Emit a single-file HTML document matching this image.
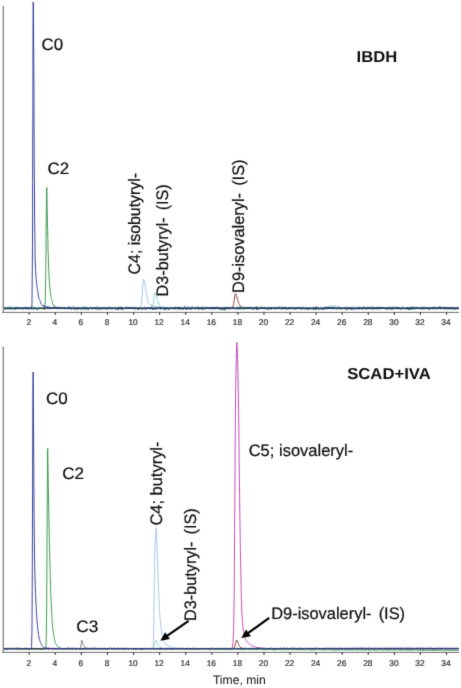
<!DOCTYPE html>
<html><head><meta charset="utf-8"><title>Chromatogram</title>
<style>
html,body{margin:0;padding:0;background:#fff;}
svg text{font-family:"Liberation Sans",Arial,sans-serif;fill:#0d0d0d;text-rendering:geometricPrecision;}
.lb{font-size:16.6px;stroke:#0d0d0d;stroke-width:0.2px;}
.ws{word-spacing:2.6px;}
.hd{font-size:15.8px;font-weight:bold;}
.ax{font-size:12.4px;}
.tk{font-size:8.35px;fill:#333;stroke:#333;stroke-width:0.22px;}
</style></head><body>
<svg width="461" height="688" viewBox="0 0 461 688" style="display:block">
<defs><filter id="soft" x="-2%" y="-2%" width="104%" height="104%" color-interpolation-filters="sRGB"><feConvolveMatrix order="3" kernelMatrix="0.0113 0.0838 0.0113 0.0838 0.6193 0.0838 0.0113 0.0838 0.0113" divisor="1" edgeMode="none" preserveAlpha="false"/></filter></defs>
<rect width="461" height="688" fill="#fff"/>
<g filter="url(#soft)">
<g id="p1">
<path d="M3.2,307.7 L3.8,306.8 L4.4,306.9 L5.0,308.1 L5.6,308.0 L6.2,308.1 L6.8,307.3 L7.4,307.8 L8.0,307.2 L8.6,309.1 L9.2,306.6 L9.8,307.8 L10.4,307.3 L11.0,307.8 L11.6,308.0 L12.2,307.4 L12.8,307.2 L13.4,307.9 L14.0,307.9 L14.6,307.3 L15.2,308.4 L15.8,308.8 L16.4,307.5 L17.0,308.2 L17.6,309.1 L18.2,308.3 L18.8,308.1 L19.4,308.6 L20.0,308.8 L20.6,307.7 L21.2,307.1 L21.8,307.9 L22.4,308.3 L23.0,307.5 L23.6,307.2 L24.2,308.0 L24.8,307.4 L25.4,307.0 L26.0,307.9 L26.6,308.3 L27.2,307.5 L27.8,307.6 L28.4,307.0 L29.0,308.7 L29.6,308.2 L30.2,308.3 L30.8,309.0 L31.4,307.7 L32.0,307.4 L32.6,308.3 L33.2,306.8 L33.8,307.2 L34.4,307.3 L35.0,307.5 L35.6,307.1 L36.2,308.7 L36.8,307.3 L37.4,307.3 L38.0,309.0 L38.6,307.5 L39.2,307.9 L39.8,307.2 L40.4,308.1 L41.0,307.8 L41.6,307.5 L42.2,308.4 L42.8,307.3 L43.4,307.8 L44.0,307.4 L44.6,308.1 L45.2,307.0 L45.8,307.3 L46.4,307.9 L47.0,307.3 L47.6,306.9 L48.2,306.5 L48.8,308.9 L49.4,307.1 L50.0,307.4 L50.6,307.8 L51.2,308.5 L51.8,306.9 L52.4,308.6 L53.0,307.3 L53.6,306.8 L54.2,308.9 L54.8,308.0 L55.4,308.7 L56.0,307.6 L56.6,306.7 L57.2,306.3 L57.8,309.0 L58.4,308.2 L59.0,307.2 L59.6,306.6 L60.2,307.5 L60.8,308.3 L61.4,307.5 L62.0,307.8 L62.6,307.9 L63.2,308.3 L63.8,307.5 L64.4,307.5 L65.0,307.8 L65.6,307.9 L66.2,308.7 L66.8,308.1 L67.4,306.9 L68.0,307.9 L68.6,308.8 L69.2,306.8 L69.8,307.4 L70.4,306.3 L71.0,307.7 L71.6,308.1 L72.2,308.8 L72.8,306.8 L73.4,305.9 L74.0,308.3 L74.6,308.2 L75.2,307.3 L75.8,308.3 L76.4,307.9 L77.0,308.0 L77.6,307.6 L78.2,307.0 L78.8,307.7 L79.4,307.1 L80.0,308.0 L80.6,307.5 L81.2,309.3 L81.8,308.8 L82.4,307.2 L83.0,308.2 L83.6,307.3 L84.2,307.4 L84.8,306.8 L85.4,307.2 L86.0,307.0 L86.6,307.8 L87.2,308.2 L87.8,308.3 L88.4,308.1 L89.0,308.6 L89.6,308.1 L90.2,307.8 L90.8,307.6 L91.4,308.0 L92.0,309.1 L92.6,307.8 L93.2,307.6 L93.8,307.0 L94.4,307.3 L95.0,308.2 L95.6,308.3 L96.2,306.3 L96.8,307.2 L97.4,306.4 L98.0,306.2 L98.6,308.3 L99.2,307.5 L99.8,307.4 L100.4,307.4 L101.0,307.4 L101.6,307.6 L102.2,307.6 L102.8,308.8 L103.4,307.9 L104.0,308.3 L104.6,307.7 L105.2,308.1 L105.8,307.3 L106.4,307.2 L107.0,307.5 L107.6,307.5 L108.2,307.7 L108.8,308.1 L109.4,307.9 L110.0,308.1 L110.6,307.5 L111.2,307.7 L111.8,307.3 L112.4,308.7 L113.0,307.1 L113.6,308.3 L114.2,308.3 L114.8,307.9 L115.4,308.2 L116.0,307.5 L116.6,308.2 L117.2,308.5 L117.8,308.4 L118.4,306.8 L119.0,307.7 L119.6,308.6 L120.2,307.7 L120.8,308.9 L121.4,306.5 L122.0,308.8 L122.6,307.4 L123.2,307.4 L123.8,308.8 L124.4,307.5 L125.0,307.0 L125.6,307.4 L126.2,307.6 L126.8,307.1 L127.4,307.6 L128.0,307.5 L128.6,307.8 L129.2,307.3 L129.8,308.4 L130.4,307.2 L131.0,308.1 L131.6,308.5 L132.2,307.5 L132.8,306.5 L133.4,307.1 L134.0,308.1 L134.6,307.3 L135.2,308.1 L135.8,307.8 L136.4,307.7 L137.0,309.4 L137.6,307.6 L137.7,307.8 L137.9,308.1 L138.1,308.4 L138.2,308.5 L138.3,308.4 L138.5,308.3 L138.7,308.3 L138.8,308.2 L138.9,308.3 L139.1,308.5 L139.3,308.7 L139.4,308.7 L139.5,308.7 L139.7,308.7 L139.9,308.6 L140.0,308.5 L140.1,308.3 L140.3,308.0 L140.5,307.5 L140.6,307.3 L140.7,306.7 L140.9,305.7 L141.1,304.4 L141.2,303.9 L141.3,303.1 L141.5,301.5 L141.7,299.6 L141.8,298.9 L141.9,297.9 L142.1,296.0 L142.3,293.9 L142.4,293.1 L142.5,291.2 L142.7,288.2 L142.9,285.3 L143.0,284.3 L143.1,282.9 L143.3,281.2 L143.5,279.9 L143.6,279.6 L143.7,279.2 L143.9,279.3 L144.1,280.6 L144.2,281.1 L144.3,281.4 L144.5,282.1 L144.7,282.7 L144.8,283.0 L144.9,283.8 L145.1,285.0 L145.3,286.2 L145.4,286.7 L145.5,287.7 L145.7,289.2 L145.9,290.7 L146.0,291.3 L146.1,292.0 L146.3,293.1 L146.5,294.1 L146.6,294.5 L146.7,295.1 L146.9,296.1 L147.1,297.1 L147.2,297.4 L147.3,298.2 L147.5,299.4 L147.7,300.5 L147.8,300.8 L147.9,301.4 L148.1,302.1 L148.3,302.8 L148.4,303.1 L148.5,303.2 L148.7,303.3 L148.9,303.4 L149.0,303.4 L149.1,303.7 L149.3,304.0 L149.5,304.2 L149.6,304.3 L149.7,304.5 L149.9,304.8 L150.1,305.0 L150.2,305.1 L150.3,305.0 L150.5,304.8 L150.7,304.7 L150.8,304.6 L150.9,304.6 L151.1,304.6 L151.3,304.5 L151.4,304.5 L151.5,304.9 L151.7,305.5 L151.9,306.1 L152.0,306.3 L152.1,306.2 L152.3,306.0 L152.5,305.9 L152.6,305.8 L152.7,305.8 L152.9,305.8 L153.1,305.8 L153.2,305.9 L153.3,305.9 L153.5,306.0 L153.7,306.2 L153.8,306.2 L153.9,306.2 L154.1,306.2 L154.3,306.1 L154.4,306.1 L154.5,306.4 L154.7,306.8 L154.9,307.1 L155.0,307.3 L155.1,307.1 L155.3,306.9 L155.5,306.7 L155.6,306.6 L155.7,306.4 L155.9,306.1 L156.1,305.9 L156.2,305.8 L156.3,306.0 L156.5,306.3 L156.7,306.6 L156.8,306.7 L156.9,307.0 L157.1,307.3 L157.3,307.7 L157.4,307.8 L157.5,307.6 L157.7,307.4 L157.9,307.1 L158.0,307.0 L158.1,306.9 L158.3,306.8 L158.5,306.6 L158.6,306.6 L158.7,306.7 L158.9,307.0 L159.1,307.2 L159.2,307.3 L159.3,307.4 L159.5,307.6 L159.7,307.9 L159.8,308.0 L159.9,307.6 L160.1,307.1 L160.3,306.7 L160.4,306.5 L160.5,306.9 L160.7,307.6 L160.9,308.3 L161.0,308.5 L161.1,308.2 L161.3,307.8 L161.5,307.4 L161.6,307.3 L161.7,307.4 L161.9,307.5 L162.1,307.6 L162.2,307.7 L162.3,307.8 L162.5,308.1 L162.7,308.4 L162.8,308.5 L162.9,308.1 L163.1,307.6 L163.3,307.0 L163.4,306.8 L163.5,306.9 L163.7,307.2 L163.9,307.4 L164.0,307.4 L164.1,307.7 L164.3,308.0 L164.5,308.4 L164.6,308.5 L164.7,308.3 L164.9,307.8 L165.1,307.4 L165.2,307.3 L165.3,307.4 L165.5,307.7 L165.7,307.9 L165.8,308.0 L165.9,308.2 L166.1,308.6 L166.3,308.9 L166.4,309.1 L166.5,308.9 L166.7,308.6 L166.9,308.3 L167.0,308.2 L167.1,308.1 L167.3,307.8 L167.6,307.5 L168.2,307.3 L168.8,307.6 L169.4,307.7 L170.0,307.4 L170.6,307.9 L171.2,306.9 L171.8,307.6 L172.4,307.5 L173.0,307.4 L173.6,308.5 L174.2,308.3 L174.8,306.7 L175.4,307.5 L176.0,307.9 L176.6,307.5 L177.2,308.1 L177.8,307.6 L178.4,308.2 L179.0,307.6 L179.6,308.9 L180.2,306.8 L180.8,308.1 L181.4,308.9 L182.0,307.9 L182.6,308.0 L183.2,307.6 L183.8,308.6 L184.4,307.5 L185.0,305.2 L185.6,308.7 L186.2,307.5 L186.8,308.0 L187.4,307.6 L188.0,309.0 L188.6,308.6 L189.2,307.4 L189.8,307.8 L190.4,306.6 L191.0,308.3 L191.6,307.6 L192.2,305.7 L192.8,308.3 L193.4,308.4 L194.0,307.8 L194.6,307.8 L195.2,307.1 L195.8,307.7 L196.4,308.3 L197.0,307.6 L197.6,305.9 L198.2,306.8 L198.8,309.7 L199.4,307.9 L200.0,308.4 L200.6,307.3 L201.2,307.9 L201.8,306.4 L202.4,307.1 L203.0,307.1 L203.6,307.6 L204.2,307.8 L204.8,307.5 L205.4,306.8 L206.0,307.4 L206.6,308.0 L207.2,306.8 L207.8,307.6 L208.4,307.8 L209.0,308.3 L209.6,308.2 L210.2,308.2 L210.8,309.7 L211.4,307.0 L212.0,307.3 L212.6,307.9 L213.2,307.0 L213.8,307.4 L214.4,307.5 L215.0,309.5 L215.6,307.9 L216.2,307.4 L216.8,306.6 L217.4,306.4 L218.0,306.7 L218.6,308.6 L219.2,309.3 L219.8,307.3 L220.4,307.7 L221.0,307.1 L221.6,307.8 L222.2,307.6 L222.8,308.8 L223.4,307.4 L224.0,308.1 L224.6,307.5 L225.2,307.4 L225.8,307.8 L226.4,307.5 L227.0,307.8 L227.6,307.2 L228.2,307.4 L228.8,308.1 L229.4,308.2 L230.0,306.5 L230.6,307.8 L231.2,307.0 L231.8,307.5 L232.4,308.2 L233.0,308.3 L233.6,307.7 L234.2,307.6 L234.8,307.3 L235.4,308.7 L236.0,308.2 L236.6,307.8 L237.2,306.6 L237.8,309.4 L238.4,307.4 L239.0,308.1 L239.6,307.4 L240.2,308.1 L240.8,307.5 L241.4,306.6 L242.0,307.5 L242.6,307.4 L243.2,307.5 L243.8,308.3 L244.4,307.4 L245.0,307.9 L245.6,308.3 L246.2,307.8 L246.8,307.9 L247.4,307.2 L248.0,307.8 L248.6,308.1 L249.2,306.7 L249.8,307.0 L250.4,306.8 L251.0,307.3 L251.6,307.8 L252.2,308.0 L252.8,307.9 L253.4,307.1 L254.0,307.7 L254.6,308.8 L255.2,307.8 L255.8,308.8 L256.4,307.6 L257.0,308.6 L257.6,308.6 L258.2,307.7 L258.8,307.8 L259.4,308.9 L260.0,307.2 L260.6,306.2 L261.2,308.8 L261.8,306.5 L262.4,308.2 L263.0,308.1 L263.6,307.9 L264.2,308.8 L264.8,306.8 L265.4,307.4 L266.0,308.3 L266.6,307.9 L267.2,308.8 L267.8,308.0 L268.4,307.1 L269.0,309.0 L269.6,308.1 L270.2,307.6 L270.8,307.0 L271.4,306.8 L272.0,308.1 L272.6,308.3 L273.2,307.4 L273.8,308.0 L274.4,308.0 L275.0,307.0 L275.6,306.5 L276.2,307.6 L276.8,307.9 L277.4,307.3 L278.0,309.1 L278.6,307.8 L279.2,308.5 L279.8,306.1 L280.4,307.2 L281.0,307.6 L281.6,307.9 L282.2,309.5 L282.8,307.2 L283.4,306.6 L284.0,308.3 L284.6,307.3 L285.2,307.2 L285.8,308.9 L286.4,307.1 L287.0,306.8 L287.6,307.6 L288.2,307.8 L288.8,307.2 L289.4,308.8 L290.0,307.7 L290.6,307.0 L291.2,308.6 L291.8,307.0 L292.4,308.0 L293.0,309.2 L293.6,307.8 L294.2,308.4 L294.8,307.5 L295.4,308.6 L296.0,307.0 L296.6,308.3 L297.2,307.5 L297.8,308.2 L298.4,308.0 L299.0,306.9 L299.6,307.6 L300.2,308.0 L300.8,308.6 L301.4,306.9 L302.0,307.2 L302.6,308.0 L303.2,307.6 L303.8,308.5 L304.4,308.5 L305.0,308.3 L305.6,307.5 L306.2,307.5 L306.8,308.3 L307.4,307.2 L308.0,307.2 L308.2,307.4 L308.4,307.5 L308.6,307.6 L308.8,307.4 L309.0,307.2 L309.2,307.0 L309.2,307.1 L309.4,307.4 L309.6,307.7 L309.8,308.0 L309.8,307.9 L310.0,307.9 L310.2,307.9 L310.4,307.8 L310.6,307.7 L310.8,307.5 L311.0,307.4 L311.2,307.5 L311.4,307.7 L311.6,307.8 L311.6,307.7 L311.8,307.5 L312.0,307.3 L312.2,307.2 L312.2,307.3 L312.4,307.7 L312.6,308.2 L312.8,308.6 L312.8,308.5 L313.0,307.9 L313.2,307.3 L313.4,306.7 L313.4,306.8 L313.6,307.3 L313.8,307.9 L314.0,308.3 L314.2,308.1 L314.4,308.0 L314.6,307.9 L314.8,308.2 L315.0,308.5 L315.2,308.7 L315.2,308.6 L315.4,308.2 L315.6,307.7 L315.8,307.3 L316.0,307.1 L316.2,306.9 L316.4,306.8 L316.6,306.9 L316.8,306.9 L317.0,306.9 L317.0,307.0 L317.2,307.0 L317.4,307.1 L317.6,307.1 L317.6,307.2 L317.8,307.7 L318.0,308.3 L318.2,308.8 L318.4,308.6 L318.6,308.4 L318.8,308.2 L319.0,308.1 L319.2,308.0 L319.4,308.0 L319.6,308.1 L319.8,308.2 L320.0,308.3 L320.0,308.2 L320.2,307.7 L320.4,307.2 L320.6,306.8 L320.8,307.0 L321.0,307.2 L321.2,307.4 L321.4,307.4 L321.6,307.5 L321.8,307.5 L322.0,307.3 L322.2,307.2 L322.4,307.1 L322.6,307.5 L322.8,307.8 L323.0,308.1 L323.2,308.0 L323.4,308.0 L323.6,308.0 L323.8,307.9 L324.0,307.9 L324.2,307.9 L324.2,307.8 L324.4,307.5 L324.6,307.1 L324.8,306.8 L325.0,306.8 L325.2,306.8 L325.4,306.8 L325.6,306.7 L325.8,306.7 L326.0,306.6 L326.2,306.4 L326.4,306.3 L326.6,306.1 L326.6,306.2 L326.8,306.8 L327.0,307.3 L327.2,307.8 L327.2,307.7 L327.4,307.5 L327.6,307.3 L327.8,307.1 L328.0,306.9 L328.2,306.7 L328.4,306.5 L328.4,306.6 L328.6,306.9 L328.8,307.2 L329.0,307.5 L329.2,307.3 L329.4,307.0 L329.6,306.9 L329.6,306.8 L329.8,306.4 L330.0,306.0 L330.2,305.7 L330.4,305.6 L330.6,305.6 L330.8,305.6 L331.0,305.6 L331.2,305.5 L331.4,305.5 L331.4,305.6 L331.6,305.8 L331.8,306.0 L332.0,306.2 L332.2,306.3 L332.4,306.4 L332.6,306.4 L332.8,306.0 L333.0,305.7 L333.2,305.5 L333.4,305.9 L333.6,306.2 L333.8,306.5 L334.0,306.3 L334.2,306.2 L334.4,306.0 L334.6,305.8 L334.8,305.6 L335.0,305.4 L335.2,305.9 L335.4,306.3 L335.6,306.6 L335.6,306.7 L335.8,306.7 L336.0,306.8 L336.2,306.9 L336.4,306.7 L336.6,306.6 L336.8,306.5 L337.0,306.4 L337.2,306.3 L337.4,306.2 L337.6,306.2 L337.8,306.3 L338.0,306.3 L338.0,306.4 L338.2,306.5 L338.4,306.6 L338.6,306.7 L338.8,306.6 L339.0,306.5 L339.2,306.5 L339.2,306.6 L339.4,307.1 L339.6,307.6 L339.8,308.1 L340.0,307.9 L340.2,307.8 L340.4,307.7 L340.4,307.6 L340.6,307.4 L340.8,307.2 L341.0,307.0 L341.0,307.1 L341.2,307.3 L341.4,307.6 L341.6,307.9 L341.8,308.0 L342.0,308.1 L342.2,308.2 L342.4,308.2 L342.6,308.2 L342.8,308.2 L343.0,308.2 L343.2,308.1 L343.4,308.1 L343.4,308.0 L343.6,307.9 L343.8,307.7 L344.0,307.6 L344.2,307.8 L344.4,308.1 L344.6,308.2 L344.8,307.9 L345.0,307.6 L345.2,307.4 L345.2,307.3 L345.4,307.0 L345.6,306.7 L345.8,306.4 L345.8,306.5 L346.0,306.9 L346.2,307.4 L346.4,307.7 L346.6,307.4 L346.8,307.0 L347.0,306.7 L347.0,306.8 L347.2,307.0 L347.4,307.3 L347.6,307.5 L347.8,307.9 L348.0,308.2 L348.2,308.5 L348.4,308.3 L348.6,308.1 L348.8,307.9 L349.0,308.1 L349.2,308.3 L349.4,308.4 L349.6,307.9 L349.8,307.5 L350.0,307.2 L350.2,307.7 L350.4,308.2 L350.6,308.5 L350.8,307.9 L351.0,307.3 L351.2,306.8 L351.4,307.0 L351.6,307.2 L351.8,307.3 L351.8,307.4 L352.0,308.0 L352.2,308.7 L352.4,309.2 L352.4,309.1 L352.6,308.4 L352.8,307.8 L353.0,307.2 L353.2,307.0 L353.4,306.8 L353.6,306.6 L353.6,306.7 L353.8,307.3 L354.0,307.8 L354.2,308.3 L354.2,308.2 L354.4,307.8 L354.6,307.4 L354.8,307.0 L354.8,307.1 L355.0,307.8 L355.2,308.5 L355.4,309.0 L355.6,308.5 L355.8,308.0 L356.0,307.6 L356.2,308.1 L356.4,308.5 L356.6,308.9 L356.8,308.3 L357.0,307.8 L357.2,307.4 L357.2,307.5 L357.4,308.0 L357.6,308.6 L357.8,309.0 L357.8,309.1 L358.0,309.3 L358.2,309.5 L358.4,309.6 L358.4,309.5 L358.6,308.8 L358.8,308.1 L359.0,307.5 L359.0,307.4 L359.2,307.0 L359.4,306.5 L359.6,306.1 L359.6,306.2 L359.8,306.9 L360.0,307.6 L360.2,308.2 L360.2,308.1 L360.4,307.8 L360.6,307.4 L360.8,307.2 L361.0,307.4 L361.2,307.5 L361.4,307.7 L361.6,307.8 L361.8,307.9 L362.0,308.0 L362.0,307.9 L362.2,307.7 L362.4,307.5 L362.6,307.3 L362.8,307.0 L363.0,306.8 L363.2,306.6 L363.2,306.7 L363.4,307.4 L363.6,308.0 L363.8,308.6 L364.0,308.1 L364.2,307.7 L364.4,307.3 L364.4,307.4 L364.6,307.4 L364.8,307.5 L365.0,307.5 L365.0,307.6 L365.2,308.0 L365.4,308.4 L365.6,308.8 L365.6,308.7 L365.8,307.9 L366.0,307.2 L366.2,306.6 L366.4,306.5 L366.6,306.4 L366.8,306.4 L366.8,306.5 L367.0,307.2 L367.2,307.8 L367.4,308.4 L367.4,308.3 L367.6,307.7 L367.8,307.1 L368.0,306.5 L368.0,306.6 L368.2,307.0 L368.4,307.4 L368.6,307.7 L368.8,307.8 L369.0,307.8 L369.2,307.9 L369.2,307.8 L369.4,307.4 L369.6,307.0 L369.8,306.7 L370.0,307.0 L370.2,307.3 L370.4,307.6 L370.6,307.6 L370.8,307.5 L371.0,307.5 L371.6,306.7 L372.2,306.8 L372.8,307.1 L373.4,308.7 L374.0,308.9 L374.6,306.9 L375.2,308.4 L375.8,307.6 L376.4,308.5 L377.0,307.9 L377.6,308.7 L378.2,306.6 L378.8,308.5 L379.4,307.8 L380.0,307.9 L380.6,306.9 L381.2,308.8 L381.8,307.8 L382.4,307.9 L383.0,307.4 L383.6,307.4 L384.2,308.1 L384.8,307.6 L385.4,308.0 L386.0,307.4 L386.6,307.8 L387.2,308.2 L387.8,307.8 L388.4,307.5 L389.0,306.1 L389.6,308.1 L390.2,307.5 L390.8,306.7 L391.4,309.2 L392.0,309.0 L392.6,308.6 L393.2,307.8 L393.8,306.0 L394.4,307.5 L395.0,306.9 L395.6,307.9 L396.2,309.5 L396.8,309.4 L397.4,307.0 L398.0,307.6 L398.6,308.7 L399.2,307.0 L399.8,308.8 L400.4,306.9 L401.0,306.7 L401.6,308.3 L402.2,308.5 L402.8,307.1 L403.4,308.5 L404.0,307.1 L404.6,308.6 L405.2,307.2 L405.8,307.7 L406.4,308.1 L407.0,308.4 L407.6,307.6 L408.2,309.1 L408.8,307.9 L409.4,308.0 L410.0,307.3 L410.6,308.6 L411.2,306.5 L411.8,308.0 L412.4,308.6 L413.0,306.8 L413.6,306.6 L414.2,307.9 L414.8,308.4 L415.4,307.7 L416.0,308.2 L416.6,308.0 L417.2,306.6 L417.8,307.5 L418.4,307.6 L419.0,307.5 L419.6,307.8 L420.2,307.2 L420.8,307.1 L421.4,308.0 L422.0,307.7 L422.6,306.0 L423.2,307.5 L423.8,307.9 L424.4,306.3 L425.0,307.7 L425.6,308.5 L426.2,307.3 L426.8,308.4 L427.4,308.1 L428.0,307.5 L428.6,307.8 L429.2,308.3 L429.8,308.1 L430.4,308.2 L431.0,306.9 L431.6,308.3 L432.2,308.2 L432.8,306.3 L433.4,308.1 L434.0,306.7 L434.6,306.8 L435.2,307.9 L435.8,308.8 L436.4,307.4 L437.0,307.3 L437.6,307.1 L438.2,307.7 L438.8,306.9 L439.4,306.8 L440.0,308.5 L440.6,306.7 L441.2,307.6 L441.8,308.2 L442.4,308.0 L443.0,306.4 L443.6,307.1 L444.2,309.0 L444.8,307.7 L445.4,307.8 L446.0,307.9 L446.6,308.1 L447.2,308.8 L447.8,307.1 L448.4,308.4 L449.0,308.0 L449.6,308.2 L450.2,308.3 L450.8,307.2 L451.4,307.5 L452.0,308.2 L452.6,308.4 L453.2,308.1 L453.8,307.1 L454.4,307.7 L455.0,307.6 L455.6,308.0 L456.2,307.9 L456.8,307.6 L457.4,309.1 L458.0,306.6 L458.6,308.3" fill="none" stroke="#9fc0e3" stroke-width="1.0" stroke-linejoin="round" stroke-linecap="butt"/>
<path d="M3.2,308.0 L3.8,308.4 L4.4,309.0 L5.0,307.9 L5.6,307.3 L6.2,308.6 L6.8,307.2 L7.4,308.7 L8.0,308.5 L8.6,307.8 L9.2,308.0 L9.8,307.6 L10.4,308.5 L11.0,308.7 L11.6,309.1 L12.2,308.8 L12.8,308.7 L13.4,308.9 L14.0,307.9 L14.6,308.4 L15.2,309.2 L15.8,306.6 L16.4,308.5 L17.0,308.8 L17.6,307.3 L18.2,307.4 L18.8,308.7 L19.4,308.9 L20.0,308.6 L20.6,307.4 L21.2,308.2 L21.8,308.5 L22.4,308.1 L23.0,307.3 L23.6,308.9 L24.2,308.3 L24.8,308.9 L25.4,306.8 L26.0,307.0 L26.6,307.5 L27.2,308.1 L27.8,307.7 L28.4,309.3 L29.0,307.9 L29.6,308.8 L30.2,308.8 L30.8,308.5 L31.4,308.3 L32.0,307.7 L32.6,307.6 L33.2,307.9 L33.8,308.6 L34.4,307.7 L35.0,308.1 L35.6,307.4 L36.2,308.6 L36.8,309.7 L37.4,308.3 L38.0,306.8 L38.6,307.8 L39.2,308.2 L39.8,307.5 L40.4,307.8 L41.0,307.8 L41.6,308.4 L42.2,308.0 L42.8,307.9 L43.4,308.4 L44.0,308.7 L44.6,308.0 L45.2,307.5 L45.8,307.7 L46.4,307.8 L47.0,307.8 L47.6,306.5 L48.2,307.9 L48.8,307.4 L49.4,306.9 L50.0,308.0 L50.6,307.9 L51.2,307.4 L51.8,307.1 L52.4,307.9 L53.0,307.8 L53.6,308.0 L54.2,308.8 L54.8,307.4 L55.4,308.2 L56.0,309.1 L56.6,308.1 L57.2,309.1 L57.8,308.6 L58.4,308.0 L59.0,308.6 L59.6,307.4 L60.2,308.9 L60.8,307.9 L61.4,307.7 L62.0,307.2 L62.6,307.5 L63.2,307.9 L63.8,308.0 L64.4,308.1 L65.0,307.4 L65.6,308.4 L66.2,307.7 L66.8,308.1 L67.4,307.9 L68.0,308.2 L68.6,306.8 L69.2,308.4 L69.8,307.9 L70.4,307.9 L71.0,307.7 L71.6,307.8 L72.2,307.8 L72.8,307.5 L73.4,308.9 L74.0,308.0 L74.6,308.8 L75.2,307.9 L75.8,308.7 L76.4,308.6 L77.0,308.1 L77.6,307.2 L78.2,307.7 L78.8,307.9 L79.4,307.2 L80.0,308.6 L80.6,309.3 L81.2,308.3 L81.8,308.2 L82.4,307.3 L83.0,306.8 L83.6,308.8 L84.2,306.6 L84.8,307.1 L85.4,307.5 L86.0,307.8 L86.6,306.6 L87.2,308.0 L87.8,308.3 L88.4,308.0 L89.0,308.8 L89.6,307.8 L90.2,308.1 L90.8,307.8 L91.4,307.8 L92.0,308.7 L92.6,307.3 L93.2,308.6 L93.8,307.5 L94.4,309.0 L95.0,307.8 L95.6,308.5 L96.2,308.0 L96.8,308.4 L97.4,309.3 L98.0,308.7 L98.6,308.0 L99.2,307.7 L99.8,308.9 L100.4,309.3 L101.0,308.6 L101.6,308.2 L102.2,308.4 L102.8,308.5 L103.4,307.5 L104.0,307.5 L104.6,307.6 L105.2,308.6 L105.8,308.0 L106.4,308.2 L107.0,308.9 L107.6,307.5 L108.2,308.0 L108.8,308.3 L109.4,307.2 L110.0,307.6 L110.6,307.5 L111.2,307.3 L111.8,307.6 L112.4,308.8 L113.0,308.3 L113.6,307.5 L114.2,308.5 L114.8,308.0 L115.4,307.8 L116.0,307.2 L116.6,307.3 L117.2,307.5 L117.8,308.2 L118.4,307.5 L119.0,307.7 L119.6,308.1 L120.2,307.2 L120.8,307.8 L121.4,308.5 L122.0,307.3 L122.6,308.2 L123.2,307.7 L123.8,308.9 L124.4,308.1 L125.0,308.6 L125.6,308.6 L126.2,309.2 L126.8,306.8 L127.4,308.1 L128.0,307.9 L128.6,307.4 L129.2,308.1 L129.8,307.7 L130.4,308.8 L131.0,307.9 L131.6,308.3 L132.2,307.8 L132.8,307.9 L133.4,308.9 L134.0,309.1 L134.6,308.6 L135.2,307.6 L135.8,307.8 L136.4,307.8 L137.0,309.2 L137.6,309.6 L138.2,308.4 L138.8,308.2 L139.4,308.4 L140.0,307.8 L140.6,308.1 L141.2,308.7 L141.8,308.6 L142.4,308.0 L143.0,308.0 L143.6,308.1 L144.2,306.7 L144.8,308.2 L145.4,308.0 L146.0,308.6 L146.6,308.3 L147.2,307.7 L147.8,307.7 L148.4,308.1 L149.0,307.8 L149.5,308.0 L149.6,308.0 L149.7,308.3 L149.9,308.6 L150.1,309.0 L150.2,309.2 L150.3,309.3 L150.5,309.6 L150.7,309.9 L150.8,310.0 L150.9,309.2 L151.1,308.1 L151.3,307.0 L151.4,306.6 L151.5,306.7 L151.7,306.9 L151.9,307.1 L152.0,307.1 L152.1,307.0 L152.3,306.9 L152.5,306.5 L152.6,306.4 L152.7,306.1 L152.9,305.6 L153.1,304.8 L153.2,304.4 L153.3,303.5 L153.5,301.8 L153.7,300.0 L153.8,299.4 L153.9,297.9 L154.1,295.7 L154.3,293.6 L154.4,293.0 L154.5,292.8 L154.7,292.9 L154.9,293.4 L155.0,293.8 L155.1,293.7 L155.3,293.7 L155.5,293.7 L155.6,293.7 L155.7,293.9 L155.9,294.2 L156.1,294.6 L156.2,294.8 L156.3,295.3 L156.5,296.2 L156.7,297.0 L156.8,297.3 L156.9,297.7 L157.1,298.4 L157.3,299.0 L157.4,299.2 L157.5,299.8 L157.7,300.7 L157.9,301.5 L158.0,301.8 L158.1,301.9 L158.3,302.0 L158.5,302.1 L158.6,302.1 L158.7,302.9 L158.9,304.0 L159.1,305.1 L159.2,305.5 L159.3,305.8 L159.5,306.2 L159.7,306.6 L159.8,306.7 L159.9,306.7 L160.1,306.6 L160.3,306.5 L160.4,306.5 L160.5,306.4 L160.7,306.4 L160.9,306.3 L161.0,306.2 L161.1,306.5 L161.3,306.9 L161.5,307.3 L161.6,307.4 L161.7,307.3 L161.9,307.2 L162.1,307.0 L162.2,306.9 L162.3,307.2 L162.5,307.5 L162.7,307.9 L162.8,308.0 L162.9,308.1 L163.1,308.2 L163.3,308.4 L163.4,308.4 L163.5,308.1 L163.7,307.6 L163.9,307.2 L164.0,307.0 L164.1,307.0 L164.3,307.0 L164.5,306.9 L164.6,306.9 L164.7,306.9 L164.9,307.0 L165.1,307.0 L165.2,307.0 L165.3,307.2 L165.5,307.6 L165.7,308.0 L165.8,308.2 L165.9,308.3 L166.1,308.4 L166.3,308.6 L166.4,308.6 L166.5,308.6 L166.7,308.6 L166.9,308.6 L167.0,308.7 L167.1,308.5 L167.3,308.4 L167.5,308.2 L167.6,308.1 L167.7,308.0 L167.9,307.9 L168.1,307.7 L168.2,307.7 L168.3,307.7 L168.5,307.7 L168.7,307.7 L168.8,307.7 L168.9,308.0 L169.1,308.3 L169.3,308.7 L169.4,308.9 L169.5,308.6 L169.7,308.3 L169.9,308.0 L170.0,307.9 L170.1,307.9 L170.3,308.0 L170.5,308.0 L170.6,308.0 L170.7,308.0 L170.9,308.0 L171.1,308.0 L171.2,308.0 L171.3,308.0 L171.5,308.0 L171.7,308.0 L171.8,308.0 L171.9,308.1 L172.1,308.1 L172.3,308.1 L172.4,308.2 L172.5,308.1 L172.7,307.9 L172.9,307.7 L173.0,307.7 L173.1,307.7 L173.3,307.8 L173.5,307.9 L173.6,308.0 L173.7,308.0 L173.9,307.9 L174.1,307.9 L174.2,307.9 L174.3,308.0 L174.5,308.2 L174.7,308.4 L174.8,308.4 L174.9,308.3 L175.4,307.8 L176.0,308.1 L176.6,309.3 L177.2,307.8 L177.8,308.2 L178.4,307.5 L179.0,308.1 L179.6,308.1 L180.2,307.9 L180.8,308.1 L181.4,308.3 L182.0,309.1 L182.6,307.0 L183.2,309.0 L183.8,308.3 L184.4,307.7 L185.0,307.8 L185.6,307.7 L186.2,307.6 L186.8,307.3 L187.4,307.9 L188.0,306.3 L188.6,308.6 L189.2,307.9 L189.8,308.3 L190.4,308.4 L191.0,307.9 L191.6,307.2 L192.2,308.5 L192.8,308.5 L193.4,307.6 L194.0,307.7 L194.6,306.9 L195.2,307.4 L195.8,307.9 L196.4,308.2 L197.0,307.9 L197.6,308.2 L198.2,308.9 L198.8,308.0 L199.4,308.2 L200.0,308.2 L200.6,308.3 L201.2,307.1 L201.8,307.6 L202.4,307.5 L203.0,308.4 L203.6,308.7 L204.2,308.2 L204.8,307.9 L205.4,308.3 L206.0,308.2 L206.6,307.5 L207.2,307.9 L207.8,308.6 L208.4,308.3 L209.0,308.4 L209.6,307.9 L210.2,308.7 L210.8,308.2 L211.4,307.6 L212.0,308.0 L212.6,308.6 L213.2,308.4 L213.8,308.0 L214.4,307.8 L215.0,307.6 L215.6,308.1 L216.2,308.8 L216.8,307.2 L217.4,307.9 L218.0,307.8 L218.6,307.9 L219.2,308.7 L219.8,308.2 L220.4,307.9 L221.0,307.4 L221.6,308.0 L222.2,309.9 L222.8,308.2 L223.4,307.8 L224.0,307.3 L224.6,307.6 L225.2,306.6 L225.8,307.2 L226.4,307.3 L227.0,307.5 L227.6,308.9 L228.2,307.6 L228.8,307.7 L229.4,308.4 L230.0,307.7 L230.6,307.8 L231.2,308.3 L231.8,308.1 L232.4,308.2 L233.0,307.9 L233.6,308.3 L234.2,307.7 L234.8,309.2 L235.4,308.2 L236.0,309.0 L236.6,308.3 L237.2,307.7 L237.8,308.0 L238.4,308.1 L239.0,308.0 L239.6,307.1 L240.2,308.7 L240.8,307.5 L241.4,308.9 L242.0,308.3 L242.6,308.0 L243.2,308.6 L243.8,307.9 L244.4,307.6 L245.0,308.8 L245.6,308.1 L246.2,308.3 L246.8,309.2 L247.4,308.2 L248.0,308.5 L248.6,307.3 L249.2,308.6 L249.8,307.1 L250.4,308.4 L251.0,306.9 L251.6,307.7 L252.2,307.8 L252.8,307.6 L253.4,307.5 L254.0,307.2 L254.6,307.0 L255.2,308.3 L255.8,308.8 L256.4,309.6 L257.0,308.3 L257.6,307.6 L258.2,307.8 L258.8,308.0 L259.4,308.3 L260.0,308.4 L260.6,308.2 L261.2,307.8 L261.8,309.1 L262.4,307.6 L263.0,308.9 L263.6,308.1 L264.2,308.4 L264.8,308.3 L265.4,308.7 L266.0,308.7 L266.6,308.2 L267.2,308.7 L267.8,306.6 L268.4,308.3 L269.0,308.4 L269.6,308.4 L270.2,308.7 L270.8,309.5 L271.4,308.2 L272.0,307.9 L272.6,308.9 L273.2,308.1 L273.8,308.8 L274.4,308.1 L275.0,307.8 L275.6,307.8 L276.2,307.8 L276.8,308.5 L277.4,307.5 L278.0,308.3 L278.6,307.8 L279.2,307.6 L279.8,308.2 L280.4,308.8 L281.0,307.7 L281.6,308.7 L282.2,308.6 L282.8,308.7 L283.4,307.6 L284.0,308.2 L284.6,309.4 L285.2,307.6 L285.8,306.8 L286.4,307.0 L287.0,308.4 L287.6,308.0 L288.2,307.8 L288.8,307.5 L289.4,308.0 L290.0,308.7 L290.6,307.6 L291.2,307.7 L291.8,308.8 L292.4,308.3 L293.0,307.9 L293.6,308.1 L294.2,307.7 L294.8,307.6 L295.4,307.7 L296.0,308.1 L296.6,308.8 L297.2,307.7 L297.8,307.2 L298.4,306.9 L299.0,308.1 L299.6,308.1 L300.2,307.2 L300.8,307.2 L301.4,307.9 L302.0,307.6 L302.6,308.5 L303.2,307.7 L303.8,308.5 L304.4,308.1 L305.0,308.1 L305.6,308.3 L306.2,309.3 L306.8,308.5 L307.4,307.9 L308.0,308.1 L308.6,308.3 L309.2,307.8 L309.8,307.7 L310.4,307.6 L311.0,308.5 L311.6,308.0 L312.2,308.3 L312.8,308.6 L313.4,308.9 L314.0,308.1 L314.6,308.6 L315.2,306.8 L315.8,308.1 L316.4,308.2 L317.0,308.3 L317.6,307.0 L318.2,308.6 L318.8,308.2 L319.4,308.5 L320.0,308.1 L320.6,308.1 L321.2,307.4 L321.8,308.9 L322.4,308.1 L323.0,307.1 L323.6,308.4 L324.2,308.2 L324.8,308.6 L325.4,309.6 L326.0,308.1 L326.6,307.4 L327.2,308.3 L327.8,309.1 L328.4,307.9 L329.0,308.0 L329.6,307.5 L330.2,307.5 L330.8,308.2 L331.4,307.8 L332.0,309.1 L332.6,307.4 L333.2,308.0 L333.8,307.4 L334.4,307.4 L335.0,308.2 L335.6,308.1 L336.2,308.6 L336.8,309.3 L337.4,308.1 L338.0,308.0 L338.6,308.7 L339.2,307.6 L339.8,308.0 L340.4,307.8 L341.0,308.5 L341.6,309.1 L342.2,307.6 L342.8,307.7 L343.4,308.1 L344.0,308.3 L344.6,308.2 L345.2,308.1 L345.8,308.4 L346.4,309.2 L347.0,307.6 L347.6,308.9 L348.2,308.3 L348.8,308.2 L349.4,307.9 L350.0,309.0 L350.6,307.4 L351.2,307.7 L351.8,307.6 L352.4,307.3 L353.0,308.5 L353.6,309.9 L354.2,307.9 L354.8,307.3 L355.4,307.4 L356.0,308.4 L356.6,308.1 L357.2,307.9 L357.8,309.1 L358.4,308.4 L359.0,308.4 L359.6,307.1 L360.2,308.4 L360.8,307.1 L361.4,308.0 L362.0,309.0 L362.6,306.7 L363.2,308.6 L363.8,307.7 L364.4,307.0 L365.0,308.4 L365.6,308.8 L366.2,307.4 L366.8,308.0 L367.4,308.8 L368.0,308.7 L368.6,308.3 L369.2,307.5 L369.8,308.2 L370.4,307.7 L371.0,307.1 L371.6,307.3 L372.2,307.2 L372.8,307.3 L373.4,309.0 L374.0,307.3 L374.6,307.9 L375.2,308.1 L375.8,308.7 L376.4,309.0 L377.0,308.7 L377.6,308.1 L378.2,308.7 L378.8,308.5 L379.4,308.4 L380.0,307.7 L380.6,308.2 L381.2,308.1 L381.8,307.3 L382.4,308.2 L383.0,307.7 L383.6,308.7 L384.2,307.9 L384.8,308.0 L385.4,307.9 L386.0,308.3 L386.6,308.7 L387.2,308.2 L387.8,308.3 L388.4,307.4 L389.0,307.5 L389.6,308.8 L390.2,307.7 L390.8,308.3 L391.4,307.8 L392.0,308.3 L392.6,308.9 L393.2,307.5 L393.8,307.8 L394.4,308.8 L395.0,309.2 L395.6,308.4 L396.2,308.7 L396.8,308.3 L397.4,307.7 L398.0,307.2 L398.6,308.3 L399.2,307.2 L399.8,307.4 L400.4,308.3 L401.0,309.0 L401.6,307.5 L402.2,307.7 L402.8,306.7 L403.4,307.2 L404.0,307.6 L404.6,307.1 L405.2,308.7 L405.8,307.9 L406.4,308.2 L407.0,307.0 L407.6,307.7 L408.2,309.8 L408.8,307.2 L409.4,308.6 L410.0,307.6 L410.6,308.3 L411.2,307.9 L411.8,307.7 L412.4,307.9 L413.0,308.6 L413.6,307.2 L414.2,307.8 L414.8,308.1 L415.4,307.6 L416.0,308.4 L416.6,306.9 L417.2,307.9 L417.8,307.8 L418.4,307.8 L419.0,308.6 L419.6,308.7 L420.2,307.9 L420.8,307.8 L421.4,307.2 L422.0,307.8 L422.6,308.7 L423.2,307.7 L423.8,307.6 L424.4,307.4 L425.0,307.8 L425.6,308.8 L426.2,307.4 L426.8,308.5 L427.4,307.7 L428.0,309.0 L428.6,307.6 L429.2,308.5 L429.8,307.4 L430.4,307.0 L431.0,307.4 L431.6,308.7 L432.2,308.6 L432.8,308.6 L433.4,307.7 L434.0,307.8 L434.6,307.9 L435.2,307.9 L435.8,307.7 L436.4,307.7 L437.0,307.0 L437.6,308.1 L438.2,307.9 L438.8,309.1 L439.4,308.8 L440.0,308.4 L440.6,308.7 L441.2,307.9 L441.8,307.4 L442.4,308.3 L443.0,308.3 L443.6,308.3 L444.2,308.0 L444.8,308.4 L445.4,307.8 L446.0,307.9 L446.6,307.8 L447.2,307.6 L447.8,308.0 L448.4,308.0 L449.0,307.0 L449.6,308.1 L450.2,307.6 L450.8,308.0 L451.4,308.3 L452.0,308.3 L452.6,308.5 L453.2,308.0 L453.8,308.4 L454.4,308.3 L455.0,307.3 L455.6,308.1 L456.2,307.4 L456.8,307.9 L457.4,307.5 L458.0,308.4 L458.6,308.0" fill="none" stroke="#7ccfc2" stroke-width="0.85" stroke-linejoin="round" stroke-linecap="butt"/>
<path d="M3.2,308.2 L3.8,308.0 L4.4,308.7 L5.0,308.5 L5.6,308.1 L6.2,308.0 L6.8,308.4 L7.4,308.3 L8.0,308.4 L8.6,308.3 L9.2,308.7 L9.8,308.8 L10.4,308.3 L11.0,308.9 L11.6,308.6 L12.2,308.5 L12.8,308.6 L13.4,308.2 L14.0,308.4 L14.6,308.3 L15.2,308.6 L15.8,308.5 L16.4,308.1 L17.0,308.1 L17.6,308.4 L18.2,308.1 L18.8,308.2 L19.4,308.2 L20.0,307.7 L20.6,308.4 L21.2,308.1 L21.8,308.1 L22.4,308.3 L23.0,308.7 L23.6,308.0 L24.2,308.2 L24.8,308.2 L25.4,308.3 L26.0,308.3 L26.6,308.6 L27.2,308.2 L27.8,308.9 L28.4,308.3 L29.0,308.8 L29.6,308.4 L30.2,308.0 L30.8,308.4 L31.4,308.4 L32.0,308.1 L32.6,308.4 L33.2,308.4 L33.8,308.4 L34.4,307.7 L35.0,308.0 L35.6,308.1 L36.2,308.7 L36.8,308.1 L37.4,308.7 L38.0,308.1 L38.6,308.7 L39.2,307.6 L39.8,308.9 L40.4,307.8 L41.0,308.0 L41.6,308.9 L42.2,308.4 L42.8,307.8 L43.4,307.9 L44.0,308.9 L44.6,308.5 L45.2,308.7 L45.8,308.6 L46.4,308.5 L47.0,307.6 L47.6,308.2 L48.2,308.4 L48.8,308.4 L49.4,308.0 L50.0,308.0 L50.6,308.6 L51.2,307.8 L51.8,308.7 L52.4,308.4 L53.0,308.1 L53.6,307.7 L54.2,308.4 L54.8,308.2 L55.4,307.8 L56.0,308.1 L56.6,307.9 L57.2,307.9 L57.8,308.2 L58.4,308.1 L59.0,308.0 L59.6,308.3 L60.2,307.7 L60.8,309.0 L61.4,308.6 L62.0,307.8 L62.6,308.1 L63.2,308.5 L63.8,308.1 L64.4,307.9 L65.0,308.5 L65.6,308.0 L66.2,308.3 L66.8,308.3 L67.4,308.3 L68.0,307.9 L68.6,308.7 L69.2,308.4 L69.8,308.0 L70.4,308.7 L71.0,308.8 L71.6,308.1 L72.2,308.3 L72.8,308.3 L73.4,308.2 L74.0,308.6 L74.6,307.3 L75.2,308.6 L75.8,308.4 L76.4,308.8 L77.0,308.4 L77.6,307.7 L78.2,308.3 L78.8,308.1 L79.4,308.4 L80.0,307.6 L80.6,308.2 L81.2,308.7 L81.8,308.0 L82.4,308.4 L83.0,308.1 L83.6,308.2 L84.2,308.2 L84.8,308.2 L85.4,308.6 L86.0,308.8 L86.6,307.9 L87.2,308.3 L87.8,308.2 L88.4,308.4 L89.0,309.0 L89.6,308.7 L90.2,307.8 L90.8,308.5 L91.4,308.4 L92.0,308.8 L92.6,308.5 L93.2,308.4 L93.8,308.4 L94.4,308.3 L95.0,308.5 L95.6,308.5 L96.2,308.3 L96.8,308.2 L97.4,308.3 L98.0,307.7 L98.6,308.2 L99.2,308.2 L99.8,308.5 L100.4,307.9 L101.0,308.6 L101.6,308.8 L102.2,308.6 L102.8,308.1 L103.4,308.7 L104.0,307.8 L104.6,308.3 L105.2,308.8 L105.8,308.4 L106.4,307.7 L107.0,308.6 L107.6,308.7 L108.2,308.1 L108.8,307.8 L109.4,307.9 L110.0,308.4 L110.6,308.2 L111.2,308.2 L111.8,307.9 L112.4,307.5 L113.0,308.3 L113.6,307.8 L114.2,308.4 L114.8,308.1 L115.4,308.6 L116.0,308.5 L116.6,308.1 L117.2,308.6 L117.8,308.0 L118.4,308.5 L119.0,308.2 L119.6,308.3 L120.2,308.4 L120.8,308.2 L121.4,307.9 L122.0,307.2 L122.6,308.7 L123.2,308.2 L123.8,308.3 L124.4,308.6 L125.0,308.2 L125.6,308.6 L126.2,308.3 L126.8,307.8 L127.4,309.0 L128.0,308.2 L128.6,308.1 L129.2,308.6 L129.8,308.1 L130.4,308.2 L131.0,308.4 L131.6,307.9 L132.2,308.7 L132.8,308.1 L133.4,308.4 L134.0,308.6 L134.6,308.3 L135.2,308.4 L135.8,308.0 L136.4,308.8 L137.0,308.3 L137.6,308.4 L138.2,307.7 L138.8,308.7 L139.4,307.9 L140.0,308.9 L140.6,308.2 L141.2,308.3 L141.8,308.1 L142.4,308.5 L143.0,309.0 L143.6,308.8 L144.2,307.8 L144.8,308.2 L145.4,308.6 L146.0,308.0 L146.6,308.5 L147.2,308.5 L147.8,308.7 L148.4,307.9 L149.0,307.6 L149.6,308.6 L150.2,308.2 L150.8,307.9 L151.4,307.5 L152.0,309.1 L152.6,308.2 L153.2,308.1 L153.8,308.8 L154.4,308.1 L155.0,308.2 L155.6,308.0 L156.2,308.5 L156.8,308.1 L157.4,308.5 L158.0,308.1 L158.6,308.2 L159.2,308.4 L159.8,308.8 L160.4,307.7 L161.0,307.9 L161.6,308.0 L162.2,308.5 L162.8,308.4 L163.4,307.7 L164.0,308.0 L164.6,308.6 L165.2,308.3 L165.8,308.2 L166.4,308.4 L167.0,308.6 L167.6,307.8 L168.2,308.1 L168.8,308.4 L169.4,308.8 L170.0,308.5 L170.6,308.3 L171.2,308.0 L171.8,308.4 L172.4,307.9 L173.0,308.2 L173.6,308.5 L174.2,309.3 L174.8,308.7 L175.4,308.8 L176.0,308.3 L176.6,308.2 L177.2,307.8 L177.8,308.3 L178.4,308.7 L179.0,307.5 L179.6,308.2 L180.2,308.4 L180.8,308.4 L181.4,308.7 L182.0,308.1 L182.6,308.1 L183.2,307.7 L183.8,307.9 L184.4,308.0 L185.0,307.8 L185.6,308.4 L186.2,308.4 L186.8,308.3 L187.4,308.7 L188.0,308.3 L188.6,308.4 L189.2,308.0 L189.8,308.3 L190.4,308.9 L191.0,308.3 L191.6,307.8 L192.2,308.9 L192.8,308.5 L193.4,308.3 L194.0,308.7 L194.6,308.5 L195.2,308.2 L195.8,308.7 L196.4,308.2 L197.0,308.1 L197.6,308.7 L198.2,308.3 L198.8,307.9 L199.4,308.3 L200.0,308.1 L200.6,308.0 L201.2,308.3 L201.8,307.9 L202.4,308.1 L203.0,308.6 L203.6,308.1 L204.2,308.0 L204.8,308.0 L205.4,308.5 L206.0,308.1 L206.6,307.8 L207.2,308.2 L207.8,307.8 L208.4,307.8 L209.0,308.3 L209.6,308.0 L210.2,308.4 L210.8,307.9 L211.4,308.3 L212.0,308.5 L212.6,308.3 L213.2,308.3 L213.8,308.1 L214.4,308.1 L215.0,308.7 L215.6,308.5 L216.2,308.1 L216.8,308.1 L217.4,308.2 L218.0,307.3 L218.6,307.9 L219.2,308.3 L219.8,308.0 L220.4,307.8 L221.0,308.1 L221.6,308.9 L222.2,308.2 L222.8,308.2 L223.4,307.5 L224.0,308.9 L224.6,307.7 L225.2,308.3 L225.8,307.9 L226.4,308.4 L227.0,308.2 L227.6,307.9 L228.2,308.2 L228.8,307.9 L229.1,308.1 L229.3,308.2 L229.4,308.3 L229.5,308.3 L229.7,308.3 L229.9,308.4 L230.0,308.4 L230.1,308.4 L230.3,308.3 L230.5,308.3 L230.6,308.3 L230.7,308.3 L230.9,308.3 L231.1,308.3 L231.2,308.3 L231.3,308.3 L231.5,308.2 L231.7,308.1 L231.8,308.0 L231.9,307.8 L232.1,307.5 L232.3,307.1 L232.4,306.9 L232.5,306.9 L232.7,306.8 L232.9,306.6 L233.0,306.5 L233.1,306.2 L233.3,305.5 L233.5,304.7 L233.6,304.4 L233.7,303.6 L233.9,302.3 L234.1,300.9 L234.2,300.4 L234.3,299.5 L234.5,298.1 L234.7,296.7 L234.8,296.3 L234.9,295.6 L235.1,294.8 L235.3,294.2 L235.4,294.1 L235.5,293.8 L235.7,293.6 L235.9,294.0 L236.0,294.1 L236.1,294.4 L236.3,294.9 L236.5,295.4 L236.6,295.6 L236.7,296.1 L236.9,296.9 L237.1,297.8 L237.2,298.1 L237.3,298.5 L237.5,299.0 L237.7,299.6 L237.8,299.8 L237.9,300.4 L238.1,301.4 L238.3,302.3 L238.4,302.6 L238.5,302.9 L238.7,303.2 L238.9,303.5 L239.0,303.6 L239.1,303.8 L239.3,304.1 L239.5,304.4 L239.6,304.5 L239.7,304.9 L239.9,305.5 L240.1,306.1 L240.2,306.3 L240.3,306.5 L240.5,306.8 L240.7,307.1 L240.8,307.2 L240.9,307.3 L241.1,307.3 L241.3,307.4 L241.4,307.4 L241.5,307.4 L241.7,307.3 L241.9,307.2 L242.0,307.2 L242.1,307.2 L242.3,307.2 L242.5,307.1 L242.6,307.1 L242.7,307.0 L242.9,306.9 L243.1,306.8 L243.2,306.8 L243.3,306.9 L243.5,307.0 L243.7,307.2 L243.8,307.3 L243.9,307.5 L244.1,307.9 L244.3,308.3 L244.4,308.4 L244.5,308.5 L244.7,308.6 L244.9,308.7 L245.0,308.7 L245.1,308.6 L245.3,308.3 L245.5,308.0 L245.6,307.9 L245.7,307.9 L245.9,307.8 L246.1,307.7 L246.2,307.7 L246.3,307.9 L246.5,308.2 L246.7,308.5 L246.8,308.6 L246.9,308.5 L247.1,308.4 L247.3,308.3 L247.4,308.3 L247.5,308.3 L247.7,308.3 L247.9,308.3 L248.0,308.3 L248.1,308.2 L248.3,308.2 L248.5,308.1 L248.6,308.1 L248.7,308.1 L248.9,308.2 L249.1,308.2 L249.2,308.2 L249.3,308.2 L249.5,308.1 L249.7,308.0 L249.8,308.0 L249.9,307.9 L250.1,307.9 L250.3,307.8 L250.4,307.8 L250.5,307.9 L250.7,308.0 L250.9,308.1 L251.0,308.2 L251.1,308.1 L251.3,308.0 L251.5,308.0 L251.6,307.9 L251.7,307.8 L251.9,307.7 L252.1,307.6 L252.2,307.5 L252.3,307.7 L252.5,308.1 L252.7,308.4 L252.8,308.6 L252.9,308.6 L253.1,308.6 L253.3,308.6 L253.4,308.6 L253.5,308.5 L253.7,308.3 L253.9,308.1 L254.0,308.0 L254.1,307.9 L254.3,307.8 L254.5,307.6 L254.6,307.6 L254.7,307.7 L254.9,307.9 L255.1,308.1 L255.2,308.2 L255.3,308.1 L255.5,308.0 L255.7,307.9 L255.8,307.8 L255.9,307.9 L256.1,308.1 L256.3,308.3 L256.4,308.3 L256.5,308.2 L256.7,308.1 L257.0,307.9 L257.6,308.4 L258.2,308.0 L258.8,308.1 L259.4,308.1 L260.0,307.7 L260.6,307.8 L261.2,308.4 L261.8,307.9 L262.4,308.8 L263.0,307.9 L263.6,307.3 L264.2,308.0 L264.8,308.0 L265.4,308.2 L266.0,307.9 L266.6,308.4 L267.2,308.0 L267.8,308.3 L268.4,308.4 L269.0,308.2 L269.6,308.2 L270.2,308.8 L270.8,307.5 L271.4,308.2 L272.0,308.8 L272.6,307.8 L273.2,308.2 L273.8,308.1 L274.4,308.0 L275.0,308.5 L275.6,309.2 L276.2,308.2 L276.8,308.1 L277.4,307.9 L278.0,308.5 L278.6,308.3 L279.2,308.1 L279.8,308.3 L280.4,308.3 L281.0,308.1 L281.6,308.6 L282.2,307.7 L282.8,308.5 L283.4,308.2 L284.0,308.3 L284.6,308.5 L285.2,308.0 L285.8,307.9 L286.4,307.7 L287.0,308.0 L287.6,308.4 L288.2,307.9 L288.8,308.7 L289.4,308.2 L290.0,308.0 L290.6,308.0 L291.2,308.6 L291.8,308.7 L292.4,307.6 L293.0,308.4 L293.6,308.8 L294.2,308.6 L294.8,308.2 L295.4,307.8 L296.0,308.2 L296.6,307.8 L297.2,308.1 L297.8,308.1 L298.4,307.9 L299.0,308.3 L299.6,308.1 L300.2,308.4 L300.8,308.4 L301.4,308.0 L302.0,308.5 L302.6,308.2 L303.2,308.5 L303.8,308.3 L304.4,308.4 L305.0,307.8 L305.6,308.2 L306.2,308.2 L306.8,307.6 L307.4,309.2 L308.0,308.6 L308.6,309.2 L309.2,308.2 L309.8,308.1 L310.4,308.0 L311.0,308.1 L311.6,308.5 L312.2,307.6 L312.8,308.1 L313.4,308.3 L314.0,308.6 L314.6,308.1 L315.2,308.4 L315.8,308.4 L316.4,308.2 L317.0,308.2 L317.6,308.5 L318.2,307.8 L318.8,308.6 L319.4,308.6 L320.0,308.1 L320.6,308.2 L321.2,308.2 L321.8,308.4 L322.4,308.2 L323.0,308.4 L323.6,308.8 L324.2,308.0 L324.8,308.6 L325.4,308.3 L326.0,308.0 L326.6,308.2 L327.2,307.3 L327.8,308.7 L328.4,308.5 L329.0,308.2 L329.6,307.8 L330.2,308.3 L330.8,308.7 L331.4,307.8 L332.0,308.6 L332.6,308.3 L333.2,307.9 L333.8,308.5 L334.4,308.4 L335.0,308.1 L335.6,308.3 L336.2,308.1 L336.8,308.6 L337.4,308.3 L338.0,308.6 L338.6,308.8 L339.2,307.6 L339.8,308.1 L340.4,307.9 L341.0,308.6 L341.6,308.3 L342.2,308.3 L342.8,308.7 L343.4,308.1 L344.0,308.5 L344.6,308.3 L345.2,308.8 L345.8,307.9 L346.4,308.0 L347.0,308.1 L347.6,308.6 L348.2,308.4 L348.8,307.8 L349.4,308.3 L350.0,308.2 L350.6,308.2 L351.2,308.6 L351.8,307.7 L352.4,308.9 L353.0,308.2 L353.6,308.3 L354.2,308.8 L354.8,308.1 L355.4,308.1 L356.0,308.2 L356.6,308.5 L357.2,308.1 L357.8,307.9 L358.4,308.2 L359.0,307.6 L359.6,307.9 L360.2,308.0 L360.8,307.8 L361.4,308.5 L362.0,308.4 L362.6,308.1 L363.2,308.1 L363.8,307.7 L364.4,307.8 L365.0,308.2 L365.6,308.2 L366.2,308.3 L366.8,308.4 L367.4,308.4 L368.0,307.9 L368.6,308.4 L369.2,308.4 L369.8,308.2 L370.4,308.4 L371.0,308.3 L371.6,309.0 L372.2,308.1 L372.8,308.3 L373.4,308.2 L374.0,308.1 L374.6,308.9 L375.2,307.4 L375.8,308.2 L376.4,308.2 L377.0,308.9 L377.6,308.0 L378.2,308.1 L378.8,308.3 L379.4,308.1 L380.0,307.8 L380.6,308.3 L381.2,308.5 L381.8,307.7 L382.4,308.1 L383.0,308.3 L383.6,307.4 L384.2,308.1 L384.8,308.3 L385.4,308.1 L386.0,308.3 L386.6,308.1 L387.2,308.1 L387.8,308.4 L388.4,308.3 L389.0,308.1 L389.6,308.1 L390.2,308.0 L390.8,307.9 L391.4,308.1 L392.0,308.0 L392.6,308.3 L393.2,308.3 L393.8,307.8 L394.4,308.9 L395.0,308.1 L395.6,307.1 L396.2,308.9 L396.8,307.7 L397.4,308.8 L398.0,308.1 L398.6,307.6 L399.2,307.7 L399.8,308.5 L400.4,308.7 L401.0,308.7 L401.6,308.0 L402.2,308.4 L402.8,308.2 L403.4,308.1 L404.0,308.1 L404.6,308.0 L405.2,308.2 L405.8,308.8 L406.4,307.7 L407.0,309.2 L407.6,307.8 L408.2,308.4 L408.8,308.3 L409.4,308.4 L410.0,308.4 L410.6,308.2 L411.2,308.3 L411.8,308.6 L412.4,307.9 L413.0,308.4 L413.6,307.8 L414.2,308.3 L414.8,308.5 L415.4,308.1 L416.0,307.9 L416.6,308.6 L417.2,308.3 L417.8,307.7 L418.4,308.6 L419.0,308.5 L419.6,308.2 L420.2,308.7 L420.8,309.1 L421.4,308.8 L422.0,308.1 L422.6,308.0 L423.2,308.0 L423.8,308.1 L424.4,308.7 L425.0,308.0 L425.6,307.8 L426.2,308.5 L426.8,307.9 L427.4,308.4 L428.0,308.2 L428.6,308.1 L429.2,308.8 L429.8,307.7 L430.4,308.5 L431.0,308.3 L431.6,308.4 L432.2,308.1 L432.8,308.1 L433.4,308.2 L434.0,307.7 L434.6,308.1 L435.2,308.4 L435.8,309.2 L436.4,308.3 L437.0,308.3 L437.6,308.5 L438.2,308.5 L438.8,308.0 L439.4,307.9 L440.0,307.6 L440.6,307.8 L441.2,308.5 L441.8,308.1 L442.4,308.7 L443.0,308.0 L443.6,308.1 L444.2,308.4 L444.8,308.3 L445.4,308.3 L446.0,308.5 L446.6,307.8 L447.2,307.1 L447.8,307.9 L448.4,307.9 L449.0,308.2 L449.6,308.4 L450.2,307.5 L450.8,308.4 L451.4,308.1 L452.0,308.3 L452.6,308.0 L453.2,308.3 L453.8,308.0 L454.4,308.7 L455.0,308.3 L455.6,307.8 L456.2,308.6 L456.8,308.5 L457.4,307.8 L458.0,308.1 L458.6,307.9" fill="none" stroke="#8a3034" stroke-width="1.0" stroke-linejoin="round" stroke-linecap="butt"/>
<path d="M3.2,309.2 L3.8,308.2 L4.4,307.7 L5.0,309.3 L5.6,309.1 L6.2,308.8 L6.8,308.5 L7.4,309.2 L8.0,307.1 L8.6,308.1 L9.2,308.6 L9.8,308.7 L10.4,307.1 L11.0,307.1 L11.6,308.7 L12.2,308.2 L12.8,307.7 L13.4,309.1 L14.0,308.8 L14.6,307.6 L15.2,308.8 L15.8,308.7 L16.4,309.2 L17.0,308.9 L17.6,308.0 L18.2,308.9 L18.8,309.2 L19.4,308.8 L20.0,307.4 L20.6,308.3 L21.2,308.8 L21.8,308.3 L22.4,308.2 L23.0,308.4 L23.6,309.5 L24.2,308.3 L24.8,308.6 L25.4,307.9 L26.0,309.2 L26.6,307.8 L27.2,308.7 L27.8,309.4 L28.4,307.7 L29.0,308.7 L29.6,308.2 L30.2,308.5 L30.8,307.8 L31.4,307.8 L32.0,307.8 L32.6,308.0 L33.2,309.4 L33.8,309.4 L34.4,308.3 L35.0,309.0 L35.6,308.2 L36.2,308.4 L36.8,309.3 L37.4,309.1 L38.0,309.1 L38.6,309.0 L39.2,308.6 L39.8,308.1 L40.4,307.7 L41.0,309.0 L41.6,308.8 L42.2,307.5 L42.8,307.9 L43.1,308.2 L43.4,308.3 L43.5,308.8 L43.8,309.3 L44.0,309.8 L44.1,309.6 L44.4,309.2 L44.5,308.7 L44.6,308.6 L44.8,307.8 L45.0,306.0 L45.1,302.6 L45.2,302.1 L45.4,296.7 L45.5,286.7 L45.8,271.9 L45.8,270.2 L46.0,251.9 L46.1,229.2 L46.4,207.7 L46.4,205.8 L46.5,192.8 L46.8,187.6 L47.0,198.3 L47.0,199.3 L47.1,208.3 L47.4,218.0 L47.5,227.3 L47.6,228.2 L47.8,236.3 L48.0,244.7 L48.1,252.4 L48.2,253.1 L48.4,259.0 L48.5,264.8 L48.8,269.9 L48.8,270.4 L49.0,274.3 L49.1,278.0 L49.4,281.3 L49.4,281.6 L49.5,284.1 L49.8,286.7 L50.0,288.9 L50.0,289.1 L50.1,290.8 L50.4,292.5 L50.5,294.0 L50.6,294.1 L50.8,295.3 L51.0,296.5 L51.1,297.5 L51.2,297.6 L51.4,298.6 L51.5,299.6 L51.8,300.4 L51.8,300.5 L52.0,301.1 L52.1,301.6 L52.4,302.1 L52.5,303.1 L52.8,304.0 L53.0,304.9 L53.0,305.0 L53.1,305.1 L53.4,305.2 L53.5,305.2 L53.6,305.2 L53.8,305.5 L54.0,305.8 L54.1,306.0 L54.2,306.0 L54.4,306.0 L54.5,305.9 L54.8,305.9 L54.8,305.8 L55.0,306.3 L55.1,306.8 L55.4,307.3 L55.5,307.4 L55.8,307.4 L56.0,307.4 L56.1,307.6 L56.4,307.9 L56.5,308.2 L56.6,308.3 L56.8,308.1 L57.0,307.9 L57.1,307.7 L57.2,307.7 L57.4,307.8 L57.5,307.8 L57.8,307.9 L58.0,308.1 L58.1,308.3 L58.4,308.5 L58.4,308.6 L58.5,308.5 L58.8,308.5 L59.0,308.5 L59.1,308.5 L59.4,308.4 L59.5,308.3 L59.6,308.3 L59.8,308.2 L60.0,308.1 L60.1,308.0 L60.2,308.0 L60.4,308.3 L60.8,309.0 L61.4,307.9 L62.0,308.6 L62.6,307.3 L63.2,307.6 L63.8,308.7 L64.4,308.8 L65.0,307.0 L65.6,308.1 L66.2,308.1 L66.8,308.7 L67.4,308.5 L68.0,308.0 L68.6,308.1 L69.2,308.9 L69.8,307.7 L70.4,308.3 L71.0,309.0 L71.6,307.9 L72.2,308.6 L72.8,308.0 L73.4,308.8 L74.0,308.2 L74.6,309.4 L75.2,308.2 L75.8,309.3 L76.4,308.4 L77.0,309.9 L77.6,308.5 L78.2,308.0 L78.8,308.2 L79.4,307.7 L80.0,309.1 L80.6,307.5 L81.2,307.5 L81.8,309.2 L82.4,308.9 L83.0,308.8 L83.6,308.5 L84.2,308.3 L84.8,309.9 L85.4,308.1 L86.0,308.6 L86.6,309.0 L87.2,307.9 L87.8,308.7 L88.4,307.8 L89.0,308.1 L89.6,308.6 L90.2,307.8 L90.8,308.0 L91.4,308.7 L92.0,309.4 L92.6,308.8 L93.2,308.1 L93.8,308.6 L94.4,307.4 L95.0,308.3 L95.6,308.3 L96.2,308.2 L96.8,309.0 L97.4,308.5 L98.0,308.8 L98.6,309.8 L99.2,309.5 L99.8,308.0 L100.4,308.7 L101.0,308.5 L101.6,309.3 L102.2,308.8 L102.8,308.0 L103.4,308.4 L104.0,308.8 L104.6,307.6 L105.2,308.5 L105.8,308.7 L106.4,307.8 L107.0,309.5 L107.6,308.1 L108.2,309.1 L108.8,308.9 L109.4,308.9 L110.0,308.4 L110.6,308.4 L111.2,308.3 L111.8,308.3 L112.4,307.6 L113.0,307.5 L113.6,308.0 L114.2,308.0 L114.8,308.7 L115.4,309.1 L116.0,308.1 L116.6,308.4 L117.2,308.0 L117.8,309.5 L118.4,306.9 L119.0,309.2 L119.6,308.4 L120.2,307.9 L120.8,309.3 L121.4,308.8 L122.0,309.6 L122.6,309.3 L123.2,309.6 L123.8,308.4 L124.4,308.3 L125.0,308.6 L125.6,307.7 L126.2,307.6 L126.8,308.5 L127.4,308.6 L128.0,308.6 L128.6,308.7 L129.2,307.7 L129.8,308.3 L130.4,308.6 L131.0,308.6 L131.6,308.1 L132.2,308.7 L132.8,308.3 L133.4,308.5 L134.0,307.7 L134.6,307.8 L135.2,309.3 L135.8,308.5 L136.4,308.0 L137.0,308.7 L137.6,308.0 L138.2,308.3 L138.8,308.1 L139.4,308.5 L140.0,308.3 L140.6,308.1 L141.2,309.3 L141.8,309.0 L142.4,309.0 L143.0,307.5 L143.6,308.3 L144.2,308.2 L144.8,308.3 L145.4,308.8 L146.0,308.9 L146.6,308.0 L147.2,308.7 L147.8,307.5 L148.4,308.3 L149.0,308.4 L149.6,308.6 L150.2,308.5 L150.8,308.4 L151.4,307.6 L152.0,307.1 L152.6,309.1 L153.2,308.3 L153.8,308.0 L154.4,309.0 L155.0,308.8 L155.6,308.7 L156.2,309.9 L156.8,308.1 L157.4,308.5 L158.0,308.5 L158.6,308.4 L159.2,308.3 L159.8,307.1 L160.4,308.3 L161.0,308.0 L161.6,308.7 L162.2,308.2 L162.8,308.6 L163.4,308.5 L164.0,309.0 L164.6,308.9 L165.2,308.2 L165.8,308.0 L166.4,308.2 L167.0,308.8 L167.6,308.3 L168.2,309.9 L168.8,307.9 L169.4,308.5 L170.0,308.3 L170.6,307.8 L171.2,308.7 L171.8,307.9 L172.4,308.7 L173.0,308.1 L173.6,308.7 L174.2,308.3 L174.8,307.6 L175.4,308.8 L176.0,308.8 L176.6,308.6 L177.2,308.3 L177.8,306.8 L178.4,308.8 L179.0,309.6 L179.6,308.8 L180.2,309.4 L180.8,308.8 L181.4,308.4 L182.0,309.0 L182.6,308.8 L183.2,309.5 L183.8,308.3 L184.4,308.9 L185.0,307.8 L185.6,307.8 L186.2,308.9 L186.8,308.6 L187.4,308.4 L188.0,308.0 L188.6,309.4 L189.2,308.5 L189.8,307.3 L190.4,308.5 L191.0,308.3 L191.6,308.4 L192.2,309.1 L192.8,307.9 L193.4,308.3 L194.0,308.3 L194.6,308.0 L195.2,308.0 L195.8,309.5 L196.4,308.1 L197.0,308.8 L197.6,308.3 L198.2,308.8 L198.8,308.9 L199.4,307.9 L200.0,308.4 L200.6,308.6 L201.2,308.6 L201.8,308.4 L202.4,308.4 L203.0,309.8 L203.6,308.9 L204.2,308.6 L204.8,308.0 L205.4,307.6 L206.0,309.0 L206.6,307.3 L207.2,308.4 L207.8,308.1 L208.4,308.7 L209.0,308.8 L209.6,307.6 L210.2,308.5 L210.8,308.5 L211.4,307.7 L212.0,307.4 L212.6,309.3 L213.2,308.5 L213.8,308.4 L214.4,307.3 L215.0,307.0 L215.6,308.4 L216.2,308.2 L216.8,307.9 L217.4,307.7 L218.0,308.6 L218.6,307.9 L219.2,308.8 L219.8,310.0 L220.4,309.2 L221.0,308.3 L221.6,307.9 L222.2,309.7 L222.8,309.4 L223.4,308.4 L224.0,310.4 L224.6,308.1 L225.2,307.8 L225.8,310.1 L226.4,307.9 L227.0,308.5 L227.6,307.6 L228.2,308.2 L228.8,308.5 L229.4,308.3 L230.0,307.8 L230.6,308.3 L231.2,308.4 L231.8,309.2 L232.4,308.1 L233.0,308.4 L233.6,307.3 L234.2,308.4 L234.8,308.4 L235.4,308.7 L236.0,307.9 L236.6,308.5 L237.2,308.8 L237.8,307.4 L238.4,307.3 L239.0,308.6 L239.6,309.0 L240.2,307.7 L240.8,308.9 L241.4,306.7 L242.0,308.4 L242.6,307.8 L243.2,309.1 L243.8,308.4 L244.4,307.7 L245.0,308.1 L245.6,308.7 L246.2,306.9 L246.8,307.9 L247.4,308.5 L248.0,308.7 L248.6,308.5 L249.2,307.6 L249.8,308.8 L250.4,308.3 L251.0,308.8 L251.6,307.6 L252.2,308.5 L252.8,307.9 L253.4,308.0 L254.0,308.7 L254.6,308.0 L255.2,307.8 L255.8,309.0 L256.4,307.9 L257.0,306.3 L257.6,308.5 L258.2,308.0 L258.8,309.1 L259.4,308.1 L260.0,308.7 L260.6,307.9 L261.2,308.4 L261.8,309.0 L262.4,307.7 L263.0,308.5 L263.6,309.0 L264.2,308.3 L264.8,308.9 L265.4,308.1 L266.0,308.4 L266.6,308.6 L267.2,308.0 L267.8,309.1 L268.4,307.8 L269.0,309.5 L269.6,307.4 L270.2,308.3 L270.8,308.5 L271.4,308.8 L272.0,308.0 L272.6,308.5 L273.2,308.5 L273.8,307.8 L274.4,308.6 L275.0,308.5 L275.6,308.1 L276.2,307.7 L276.8,308.4 L277.4,308.3 L278.0,308.3 L278.6,307.9 L279.2,307.5 L279.8,308.9 L280.4,308.4 L281.0,308.4 L281.6,308.0 L282.2,307.5 L282.8,308.4 L283.4,308.2 L284.0,307.7 L284.6,309.1 L285.2,308.8 L285.8,308.6 L286.4,308.4 L287.0,308.2 L287.6,308.7 L288.2,307.3 L288.8,308.8 L289.4,308.5 L290.0,307.7 L290.6,307.9 L291.2,308.4 L291.8,308.1 L292.4,307.9 L293.0,308.4 L293.6,308.0 L294.2,308.9 L294.8,308.3 L295.4,309.3 L296.0,308.9 L296.6,309.0 L297.2,307.6 L297.8,308.6 L298.4,308.2 L299.0,308.9 L299.6,308.5 L300.2,308.5 L300.8,308.9 L301.4,307.9 L302.0,309.4 L302.6,308.0 L303.2,306.8 L303.8,308.9 L304.4,308.4 L305.0,309.3 L305.6,308.4 L306.2,309.4 L306.8,308.0 L307.4,308.7 L308.0,309.5 L308.6,309.2 L309.2,309.3 L309.8,308.6 L310.4,307.9 L311.0,308.6 L311.6,309.1 L312.2,308.9 L312.8,308.3 L313.4,309.8 L314.0,308.1 L314.6,308.2 L315.2,309.9 L315.8,307.7 L316.4,309.4 L317.0,308.5 L317.6,307.7 L318.2,309.4 L318.8,309.5 L319.4,309.1 L320.0,309.1 L320.6,308.5 L321.2,308.7 L321.8,308.7 L322.4,308.7 L323.0,308.5 L323.6,308.9 L324.2,308.2 L324.8,308.4 L325.4,309.0 L326.0,307.3 L326.6,309.2 L327.2,308.0 L327.8,308.9 L328.4,308.2 L329.0,308.1 L329.6,307.9 L330.2,307.6 L330.8,308.9 L331.4,306.7 L332.0,308.2 L332.6,308.9 L333.2,309.2 L333.8,307.0 L334.4,307.4 L335.0,308.4 L335.6,308.0 L336.2,307.6 L336.8,308.4 L337.4,308.7 L338.0,308.4 L338.6,307.9 L339.2,308.4 L339.8,309.1 L340.4,308.0 L341.0,309.4 L341.6,308.9 L342.2,307.7 L342.8,308.3 L343.4,308.3 L344.0,308.3 L344.6,307.8 L345.2,308.4 L345.8,309.6 L346.4,308.3 L347.0,310.2 L347.6,309.6 L348.2,307.5 L348.8,307.8 L349.4,308.7 L350.0,308.5 L350.6,308.4 L351.2,307.8 L351.8,308.9 L352.4,308.9 L353.0,308.8 L353.6,308.3 L354.2,308.3 L354.8,308.6 L355.4,308.0 L356.0,309.0 L356.6,308.5 L357.2,308.8 L357.8,309.0 L358.4,307.7 L359.0,308.6 L359.6,309.0 L360.2,308.4 L360.8,309.0 L361.4,308.1 L362.0,307.9 L362.6,307.8 L363.2,309.0 L363.8,308.5 L364.4,307.3 L365.0,308.5 L365.6,307.7 L366.2,307.5 L366.8,309.2 L367.4,307.7 L368.0,308.0 L368.6,307.9 L369.2,307.4 L369.8,308.1 L370.4,308.4 L371.0,308.0 L371.6,308.6 L372.2,308.1 L372.8,309.6 L373.4,307.4 L374.0,308.7 L374.6,308.1 L375.2,308.2 L375.8,308.3 L376.4,308.3 L377.0,308.4 L377.6,309.4 L378.2,308.7 L378.8,307.7 L379.4,309.0 L380.0,309.0 L380.6,307.2 L381.2,307.7 L381.8,307.5 L382.4,308.4 L383.0,308.2 L383.6,308.0 L384.2,308.1 L384.8,308.5 L385.4,309.3 L386.0,308.8 L386.6,309.3 L387.2,307.5 L387.8,308.7 L388.4,308.5 L389.0,308.2 L389.6,308.4 L390.2,308.1 L390.8,308.8 L391.4,309.3 L392.0,307.4 L392.6,308.8 L393.2,308.7 L393.8,308.9 L394.4,308.7 L395.0,308.4 L395.6,308.0 L396.2,309.0 L396.8,308.3 L397.4,308.8 L398.0,307.7 L398.6,309.2 L399.2,308.4 L399.8,308.0 L400.4,309.2 L401.0,308.4 L401.6,308.3 L402.2,308.9 L402.8,308.6 L403.4,307.8 L404.0,308.3 L404.6,308.7 L405.2,308.6 L405.8,308.2 L406.4,307.7 L407.0,308.0 L407.6,308.0 L408.2,307.5 L408.8,309.3 L409.4,309.3 L410.0,309.8 L410.6,307.9 L411.2,309.8 L411.8,308.5 L412.4,308.0 L413.0,309.3 L413.6,308.8 L414.2,308.6 L414.8,308.0 L415.4,309.3 L416.0,308.3 L416.6,308.0 L417.2,308.4 L417.8,308.4 L418.4,307.7 L419.0,308.3 L419.6,308.5 L420.2,308.6 L420.8,308.1 L421.4,308.6 L422.0,308.1 L422.6,308.4 L423.2,307.8 L423.8,308.9 L424.4,308.4 L425.0,308.2 L425.6,308.2 L426.2,307.8 L426.8,308.2 L427.4,307.9 L428.0,307.3 L428.6,308.0 L429.2,309.1 L429.8,309.3 L430.4,308.1 L431.0,308.7 L431.6,308.3 L432.2,308.5 L432.8,307.7 L433.4,307.7 L434.0,309.1 L434.6,308.3 L435.2,308.6 L435.8,309.2 L436.4,308.1 L437.0,308.5 L437.6,308.2 L438.2,307.0 L438.8,307.7 L439.4,307.8 L440.0,308.7 L440.6,309.1 L441.2,307.7 L441.8,308.6 L442.4,308.4 L443.0,308.7 L443.6,308.4 L444.2,307.0 L444.8,308.6 L445.4,308.6 L446.0,308.3 L446.6,308.3 L447.2,309.1 L447.8,309.5 L448.4,308.8 L449.0,308.6 L449.6,308.9 L450.2,309.0 L450.8,309.0 L451.4,308.7 L452.0,308.5 L452.6,309.4 L453.2,308.8 L453.8,308.3 L454.4,308.5 L455.0,309.3 L455.6,308.7 L456.2,308.5 L456.8,308.0 L457.4,309.4 L458.0,308.1 L458.6,308.7" fill="none" stroke="#2f8f3e" stroke-width="0.9" stroke-linejoin="round" stroke-linecap="butt"/>
<path d="M3.2,308.7 L3.8,308.3 L4.4,307.9 L5.0,308.6 L5.6,309.1 L6.2,308.7 L6.8,308.1 L7.4,307.6 L8.0,308.6 L8.6,308.5 L9.2,308.4 L9.8,308.3 L10.4,308.8 L11.0,308.5 L11.6,308.2 L12.2,308.2 L12.8,308.3 L13.4,308.8 L14.0,308.6 L14.6,308.7 L15.2,307.7 L15.8,307.5 L16.4,308.1 L17.0,307.4 L17.6,308.4 L18.2,308.4 L18.8,309.0 L19.4,308.1 L20.0,308.5 L20.6,308.2 L21.2,308.0 L21.8,308.4 L22.4,308.9 L23.0,308.3 L23.6,308.3 L24.2,308.3 L24.8,307.9 L25.4,308.4 L26.0,308.4 L26.6,307.3 L27.2,307.7 L27.8,308.3 L28.4,308.8 L29.0,308.5 L29.6,308.1 L30.2,307.8 L30.4,307.4 L30.6,307.1 L30.8,306.9 L30.9,307.1 L31.1,307.6 L31.2,308.1 L31.4,308.4 L31.4,308.3 L31.6,307.7 L31.9,305.8 L32.0,302.8 L32.0,299.5 L32.2,282.4 L32.5,245.4 L32.6,210.8 L32.6,182.6 L32.9,102.2 L33.0,31.0 L33.2,7.0 L33.2,2.2 L33.5,15.8 L33.6,43.0 L33.8,64.2 L33.9,79.6 L34.0,120.1 L34.2,159.1 L34.4,180.2 L34.5,192.8 L34.6,219.1 L34.9,238.3 L35.0,246.9 L35.0,251.8 L35.2,261.1 L35.5,267.4 L35.6,270.2 L35.6,271.7 L35.9,274.7 L36.0,277.1 L36.2,278.3 L36.2,279.3 L36.5,281.6 L36.6,283.8 L36.8,285.0 L36.9,285.6 L37.0,287.1 L37.2,288.4 L37.4,289.1 L37.5,289.6 L37.6,290.8 L37.9,292.0 L38.0,292.6 L38.0,293.2 L38.2,294.7 L38.5,296.1 L38.6,296.9 L38.6,297.2 L38.9,298.0 L39.0,298.6 L39.2,299.0 L39.2,299.1 L39.5,299.4 L39.6,299.7 L39.8,299.8 L39.9,300.1 L40.0,300.7 L40.2,301.3 L40.4,301.7 L40.5,302.0 L40.6,302.8 L40.9,303.6 L41.0,304.0 L41.0,304.1 L41.2,304.2 L41.5,304.4 L41.6,304.4 L41.6,304.6 L41.9,304.9 L42.0,305.2 L42.2,305.4 L42.2,305.5 L42.5,305.6 L42.6,305.7 L42.8,305.8 L42.9,305.7 L43.0,305.5 L43.2,305.3 L43.4,305.2 L43.5,305.4 L43.6,305.9 L43.9,306.5 L44.0,306.8 L44.0,306.6 L44.2,306.3 L44.5,305.9 L44.6,305.7 L44.6,305.9 L44.9,306.4 L45.0,306.9 L45.2,307.2 L45.2,307.3 L45.5,307.5 L45.6,307.6 L45.8,307.7 L45.9,307.6 L46.0,307.2 L46.2,306.8 L46.4,306.6 L46.5,306.7 L46.6,306.8 L46.9,307.0 L47.0,307.1 L47.2,307.0 L47.5,307.0 L47.6,307.0 L47.6,306.9 L47.9,306.9 L48.0,306.8 L48.2,306.8 L48.5,307.0 L48.6,307.2 L48.8,307.3 L48.9,307.3 L49.0,307.3 L49.2,307.3 L49.4,307.3 L49.5,307.5 L49.6,308.1 L49.9,308.6 L50.0,309.0 L50.0,308.9 L50.2,308.8 L50.5,308.6 L50.6,308.5 L50.6,308.4 L50.9,308.2 L51.0,308.0 L51.2,307.9 L51.5,307.9 L51.6,308.0 L51.8,308.0 L51.9,308.0 L52.4,307.7 L53.0,308.4 L53.6,307.6 L54.2,307.1 L54.8,307.9 L55.4,307.7 L56.0,307.9 L56.6,307.7 L57.2,308.1 L57.8,308.5 L58.4,308.1 L59.0,308.2 L59.6,309.1 L60.2,308.1 L60.8,308.2 L61.4,308.1 L62.0,308.5 L62.6,308.0 L63.2,307.9 L63.8,308.6 L64.4,308.0 L65.0,307.8 L65.6,307.8 L66.2,308.7 L66.8,308.8 L67.4,308.2 L68.0,308.8 L68.6,306.8 L69.2,308.7 L69.8,308.7 L70.4,307.9 L71.0,308.5 L71.6,309.5 L72.2,308.3 L72.8,308.8 L73.4,308.5 L74.0,309.2 L74.6,308.8 L75.2,308.3 L75.8,308.3 L76.4,308.9 L77.0,308.7 L77.6,308.7 L78.2,308.2 L78.8,308.4 L79.4,309.0 L80.0,307.9 L80.6,308.7 L81.2,308.1 L81.8,308.8 L82.4,308.1 L83.0,308.3 L83.6,308.2 L84.2,308.0 L84.8,308.0 L85.4,308.2 L86.0,308.2 L86.6,309.0 L87.2,308.3 L87.8,309.5 L88.4,309.5 L89.0,308.5 L89.6,308.4 L90.2,307.5 L90.8,307.9 L91.4,307.7 L92.0,308.5 L92.6,308.0 L93.2,307.6 L93.8,308.0 L94.4,308.1 L95.0,308.2 L95.6,308.8 L96.2,308.8 L96.8,309.1 L97.4,308.0 L98.0,308.4 L98.6,308.6 L99.2,308.1 L99.8,308.6 L100.4,307.7 L101.0,307.2 L101.6,308.0 L102.2,308.6 L102.8,309.1 L103.4,307.1 L104.0,308.0 L104.6,308.9 L105.2,307.7 L105.8,309.2 L106.4,308.5 L107.0,308.4 L107.6,308.5 L108.2,308.9 L108.8,306.9 L109.4,308.5 L110.0,308.0 L110.6,308.2 L111.2,309.2 L111.8,308.6 L112.4,308.1 L113.0,307.7 L113.6,308.5 L114.2,308.1 L114.8,308.4 L115.4,307.9 L116.0,309.6 L116.6,307.9 L117.2,308.6 L117.8,308.6 L118.4,309.8 L119.0,308.9 L119.6,307.9 L120.2,307.0 L120.8,308.7 L121.4,308.6 L122.0,308.0 L122.6,308.1 L123.2,308.6 L123.8,308.4 L124.4,308.5 L125.0,307.9 L125.6,307.8 L126.2,307.3 L126.8,307.7 L127.4,307.9 L128.0,308.2 L128.6,307.7 L129.2,308.8 L129.8,307.0 L130.4,308.1 L131.0,307.5 L131.6,308.7 L132.2,307.7 L132.8,308.0 L133.4,308.4 L134.0,308.6 L134.6,308.7 L135.2,307.2 L135.8,307.6 L136.4,308.2 L137.0,308.1 L137.6,308.7 L138.2,309.3 L138.8,309.3 L139.4,308.6 L140.0,308.3 L140.6,308.9 L141.2,307.8 L141.8,308.0 L142.4,308.2 L143.0,309.2 L143.6,308.4 L144.2,308.3 L144.8,309.0 L145.4,309.5 L146.0,307.2 L146.6,307.9 L147.2,308.5 L147.8,307.4 L148.4,307.6 L149.0,308.0 L149.6,308.1 L150.2,307.8 L150.8,307.4 L151.4,308.2 L152.0,308.4 L152.6,307.9 L153.2,309.8 L153.8,308.2 L154.4,308.5 L155.0,308.3 L155.6,308.4 L156.2,308.1 L156.8,308.2 L157.4,308.2 L158.0,308.3 L158.6,308.0 L159.2,308.5 L159.8,307.7 L160.4,309.2 L161.0,308.1 L161.6,308.0 L162.2,309.0 L162.8,308.5 L163.4,307.5 L164.0,308.3 L164.6,308.7 L165.2,309.9 L165.8,308.1 L166.4,308.2 L167.0,307.9 L167.6,307.1 L168.2,308.3 L168.8,308.2 L169.4,308.6 L170.0,308.3 L170.6,308.3 L171.2,307.8 L171.8,307.9 L172.4,308.7 L173.0,308.5 L173.6,307.5 L174.2,308.8 L174.8,307.8 L175.4,307.3 L176.0,307.9 L176.6,308.1 L177.2,307.5 L177.8,308.1 L178.4,308.3 L179.0,308.4 L179.6,307.6 L180.2,307.9 L180.8,307.4 L181.4,308.4 L182.0,308.4 L182.6,308.5 L183.2,308.1 L183.8,308.6 L184.4,307.7 L185.0,308.1 L185.6,308.8 L186.2,309.9 L186.8,309.3 L187.4,307.4 L188.0,308.3 L188.6,308.2 L189.2,308.5 L189.8,308.0 L190.4,309.3 L191.0,309.4 L191.6,309.2 L192.2,308.2 L192.8,307.9 L193.4,308.0 L194.0,308.3 L194.6,309.0 L195.2,307.8 L195.8,308.4 L196.4,308.3 L197.0,308.3 L197.6,308.5 L198.2,308.7 L198.8,308.6 L199.4,309.0 L200.0,308.1 L200.6,308.4 L201.2,307.7 L201.8,309.3 L202.4,307.6 L203.0,308.3 L203.6,308.3 L204.2,308.7 L204.8,308.7 L205.4,309.1 L206.0,307.7 L206.6,308.4 L207.2,307.8 L207.8,307.8 L208.4,308.5 L209.0,308.4 L209.6,308.4 L210.2,307.7 L210.8,308.2 L211.4,308.2 L212.0,307.8 L212.6,308.3 L213.2,307.1 L213.8,308.8 L214.4,307.5 L215.0,307.5 L215.6,308.9 L216.2,307.8 L216.8,308.1 L217.4,307.8 L218.0,308.9 L218.6,308.1 L219.2,308.8 L219.8,308.4 L220.4,307.4 L221.0,308.3 L221.6,309.5 L222.2,309.0 L222.8,308.9 L223.4,307.7 L224.0,308.6 L224.6,309.1 L225.2,307.6 L225.8,308.1 L226.4,308.1 L227.0,308.7 L227.6,307.4 L228.2,308.3 L228.8,309.4 L229.4,308.9 L230.0,308.7 L230.6,308.3 L231.2,307.8 L231.8,308.7 L232.4,308.6 L233.0,307.0 L233.6,308.2 L234.2,308.5 L234.8,308.2 L235.4,309.0 L236.0,307.9 L236.6,307.7 L237.2,308.6 L237.8,307.7 L238.4,308.4 L239.0,308.1 L239.6,308.7 L240.2,308.7 L240.8,309.1 L241.4,308.1 L242.0,308.4 L242.6,308.4 L243.2,308.9 L243.8,308.9 L244.4,308.6 L245.0,308.0 L245.6,308.1 L246.2,308.6 L246.8,308.1 L247.4,307.3 L248.0,308.2 L248.6,307.1 L249.2,308.0 L249.8,307.5 L250.4,308.5 L251.0,307.6 L251.6,308.9 L252.2,308.1 L252.8,308.4 L253.4,309.4 L254.0,309.0 L254.6,307.6 L255.2,308.0 L255.8,307.5 L256.4,308.1 L257.0,309.9 L257.6,308.1 L258.2,308.6 L258.8,308.5 L259.4,308.5 L260.0,308.7 L260.6,308.8 L261.2,307.6 L261.8,308.0 L262.4,308.6 L263.0,308.5 L263.6,307.7 L264.2,308.0 L264.8,308.1 L265.4,308.9 L266.0,308.5 L266.6,308.9 L267.2,309.3 L267.8,307.7 L268.4,308.4 L269.0,308.5 L269.6,308.8 L270.2,307.8 L270.8,307.1 L271.4,307.9 L272.0,307.7 L272.6,309.0 L273.2,308.2 L273.8,308.1 L274.4,307.4 L275.0,308.2 L275.6,308.8 L276.2,308.3 L276.8,308.5 L277.4,307.4 L278.0,307.9 L278.6,308.1 L279.2,308.2 L279.8,307.8 L280.4,308.5 L281.0,308.8 L281.6,309.3 L282.2,307.6 L282.8,308.0 L283.4,307.9 L284.0,308.2 L284.6,307.3 L285.2,308.8 L285.8,307.6 L286.4,308.7 L287.0,308.5 L287.6,308.9 L288.2,308.2 L288.8,308.4 L289.4,308.0 L290.0,308.6 L290.6,309.0 L291.2,307.9 L291.8,307.5 L292.4,307.8 L293.0,308.3 L293.6,308.0 L294.2,309.2 L294.8,308.5 L295.4,307.6 L296.0,308.0 L296.6,308.7 L297.2,307.8 L297.8,308.3 L298.4,307.9 L299.0,309.1 L299.6,308.6 L300.2,308.1 L300.8,308.1 L301.4,308.0 L302.0,308.3 L302.6,308.4 L303.2,308.0 L303.8,307.8 L304.4,309.1 L305.0,308.4 L305.6,308.4 L306.2,308.2 L306.8,307.7 L307.4,309.0 L308.0,308.0 L308.6,309.2 L309.2,308.7 L309.8,308.6 L310.4,308.4 L311.0,308.6 L311.6,308.6 L312.2,308.5 L312.8,308.4 L313.4,309.3 L314.0,309.1 L314.6,308.5 L315.2,308.0 L315.8,307.7 L316.4,306.7 L317.0,308.2 L317.6,308.7 L318.2,308.2 L318.8,307.9 L319.4,308.2 L320.0,308.9 L320.6,308.3 L321.2,308.3 L321.8,309.1 L322.4,308.9 L323.0,307.6 L323.6,309.5 L324.2,308.2 L324.8,308.4 L325.4,307.5 L326.0,307.9 L326.6,308.7 L327.2,307.6 L327.8,308.6 L328.4,307.1 L329.0,307.3 L329.6,308.3 L330.2,307.8 L330.8,308.2 L331.4,308.8 L332.0,307.7 L332.6,308.0 L333.2,307.8 L333.8,307.7 L334.4,307.5 L335.0,307.7 L335.6,308.3 L336.2,308.2 L336.8,308.0 L337.4,308.3 L338.0,308.4 L338.6,307.2 L339.2,308.0 L339.8,307.2 L340.4,308.7 L341.0,308.3 L341.6,308.5 L342.2,308.5 L342.8,308.4 L343.4,308.3 L344.0,308.5 L344.6,307.2 L345.2,307.9 L345.8,308.7 L346.4,308.6 L347.0,307.8 L347.6,307.9 L348.2,308.6 L348.8,307.7 L349.4,309.1 L350.0,308.5 L350.6,307.3 L351.2,309.7 L351.8,308.4 L352.4,307.7 L353.0,308.3 L353.6,308.7 L354.2,308.7 L354.8,309.4 L355.4,309.0 L356.0,308.2 L356.6,308.6 L357.2,308.3 L357.8,308.3 L358.4,308.1 L359.0,309.2 L359.6,308.4 L360.2,308.4 L360.8,308.4 L361.4,308.7 L362.0,309.5 L362.6,307.9 L363.2,307.8 L363.8,306.9 L364.4,307.8 L365.0,307.3 L365.6,307.9 L366.2,308.5 L366.8,308.0 L367.4,308.9 L368.0,308.1 L368.6,308.3 L369.2,308.8 L369.8,307.6 L370.4,307.6 L371.0,308.0 L371.6,307.8 L372.2,307.3 L372.8,308.3 L373.4,309.0 L374.0,308.8 L374.6,307.9 L375.2,308.1 L375.8,309.1 L376.4,307.5 L377.0,308.1 L377.6,307.3 L378.2,307.6 L378.8,308.5 L379.4,308.2 L380.0,308.7 L380.6,308.7 L381.2,308.4 L381.8,308.0 L382.4,307.5 L383.0,308.7 L383.6,307.9 L384.2,308.2 L384.8,308.4 L385.4,307.6 L386.0,308.4 L386.6,307.5 L387.2,308.4 L387.8,308.8 L388.4,307.8 L389.0,309.1 L389.6,308.9 L390.2,308.3 L390.8,308.2 L391.4,308.4 L392.0,309.3 L392.6,309.0 L393.2,307.9 L393.8,307.9 L394.4,308.8 L395.0,308.1 L395.6,308.1 L396.2,307.7 L396.8,308.6 L397.4,307.4 L398.0,308.4 L398.6,307.4 L399.2,307.7 L399.8,308.8 L400.4,308.4 L401.0,308.1 L401.6,307.7 L402.2,309.0 L402.8,308.5 L403.4,307.9 L404.0,308.0 L404.6,308.8 L405.2,308.7 L405.8,308.0 L406.4,308.8 L407.0,308.1 L407.6,307.7 L408.2,308.2 L408.8,309.7 L409.4,307.6 L410.0,307.6 L410.6,307.4 L411.2,307.7 L411.8,309.2 L412.4,307.4 L413.0,308.0 L413.6,307.7 L414.2,308.3 L414.8,308.4 L415.4,308.4 L416.0,307.3 L416.6,308.1 L417.2,308.3 L417.8,308.9 L418.4,308.0 L419.0,308.2 L419.6,308.1 L420.2,307.7 L420.8,307.8 L421.4,308.2 L422.0,308.1 L422.6,308.2 L423.2,307.8 L423.8,307.8 L424.4,308.2 L425.0,308.7 L425.6,307.8 L426.2,307.7 L426.8,308.8 L427.4,308.0 L428.0,308.4 L428.6,309.5 L429.2,308.3 L429.8,307.7 L430.4,308.6 L431.0,308.6 L431.6,307.7 L432.2,308.9 L432.8,308.8 L433.4,308.4 L434.0,307.9 L434.6,307.9 L435.2,308.5 L435.8,308.4 L436.4,308.2 L437.0,308.5 L437.6,308.7 L438.2,308.9 L438.8,307.8 L439.4,308.4 L440.0,306.6 L440.6,307.9 L441.2,308.7 L441.8,308.2 L442.4,308.0 L443.0,308.0 L443.6,308.0 L444.2,308.0 L444.8,308.3 L445.4,307.9 L446.0,307.0 L446.6,308.5 L447.2,308.5 L447.8,307.8 L448.4,307.5 L449.0,307.8 L449.6,307.6 L450.2,308.3 L450.8,308.4 L451.4,307.9 L452.0,307.9 L452.6,307.3 L453.2,307.4 L453.8,309.3 L454.4,307.8 L455.0,308.6 L455.6,309.4 L456.2,308.0 L456.8,308.3 L457.4,308.4 L458.0,309.0 L458.6,308.8" fill="none" stroke="#303a99" stroke-width="0.95" stroke-linejoin="round" stroke-linecap="butt"/>
<path d="M3.2,308.2 L3.8,308.3 L4.4,308.2 L5.0,308.3 L5.6,308.6 L6.2,308.6 L6.8,308.2 L7.4,308.0 L8.0,308.2 L8.6,308.4 L9.2,308.2 L9.8,308.8 L10.4,308.6 L11.0,308.4 L11.6,308.3 L12.2,308.3 L12.8,308.3 L13.4,308.6 L14.0,308.4 L14.6,308.2 L15.2,308.8 L15.8,308.6 L16.4,308.4 L17.0,307.8 L17.6,308.0 L18.2,307.8 L18.8,307.8 L19.4,308.4 L20.0,308.3 L20.6,308.6 L21.2,307.9 L21.8,308.0 L22.4,308.1 L23.0,308.0 L23.6,308.1 L24.2,308.2 L24.8,308.2 L25.4,307.9 L26.0,308.5 L26.6,308.6 L27.2,308.2 L27.8,307.9 L28.4,308.2 L29.0,308.3 L29.6,308.0 L30.2,308.2 L30.8,308.8 L31.4,308.6 L32.0,308.9 L32.6,308.3 L33.2,308.4 L33.8,308.1 L34.4,307.6 L35.0,308.4 L35.6,308.2 L36.2,308.4 L36.8,309.1 L37.4,308.5 L38.0,308.5 L38.6,308.2 L39.2,308.5 L39.8,308.6 L40.4,308.1 L41.0,308.3 L41.6,308.5 L42.2,308.5 L42.8,308.3 L43.4,308.0 L44.0,307.8 L44.6,308.6 L45.2,307.9 L45.8,308.2 L46.4,308.1 L47.0,308.0 L47.6,308.5 L48.2,308.0 L48.8,308.6 L49.4,308.4 L50.0,308.5 L50.6,307.7 L51.2,307.7 L51.8,308.0 L52.4,308.1 L53.0,308.4 L53.6,307.7 L54.2,307.8 L54.8,308.0 L55.4,308.3 L56.0,308.4 L56.6,308.3 L57.2,307.8 L57.8,308.5 L58.4,308.2 L59.0,307.7 L59.6,308.0 L60.2,307.7 L60.8,308.1 L61.4,308.1 L62.0,307.8 L62.6,308.0 L63.2,308.1 L63.8,308.4 L64.4,308.7 L65.0,307.8 L65.6,308.4 L66.2,308.5 L66.8,308.0 L67.4,308.5 L68.0,308.6 L68.6,308.4 L69.2,308.3 L69.8,308.2 L70.4,308.1 L71.0,307.9 L71.6,308.3 L72.2,308.1 L72.8,308.3 L73.4,308.4 L74.0,308.1 L74.6,308.1 L75.2,307.7 L75.8,308.1 L76.4,308.4 L77.0,308.1 L77.6,308.3 L78.2,307.8 L78.8,308.8 L79.4,308.4 L80.0,308.4 L80.6,308.2 L81.2,308.3 L81.8,308.7 L82.4,308.8 L83.0,308.2 L83.6,307.8 L84.2,307.8 L84.8,308.4 L85.4,308.1 L86.0,308.5 L86.6,308.7 L87.2,307.9 L87.8,308.0 L88.4,308.3 L89.0,308.3 L89.6,308.0 L90.2,308.1 L90.8,308.3 L91.4,308.1 L92.0,308.2 L92.6,308.4 L93.2,308.5 L93.8,308.0 L94.4,308.4 L95.0,308.6 L95.6,307.7 L96.2,307.9 L96.8,308.1 L97.4,308.3 L98.0,308.2 L98.6,308.7 L99.2,308.2 L99.8,308.2 L100.4,308.3 L101.0,308.1 L101.6,308.5 L102.2,308.2 L102.8,308.7 L103.4,308.2 L104.0,308.4 L104.6,308.6 L105.2,308.4 L105.8,308.2 L106.4,308.4 L107.0,308.0 L107.6,308.4 L108.2,308.0 L108.8,308.0 L109.4,308.4 L110.0,307.8 L110.6,308.6 L111.2,308.1 L111.8,308.2 L112.4,308.0 L113.0,308.7 L113.6,308.6 L114.2,308.5 L114.8,308.2 L115.4,308.2 L116.0,308.2 L116.6,308.3 L117.2,308.5 L117.8,308.7 L118.4,308.4 L119.0,308.1 L119.6,307.9 L120.2,308.4 L120.8,307.9 L121.4,308.7 L122.0,308.0 L122.6,308.6 L123.2,308.2 L123.8,308.5 L124.4,308.5 L125.0,308.4 L125.6,307.8 L126.2,308.4 L126.8,308.1 L127.4,308.2 L128.0,308.2 L128.6,308.2 L129.2,308.1 L129.8,308.6 L130.4,308.2 L131.0,308.1 L131.6,308.4 L132.2,308.1 L132.8,308.6 L133.4,308.0 L134.0,308.5 L134.6,308.3 L135.2,308.0 L135.8,307.9 L136.4,308.4 L137.0,308.4 L137.6,307.9 L138.2,309.1 L138.8,307.8 L139.4,307.9 L140.0,308.6 L140.6,307.9 L141.2,308.1 L141.8,308.1 L142.4,308.9 L143.0,308.4 L143.6,308.3 L144.2,308.4 L144.8,308.4 L145.4,308.3 L146.0,309.1 L146.6,308.3 L147.2,308.5 L147.8,308.3 L148.4,308.4 L149.0,308.2 L149.6,308.2 L150.2,307.7 L150.8,308.5 L151.4,307.7 L152.0,308.3 L152.6,308.5 L153.2,308.7 L153.8,308.0 L154.4,308.7 L155.0,308.0 L155.6,308.1 L156.2,308.4 L156.8,308.4 L157.4,308.1 L158.0,308.2 L158.6,308.0 L159.2,308.2 L159.8,308.4 L160.4,308.1 L161.0,308.6 L161.6,308.0 L162.2,308.2 L162.8,308.6 L163.4,308.6 L164.0,308.3 L164.6,308.8 L165.2,307.8 L165.8,308.0 L166.4,308.6 L167.0,308.3 L167.6,307.7 L168.2,308.1 L168.8,308.6 L169.4,308.9 L170.0,308.7 L170.6,307.9 L171.2,308.2 L171.8,308.6 L172.4,308.0 L173.0,308.4 L173.6,308.5 L174.2,308.4 L174.8,308.4 L175.4,307.7 L176.0,308.5 L176.6,308.4 L177.2,307.8 L177.8,307.8 L178.4,308.5 L179.0,307.6 L179.6,307.9 L180.2,308.7 L180.8,307.7 L181.4,308.7 L182.0,308.0 L182.6,308.6 L183.2,308.8 L183.8,308.0 L184.4,308.1 L185.0,308.3 L185.6,308.2 L186.2,308.3 L186.8,308.3 L187.4,308.6 L188.0,308.1 L188.6,308.2 L189.2,308.3 L189.8,308.4 L190.4,308.3 L191.0,308.7 L191.6,308.3 L192.2,308.5 L192.8,307.9 L193.4,308.5 L194.0,308.4 L194.6,308.2 L195.2,308.0 L195.8,308.1 L196.4,308.2 L197.0,307.6 L197.6,308.3 L198.2,308.2 L198.8,307.4 L199.4,308.5 L200.0,308.0 L200.6,308.1 L201.2,308.7 L201.8,308.4 L202.4,308.0 L203.0,308.7 L203.6,308.3 L204.2,308.0 L204.8,308.3 L205.4,308.2 L206.0,308.5 L206.6,308.4 L207.2,308.4 L207.8,308.4 L208.4,308.1 L209.0,308.2 L209.6,307.6 L210.2,308.1 L210.8,308.2 L211.4,307.6 L212.0,308.3 L212.6,308.5 L213.2,308.2 L213.8,308.6 L214.4,308.1 L215.0,307.8 L215.6,308.1 L216.2,308.4 L216.8,308.3 L217.4,308.1 L218.0,307.9 L218.6,308.4 L219.2,308.4 L219.8,307.9 L220.4,308.2 L221.0,308.1 L221.6,308.1 L222.2,308.5 L222.8,308.3 L223.4,307.9 L224.0,308.3 L224.6,308.3 L225.2,308.2 L225.8,308.1 L226.4,307.5 L227.0,308.5 L227.6,308.2 L228.2,307.6 L228.8,308.2 L229.4,308.1 L230.0,308.7 L230.6,308.0 L231.2,308.0 L231.8,308.0 L232.4,308.3 L233.0,308.1 L233.6,308.3 L234.2,308.0 L234.8,308.3 L235.4,308.0 L236.0,308.7 L236.6,308.3 L237.2,309.1 L237.8,308.3 L238.4,308.0 L239.0,308.3 L239.6,307.5 L240.2,308.6 L240.8,308.4 L241.4,308.5 L242.0,308.4 L242.6,308.4 L243.2,308.7 L243.8,308.5 L244.4,307.6 L245.0,308.3 L245.6,308.0 L246.2,308.6 L246.8,308.3 L247.4,308.1 L248.0,308.3 L248.6,308.4 L249.2,308.3 L249.8,308.2 L250.4,308.0 L251.0,307.9 L251.6,308.7 L252.2,308.9 L252.8,308.3 L253.4,308.2 L254.0,308.0 L254.6,307.9 L255.2,308.5 L255.8,307.6 L256.4,308.2 L257.0,308.8 L257.6,308.0 L258.2,308.2 L258.8,308.2 L259.4,308.7 L260.0,308.3 L260.6,308.2 L261.2,308.3 L261.8,308.0 L262.4,307.9 L263.0,307.8 L263.6,307.9 L264.2,308.3 L264.8,307.7 L265.4,308.2 L266.0,308.0 L266.6,308.3 L267.2,308.7 L267.8,308.9 L268.4,308.2 L269.0,308.5 L269.6,308.3 L270.2,308.0 L270.8,308.7 L271.4,308.8 L272.0,308.2 L272.6,308.1 L273.2,308.3 L273.8,308.4 L274.4,308.7 L275.0,308.3 L275.6,308.5 L276.2,308.1 L276.8,308.0 L277.4,308.4 L278.0,308.1 L278.6,308.2 L279.2,308.0 L279.8,307.8 L280.4,308.0 L281.0,308.0 L281.6,308.0 L282.2,308.4 L282.8,308.3 L283.4,308.1 L284.0,307.9 L284.6,307.9 L285.2,307.6 L285.8,308.6 L286.4,308.3 L287.0,308.8 L287.6,308.4 L288.2,308.8 L288.8,307.9 L289.4,308.0 L290.0,308.6 L290.6,308.1 L291.2,308.0 L291.8,307.7 L292.4,308.0 L293.0,308.2 L293.6,308.3 L294.2,308.1 L294.8,308.2 L295.4,308.4 L296.0,308.6 L296.6,307.9 L297.2,308.5 L297.8,308.3 L298.4,308.0 L299.0,308.3 L299.6,307.9 L300.2,308.6 L300.8,308.0 L301.4,308.7 L302.0,308.7 L302.6,308.6 L303.2,308.2 L303.8,308.5 L304.4,308.7 L305.0,307.9 L305.6,308.5 L306.2,308.3 L306.8,308.2 L307.4,308.4 L308.0,308.1 L308.6,308.1 L309.2,308.3 L309.8,307.9 L310.4,308.4 L311.0,308.6 L311.6,308.2 L312.2,308.5 L312.8,308.1 L313.4,308.3 L314.0,308.4 L314.6,308.1 L315.2,308.1 L315.8,309.2 L316.4,308.3 L317.0,308.2 L317.6,308.1 L318.2,308.4 L318.8,308.6 L319.4,308.2 L320.0,308.0 L320.6,308.9 L321.2,308.7 L321.8,308.4 L322.4,309.0 L323.0,308.4 L323.6,308.0 L324.2,308.6 L324.8,308.2 L325.4,308.5 L326.0,308.1 L326.6,308.1 L327.2,307.9 L327.8,308.2 L328.4,307.9 L329.0,308.1 L329.6,308.4 L330.2,307.8 L330.8,308.4 L331.4,308.2 L332.0,307.5 L332.6,308.0 L333.2,308.5 L333.8,308.2 L334.4,308.4 L335.0,308.3 L335.6,308.7 L336.2,308.2 L336.8,308.7 L337.4,308.1 L338.0,308.1 L338.6,308.0 L339.2,307.6 L339.8,308.8 L340.4,308.6 L341.0,308.6 L341.6,308.4 L342.2,308.0 L342.8,308.4 L343.4,308.4 L344.0,308.6 L344.6,308.4 L345.2,308.4 L345.8,308.3 L346.4,308.7 L347.0,308.3 L347.6,308.1 L348.2,308.1 L348.8,308.6 L349.4,308.0 L350.0,308.0 L350.6,308.2 L351.2,308.6 L351.8,308.7 L352.4,308.2 L353.0,308.6 L353.6,308.7 L354.2,308.0 L354.8,308.0 L355.4,308.1 L356.0,307.8 L356.6,308.0 L357.2,308.6 L357.8,307.9 L358.4,308.2 L359.0,308.1 L359.6,307.8 L360.2,308.1 L360.8,307.8 L361.4,308.2 L362.0,308.4 L362.6,308.5 L363.2,308.3 L363.8,308.8 L364.4,308.3 L365.0,308.3 L365.6,308.4 L366.2,308.9 L366.8,308.9 L367.4,308.0 L368.0,308.5 L368.6,307.8 L369.2,308.5 L369.8,308.1 L370.4,308.7 L371.0,308.4 L371.6,308.3 L372.2,308.1 L372.8,307.7 L373.4,308.0 L374.0,308.7 L374.6,308.2 L375.2,308.3 L375.8,308.4 L376.4,308.1 L377.0,307.8 L377.6,308.4 L378.2,307.9 L378.8,307.8 L379.4,308.6 L380.0,307.7 L380.6,307.7 L381.2,308.2 L381.8,307.7 L382.4,308.2 L383.0,307.9 L383.6,308.1 L384.2,308.5 L384.8,308.2 L385.4,308.3 L386.0,308.4 L386.6,308.6 L387.2,308.5 L387.8,308.6 L388.4,307.9 L389.0,308.9 L389.6,308.2 L390.2,308.4 L390.8,308.6 L391.4,308.0 L392.0,308.5 L392.6,307.9 L393.2,308.3 L393.8,308.1 L394.4,308.3 L395.0,308.1 L395.6,308.0 L396.2,308.4 L396.8,308.3 L397.4,307.7 L398.0,308.4 L398.6,307.7 L399.2,308.4 L399.8,308.4 L400.4,308.8 L401.0,308.5 L401.6,308.8 L402.2,308.4 L402.8,308.0 L403.4,308.3 L404.0,308.4 L404.6,308.6 L405.2,308.5 L405.8,308.7 L406.4,308.6 L407.0,307.7 L407.6,308.2 L408.2,308.5 L408.8,308.0 L409.4,307.8 L410.0,308.4 L410.6,308.3 L411.2,308.6 L411.8,308.7 L412.4,307.8 L413.0,307.2 L413.6,308.5 L414.2,308.7 L414.8,307.8 L415.4,307.9 L416.0,308.1 L416.6,307.8 L417.2,308.4 L417.8,308.2 L418.4,308.0 L419.0,308.3 L419.6,308.1 L420.2,308.3 L420.8,308.1 L421.4,308.2 L422.0,308.9 L422.6,308.2 L423.2,308.7 L423.8,308.5 L424.4,308.8 L425.0,308.0 L425.6,308.4 L426.2,308.4 L426.8,307.9 L427.4,308.0 L428.0,308.3 L428.6,308.9 L429.2,308.0 L429.8,308.3 L430.4,308.4 L431.0,308.0 L431.6,308.4 L432.2,308.3 L432.8,308.0 L433.4,308.1 L434.0,308.4 L434.6,307.8 L435.2,307.9 L435.8,307.7 L436.4,308.3 L437.0,308.2 L437.6,307.9 L438.2,308.1 L438.8,308.2 L439.4,308.3 L440.0,308.3 L440.6,308.4 L441.2,308.4 L441.8,308.1 L442.4,308.3 L443.0,308.7 L443.6,308.2 L444.2,307.7 L444.8,307.8 L445.4,308.9 L446.0,308.5 L446.6,308.0 L447.2,308.2 L447.8,308.2 L448.4,308.3 L449.0,308.2 L449.6,308.6 L450.2,307.9 L450.8,308.6 L451.4,308.3 L452.0,307.8 L452.6,307.9 L453.2,308.3 L453.8,308.3 L454.4,308.4 L455.0,308.4 L455.6,308.3 L456.2,307.8 L456.8,308.4 L457.4,308.1 L458.0,308.1 L458.6,308.1" fill="none" stroke="#1a3358" stroke-width="1.2" stroke-linejoin="round" stroke-linecap="butt" opacity="0.8"/>
<line x1="3.3" y1="6" x2="3.3" y2="312.9" stroke="#828282" stroke-width="1.3"/>
<line x1="2.3" y1="312.4" x2="459.0" y2="312.4" stroke="#5c5c5c" stroke-width="0.9"/>
<line x1="29.2" y1="312.4" x2="29.2" y2="314.7" stroke="#2a2a2a" stroke-width="1.15"/>
<text x="28.8" y="325" text-anchor="middle" class="tk">2</text>
<line x1="55.3" y1="312.4" x2="55.3" y2="314.7" stroke="#2a2a2a" stroke-width="1.15"/>
<text x="54.8" y="325" text-anchor="middle" class="tk">4</text>
<line x1="81.4" y1="312.4" x2="81.4" y2="314.7" stroke="#2a2a2a" stroke-width="1.15"/>
<text x="80.9" y="325" text-anchor="middle" class="tk">6</text>
<line x1="107.5" y1="312.4" x2="107.5" y2="314.7" stroke="#2a2a2a" stroke-width="1.15"/>
<text x="107.0" y="325" text-anchor="middle" class="tk">8</text>
<line x1="133.6" y1="312.4" x2="133.6" y2="314.7" stroke="#2a2a2a" stroke-width="1.15"/>
<text x="133.1" y="325" text-anchor="middle" class="tk">10</text>
<line x1="159.6" y1="312.4" x2="159.6" y2="314.7" stroke="#2a2a2a" stroke-width="1.15"/>
<text x="159.1" y="325" text-anchor="middle" class="tk">12</text>
<line x1="185.7" y1="312.4" x2="185.7" y2="314.7" stroke="#2a2a2a" stroke-width="1.15"/>
<text x="185.2" y="325" text-anchor="middle" class="tk">14</text>
<line x1="211.8" y1="312.4" x2="211.8" y2="314.7" stroke="#2a2a2a" stroke-width="1.15"/>
<text x="211.3" y="325" text-anchor="middle" class="tk">16</text>
<line x1="237.9" y1="312.4" x2="237.9" y2="314.7" stroke="#2a2a2a" stroke-width="1.15"/>
<text x="237.4" y="325" text-anchor="middle" class="tk">18</text>
<line x1="264.0" y1="312.4" x2="264.0" y2="314.7" stroke="#2a2a2a" stroke-width="1.15"/>
<text x="263.5" y="325" text-anchor="middle" class="tk">20</text>
<line x1="290.1" y1="312.4" x2="290.1" y2="314.7" stroke="#2a2a2a" stroke-width="1.15"/>
<text x="289.6" y="325" text-anchor="middle" class="tk">22</text>
<line x1="316.1" y1="312.4" x2="316.1" y2="314.7" stroke="#2a2a2a" stroke-width="1.15"/>
<text x="315.6" y="325" text-anchor="middle" class="tk">24</text>
<line x1="342.2" y1="312.4" x2="342.2" y2="314.7" stroke="#2a2a2a" stroke-width="1.15"/>
<text x="341.7" y="325" text-anchor="middle" class="tk">26</text>
<line x1="368.3" y1="312.4" x2="368.3" y2="314.7" stroke="#2a2a2a" stroke-width="1.15"/>
<text x="367.8" y="325" text-anchor="middle" class="tk">28</text>
<line x1="394.4" y1="312.4" x2="394.4" y2="314.7" stroke="#2a2a2a" stroke-width="1.15"/>
<text x="393.9" y="325" text-anchor="middle" class="tk">30</text>
<line x1="420.4" y1="312.4" x2="420.4" y2="314.7" stroke="#2a2a2a" stroke-width="1.15"/>
<text x="419.9" y="325" text-anchor="middle" class="tk">32</text>
<line x1="446.5" y1="312.4" x2="446.5" y2="314.7" stroke="#2a2a2a" stroke-width="1.15"/>
<text x="446.0" y="325" text-anchor="middle" class="tk">34</text>
</g>
<g id="p2">
<path d="M3.2,648.9 L3.8,649.0 L4.4,649.5 L5.0,648.7 L5.6,648.7 L6.2,649.1 L6.8,649.0 L7.4,648.9 L8.0,649.2 L8.6,648.8 L9.2,648.8 L9.8,648.7 L10.4,648.7 L11.0,649.4 L11.6,648.8 L12.2,649.0 L12.8,648.7 L13.4,648.7 L14.0,648.7 L14.6,649.0 L15.2,648.2 L15.8,649.0 L16.4,649.2 L17.0,648.7 L17.6,649.3 L18.2,648.5 L18.8,648.7 L19.4,648.6 L20.0,648.7 L20.6,648.8 L21.2,649.3 L21.8,649.1 L22.4,648.8 L23.0,649.0 L23.6,648.8 L24.2,649.1 L24.8,649.1 L25.4,648.9 L26.0,648.8 L26.6,648.9 L27.2,649.2 L27.8,649.3 L28.4,648.4 L29.0,649.2 L29.6,649.2 L30.2,649.1 L30.8,648.7 L31.4,649.1 L32.0,648.8 L32.6,648.9 L33.2,649.2 L33.8,648.9 L34.4,649.2 L35.0,649.0 L35.6,648.8 L36.2,649.0 L36.8,649.2 L37.4,649.0 L38.0,649.0 L38.6,648.9 L39.2,649.5 L39.8,649.4 L40.4,648.8 L41.0,649.0 L41.6,648.9 L42.2,648.9 L42.8,649.0 L43.4,649.0 L44.0,648.9 L44.6,648.8 L45.2,648.8 L45.8,648.9 L46.4,649.2 L47.0,648.9 L47.6,649.2 L48.2,649.1 L48.8,648.9 L49.4,648.9 L50.0,648.6 L50.6,648.7 L51.2,648.8 L51.8,649.0 L52.4,648.9 L53.0,649.0 L53.6,648.5 L54.2,648.8 L54.8,649.1 L55.4,649.1 L56.0,648.6 L56.6,649.1 L57.2,648.8 L57.8,648.8 L58.4,648.6 L59.0,649.1 L59.6,648.8 L60.2,648.8 L60.8,648.7 L61.4,648.5 L62.0,648.9 L62.6,648.9 L63.2,648.7 L63.8,649.2 L64.4,648.8 L65.0,649.1 L65.6,649.2 L66.2,649.3 L66.8,649.3 L67.4,648.7 L68.0,648.6 L68.6,648.8 L69.2,648.6 L69.8,648.8 L70.4,649.0 L71.0,649.1 L71.6,648.7 L72.2,648.6 L72.8,648.5 L73.4,649.0 L74.0,648.9 L74.6,649.2 L75.2,648.5 L75.8,648.6 L76.4,648.7 L77.0,648.8 L77.6,648.9 L78.2,648.9 L78.8,648.5 L79.4,649.0 L80.0,648.6 L80.6,648.7 L81.2,649.0 L81.8,649.2 L82.4,649.0 L83.0,648.8 L83.6,649.1 L84.2,648.6 L84.8,648.5 L85.4,648.6 L86.0,649.2 L86.6,649.4 L87.2,648.6 L87.8,648.4 L88.4,648.9 L89.0,648.6 L89.6,648.8 L90.2,648.9 L90.8,648.5 L91.4,648.9 L92.0,648.5 L92.6,648.3 L93.2,648.8 L93.8,648.3 L94.4,649.1 L95.0,648.5 L95.6,648.7 L96.2,648.1 L96.8,648.7 L97.4,648.9 L98.0,648.3 L98.6,649.1 L99.2,648.6 L99.8,648.9 L100.4,648.4 L101.0,648.7 L101.6,648.5 L102.2,648.7 L102.8,649.0 L103.4,649.2 L104.0,648.3 L104.6,648.7 L105.2,649.0 L105.8,648.8 L106.4,648.5 L107.0,649.1 L107.6,648.1 L108.2,648.8 L108.8,648.8 L109.4,648.4 L110.0,648.6 L110.6,648.9 L111.2,648.5 L111.8,648.6 L112.4,648.4 L113.0,648.9 L113.6,649.0 L114.2,648.5 L114.8,648.8 L115.4,649.2 L116.0,648.8 L116.6,648.5 L117.2,648.9 L117.8,648.4 L118.4,648.8 L119.0,648.7 L119.6,649.1 L120.2,648.9 L120.8,648.7 L121.4,648.5 L122.0,648.6 L122.6,648.4 L123.2,649.2 L123.8,648.7 L124.4,648.7 L125.0,648.9 L125.6,648.7 L126.2,648.8 L126.8,648.6 L127.4,648.7 L128.0,648.5 L128.6,648.9 L129.2,648.3 L129.8,648.6 L130.4,648.2 L131.0,648.7 L131.6,648.8 L132.2,648.6 L132.8,648.8 L133.4,648.9 L134.0,648.6 L134.6,648.7 L135.2,648.8 L135.8,648.7 L136.4,648.9 L137.0,648.6 L137.6,649.0 L138.2,648.2 L138.8,648.6 L139.4,648.4 L140.0,648.9 L140.6,648.6 L141.2,648.7 L141.8,648.4 L142.4,648.4 L143.0,649.1 L143.6,648.4 L144.2,649.0 L144.8,648.3 L145.4,648.7 L146.0,649.0 L146.6,648.5 L147.2,648.6 L147.8,648.9 L148.4,648.8 L149.0,648.5 L149.2,648.8 L149.4,648.9 L149.6,649.0 L149.7,649.0 L149.8,648.9 L150.1,648.9 L150.2,648.9 L150.2,648.8 L150.4,648.6 L150.7,648.3 L150.8,648.2 L150.8,648.3 L151.1,648.5 L151.2,648.7 L151.4,648.8 L151.7,648.7 L151.8,648.6 L152.0,648.6 L152.1,648.6 L152.2,648.6 L152.4,648.5 L152.6,648.5 L152.7,648.5 L152.8,648.0 L153.1,646.7 L153.2,645.6 L153.2,644.8 L153.4,639.5 L153.7,629.8 L153.8,622.9 L153.8,616.6 L154.1,596.3 L154.2,582.4 L154.4,575.8 L154.4,571.6 L154.7,562.3 L154.8,554.8 L155.0,551.2 L155.1,548.9 L155.2,543.4 L155.4,538.2 L155.6,535.4 L155.7,533.8 L155.8,530.4 L156.1,528.3 L156.2,527.7 L156.2,527.5 L156.4,528.9 L156.7,533.0 L156.8,536.3 L156.8,538.8 L157.1,545.4 L157.2,551.5 L157.4,554.9 L157.4,557.4 L157.7,563.7 L157.8,570.2 L158.0,574.1 L158.1,576.5 L158.2,582.0 L158.4,587.4 L158.6,590.5 L158.7,592.6 L158.8,597.7 L159.1,602.1 L159.2,604.4 L159.2,605.8 L159.4,609.1 L159.7,612.2 L159.8,614.0 L159.8,615.0 L160.1,617.4 L160.2,619.6 L160.4,620.8 L160.4,621.7 L160.7,623.8 L160.8,625.7 L161.0,626.8 L161.1,627.4 L161.2,628.8 L161.4,630.2 L161.6,631.0 L161.7,631.5 L161.8,632.8 L162.1,634.0 L162.2,634.6 L162.2,635.1 L162.4,636.2 L162.7,637.2 L162.8,637.7 L162.8,638.1 L163.1,639.0 L163.2,639.7 L163.4,640.1 L163.4,640.4 L163.7,640.9 L163.8,641.3 L164.0,641.5 L164.1,641.6 L164.2,641.7 L164.4,641.8 L164.6,641.9 L164.7,642.1 L164.8,642.7 L165.1,643.3 L165.2,643.6 L165.2,643.7 L165.4,644.1 L165.7,644.4 L165.8,644.5 L166.1,644.5 L166.2,644.5 L166.4,644.5 L166.4,644.6 L166.7,644.8 L166.8,645.0 L167.0,645.1 L167.1,645.2 L167.2,645.5 L167.4,645.8 L167.6,646.0 L167.7,645.9 L167.8,645.8 L168.1,645.6 L168.2,645.5 L168.2,645.7 L168.4,646.0 L168.7,646.3 L168.8,646.5 L169.1,646.7 L169.2,646.8 L169.4,646.9 L169.7,646.8 L169.8,646.7 L170.0,646.7 L170.1,646.7 L170.2,646.8 L170.4,646.9 L170.6,646.9 L170.7,646.9 L170.8,646.8 L171.1,646.7 L171.2,646.7 L171.2,646.8 L171.4,647.2 L171.7,647.6 L171.8,647.8 L171.8,647.9 L172.1,647.9 L172.2,647.9 L172.4,648.0 L172.4,647.9 L172.7,647.9 L172.8,647.9 L173.0,647.9 L173.1,647.9 L173.2,647.9 L173.4,648.0 L173.6,648.0 L173.7,648.0 L173.8,648.1 L174.1,648.1 L174.2,648.1 L174.4,648.2 L174.7,648.3 L174.8,648.3 L174.8,648.4 L175.1,648.5 L175.2,648.6 L175.4,648.7 L175.4,648.6 L175.7,648.6 L175.8,648.5 L176.0,648.5 L176.1,648.4 L176.2,648.4 L176.4,648.3 L176.6,648.3 L176.7,648.3 L176.8,648.3 L177.1,648.3 L177.2,648.3 L177.2,648.4 L177.4,648.5 L177.7,648.7 L177.8,648.8 L177.8,648.7 L178.1,648.6 L178.2,648.6 L178.4,648.5 L178.7,648.5 L178.8,648.6 L179.0,648.6 L179.1,648.6 L179.2,648.7 L179.4,648.8 L179.6,648.8 L179.7,648.8 L179.8,648.8 L180.1,648.8 L180.2,648.8 L180.4,648.7 L180.7,648.7 L180.8,648.7 L180.8,648.6 L181.1,648.4 L181.2,648.1 L181.4,648.0 L181.4,648.1 L181.7,648.3 L181.8,648.5 L182.0,648.7 L182.1,648.7 L182.2,648.8 L182.4,648.9 L182.6,648.9 L182.7,648.9 L182.8,648.8 L183.1,648.8 L183.2,648.7 L183.4,648.8 L183.7,648.8 L183.8,648.8 L184.1,648.6 L184.2,648.5 L184.4,648.4 L184.4,648.5 L184.7,648.8 L184.8,649.1 L185.0,649.2 L185.1,649.2 L185.2,649.1 L185.4,649.0 L185.6,649.0 L185.7,648.9 L185.8,648.7 L186.1,648.6 L186.2,648.5 L186.4,648.5 L186.7,648.6 L186.8,648.6 L187.1,648.6 L187.2,648.7 L187.4,648.7 L187.7,648.6 L187.8,648.6 L188.0,648.5 L188.1,648.6 L188.2,648.8 L188.4,648.9 L188.6,649.0 L188.7,649.0 L188.8,648.8 L189.1,648.7 L189.2,648.6 L189.2,648.7 L189.4,648.8 L189.7,648.9 L189.8,649.0 L190.1,649.0 L190.4,649.0 L191.0,648.6 L191.6,648.9 L192.2,648.8 L192.8,648.5 L193.4,649.0 L194.0,648.5 L194.6,648.1 L195.2,648.8 L195.8,648.5 L196.4,648.5 L197.0,649.0 L197.6,649.0 L198.2,648.7 L198.8,649.2 L199.4,648.7 L200.0,648.6 L200.6,648.6 L201.2,648.6 L201.8,648.4 L202.4,648.8 L203.0,648.4 L203.6,648.6 L204.2,648.6 L204.8,648.7 L205.4,648.5 L206.0,648.9 L206.6,648.5 L207.2,648.4 L207.8,648.9 L208.4,649.0 L209.0,648.9 L209.6,648.7 L210.2,648.6 L210.8,648.5 L211.4,648.2 L212.0,648.3 L212.6,648.6 L213.2,648.8 L213.8,649.0 L214.4,648.5 L215.0,648.6 L215.6,648.8 L216.2,648.8 L216.8,648.7 L217.4,649.4 L218.0,648.7 L218.6,648.6 L219.2,648.7 L219.8,649.0 L220.4,648.7 L221.0,648.6 L221.6,648.3 L222.2,648.4 L222.8,648.6 L223.4,648.7 L224.0,649.1 L224.6,648.8 L225.2,649.1 L225.8,648.7 L226.4,648.4 L227.0,648.5 L227.6,648.5 L228.2,648.7 L228.8,648.5 L229.4,648.8 L230.0,649.2 L230.6,648.7 L231.2,648.7 L231.8,649.2 L232.4,648.8 L233.0,649.3 L233.6,648.8 L234.2,648.4 L234.8,648.9 L235.4,648.4 L236.0,648.7 L236.6,648.9 L237.2,649.2 L237.8,648.5 L238.4,648.5 L239.0,649.1 L239.6,648.8 L240.2,648.4 L240.8,648.9 L241.4,648.6 L242.0,649.2 L242.6,648.9 L243.2,648.5 L243.8,649.0 L244.4,649.1 L245.0,649.0 L245.6,648.8 L246.2,649.1 L246.8,648.7 L247.4,648.5 L248.0,648.3 L248.6,648.8 L249.2,648.3 L249.8,648.5 L250.4,648.7 L251.0,648.6 L251.6,648.3 L252.2,648.3 L252.8,648.5 L253.4,648.7 L254.0,648.5 L254.6,648.6 L255.2,648.6 L255.8,648.6 L256.4,648.2 L257.0,649.0 L257.6,648.7 L258.2,648.9 L258.8,648.4 L259.4,648.4 L260.0,648.3 L260.6,648.7 L261.2,648.6 L261.8,648.5 L262.4,648.6 L263.0,648.6 L263.6,648.6 L264.2,648.6 L264.8,648.7 L265.4,648.5 L266.0,649.0 L266.6,648.7 L267.2,649.0 L267.8,648.6 L268.4,648.8 L269.0,648.5 L269.6,648.3 L270.2,648.9 L270.8,648.8 L271.4,648.5 L272.0,648.2 L272.6,648.4 L273.2,648.5 L273.8,648.6 L274.4,648.7 L275.0,648.5 L275.6,648.5 L276.2,648.5 L276.8,648.7 L277.4,649.0 L278.0,648.8 L278.6,648.7 L279.2,648.9 L279.8,648.5 L280.4,648.9 L281.0,648.6 L281.6,648.5 L282.2,648.3 L282.8,648.5 L283.4,648.2 L284.0,648.7 L284.6,648.7 L285.2,648.3 L285.8,648.7 L286.4,648.6 L287.0,649.0 L287.6,648.2 L288.2,648.3 L288.8,648.7 L289.4,648.9 L290.0,648.4 L290.6,648.4 L291.2,648.2 L291.8,648.0 L292.4,648.4 L293.0,648.5 L293.6,648.5 L294.2,648.6 L294.8,648.8 L295.4,648.7 L296.0,648.5 L296.6,648.9 L297.2,648.8 L297.8,648.1 L298.4,648.6 L299.0,648.2 L299.6,648.2 L300.2,648.4 L300.8,648.2 L301.4,648.5 L302.0,648.6 L302.6,648.4 L303.2,648.4 L303.8,648.4 L304.4,648.4 L305.0,648.5 L305.6,648.1 L306.2,648.4 L306.8,648.5 L307.4,648.1 L308.0,648.6 L308.6,648.4 L309.2,648.0 L309.8,648.3 L310.4,648.0 L311.0,648.4 L311.6,648.5 L312.2,648.4 L312.8,648.5 L313.4,648.4 L314.0,648.4 L314.6,648.1 L315.2,648.2 L315.8,648.4 L316.4,648.5 L317.0,647.5 L317.6,648.4 L318.2,647.9 L318.8,648.6 L319.4,648.5 L320.0,648.0 L320.6,648.6 L321.2,648.5 L321.8,648.3 L322.4,648.5 L323.0,648.3 L323.6,648.2 L324.2,648.0 L324.8,648.2 L325.4,648.2 L326.0,647.9 L326.6,647.9 L327.2,648.3 L327.8,648.7 L328.4,648.5 L329.0,648.0 L329.6,648.3 L330.2,648.4 L330.8,648.3 L331.4,647.8 L332.0,648.2 L332.6,648.3 L333.2,648.4 L333.8,648.5 L334.4,647.5 L335.0,648.2 L335.6,648.1 L336.2,648.3 L336.8,647.9 L337.4,648.4 L338.0,648.6 L338.6,648.3 L339.2,648.1 L339.8,647.6 L340.4,648.2 L341.0,648.4 L341.6,648.2 L342.2,648.3 L342.8,648.3 L343.4,648.1 L344.0,648.0 L344.6,648.3 L345.2,647.8 L345.8,648.1 L346.4,648.1 L347.0,648.2 L347.6,648.0 L348.2,648.0 L348.8,647.9 L349.4,648.3 L350.0,647.9 L350.6,648.2 L351.2,648.1 L351.8,647.9 L352.4,647.7 L353.0,648.2 L353.6,648.3 L354.2,648.0 L354.8,647.8 L355.4,648.1 L356.0,647.4 L356.6,648.5 L357.2,647.7 L357.8,647.8 L358.4,647.8 L359.0,648.2 L359.6,647.7 L360.2,647.7 L360.8,647.7 L361.4,648.1 L362.0,648.1 L362.6,647.7 L363.2,647.9 L363.8,648.1 L364.4,648.2 L365.0,647.9 L365.6,648.4 L366.2,647.9 L366.8,648.0 L367.4,648.4 L368.0,647.9 L368.6,647.7 L369.2,647.9 L369.8,648.3 L370.4,648.1 L371.0,647.8 L371.6,648.3 L372.2,648.1 L372.8,647.7 L373.4,648.1 L374.0,648.1 L374.6,647.8 L375.2,647.6 L375.8,647.9 L376.4,648.3 L377.0,648.4 L377.6,648.0 L378.2,648.4 L378.8,648.0 L379.4,647.7 L380.0,648.6 L380.6,648.0 L381.2,647.9 L381.8,648.1 L382.4,647.9 L383.0,647.8 L383.6,647.7 L384.2,647.3 L384.8,647.9 L385.4,648.2 L386.0,648.2 L386.6,648.3 L387.2,647.8 L387.8,647.9 L388.4,647.8 L389.0,647.9 L389.6,647.5 L390.2,647.7 L390.8,647.7 L391.4,648.1 L392.0,648.0 L392.6,648.3 L393.2,648.1 L393.8,647.9 L394.4,648.2 L395.0,648.1 L395.6,647.4 L396.2,648.0 L396.8,648.3 L397.4,648.3 L398.0,648.0 L398.6,647.7 L399.2,648.0 L399.8,647.7 L400.4,647.9 L401.0,648.2 L401.6,647.7 L402.2,648.0 L402.8,647.5 L403.4,648.1 L404.0,648.0 L404.6,648.1 L405.2,648.0 L405.8,647.8 L406.4,648.0 L407.0,647.6 L407.6,647.8 L408.2,647.5 L408.8,647.9 L409.4,647.6 L410.0,647.6 L410.6,648.0 L411.2,647.3 L411.8,647.6 L412.4,647.8 L413.0,648.0 L413.6,648.0 L414.2,648.0 L414.8,647.9 L415.4,648.2 L416.0,647.9 L416.6,648.1 L417.2,647.5 L417.8,647.7 L418.4,647.5 L419.0,647.3 L419.6,647.8 L420.2,647.4 L420.8,647.8 L421.4,647.8 L422.0,648.2 L422.6,647.9 L423.2,647.6 L423.8,647.8 L424.4,648.0 L425.0,647.9 L425.6,648.1 L426.2,648.1 L426.8,648.3 L427.4,647.7 L428.0,647.7 L428.6,648.0 L429.2,648.3 L429.8,648.0 L430.4,647.4 L431.0,648.3 L431.6,648.1 L432.2,648.1 L432.8,647.7 L433.4,648.3 L434.0,647.9 L434.6,648.2 L435.2,648.0 L435.8,648.2 L436.4,647.8 L437.0,648.1 L437.6,648.1 L438.2,647.7 L438.8,647.9 L439.4,647.4 L440.0,647.8 L440.6,647.9 L441.2,647.9 L441.8,647.3 L442.4,647.6 L443.0,648.0 L443.6,647.9 L444.2,648.1 L444.8,647.8 L445.4,648.1 L446.0,648.1 L446.6,647.8 L447.2,647.6 L447.8,647.7 L448.4,647.8 L449.0,647.9 L449.6,648.6 L450.2,648.0 L450.8,648.0 L451.4,647.8 L452.0,647.5 L452.6,647.8 L453.2,648.4 L453.8,648.0 L454.4,648.0 L455.0,647.8 L455.6,648.0 L456.2,648.5 L456.8,648.2 L457.4,648.1 L458.0,648.5 L458.6,648.0" fill="none" stroke="#9fc0e3" stroke-width="0.9" stroke-linejoin="round" stroke-linecap="butt"/>
<path d="M3.2,648.8 L3.8,648.8 L4.4,648.5 L5.0,649.0 L5.6,649.3 L6.2,648.1 L6.8,648.6 L7.4,648.8 L8.0,648.2 L8.6,649.0 L9.2,649.0 L9.8,648.9 L10.4,648.7 L11.0,648.9 L11.6,648.6 L12.2,648.9 L12.8,648.5 L13.4,648.7 L14.0,649.2 L14.6,648.8 L15.2,649.1 L15.8,648.8 L16.4,648.8 L17.0,648.3 L17.6,648.9 L18.2,649.2 L18.8,648.8 L19.4,649.1 L20.0,648.4 L20.6,648.6 L21.2,648.4 L21.8,648.9 L22.4,649.1 L23.0,648.7 L23.6,649.2 L24.2,649.1 L24.8,649.0 L25.4,648.9 L26.0,649.2 L26.6,649.3 L27.2,648.5 L27.8,649.0 L28.4,648.9 L29.0,648.7 L29.6,648.7 L30.2,649.0 L30.8,649.0 L31.4,648.5 L32.0,648.5 L32.6,648.7 L33.2,648.4 L33.8,649.3 L34.4,648.8 L35.0,648.9 L35.6,649.3 L36.2,648.8 L36.8,648.7 L37.4,648.8 L38.0,649.3 L38.6,648.9 L39.2,648.8 L39.8,648.9 L40.4,648.8 L41.0,648.8 L41.6,648.5 L42.2,648.8 L42.8,648.2 L43.4,648.8 L44.0,648.8 L44.6,648.7 L45.2,648.9 L45.8,649.0 L46.4,648.6 L47.0,649.4 L47.6,649.3 L48.2,648.4 L48.8,648.7 L49.4,648.8 L50.0,648.8 L50.6,648.9 L51.2,649.2 L51.8,649.0 L52.4,649.2 L53.0,648.6 L53.6,648.8 L54.2,648.9 L54.8,648.8 L55.4,649.0 L56.0,649.2 L56.6,648.5 L57.2,648.8 L57.8,649.0 L58.4,648.8 L59.0,648.6 L59.6,648.7 L60.2,648.8 L60.8,648.8 L61.4,649.0 L62.0,648.6 L62.6,648.7 L63.2,648.7 L63.8,649.3 L64.4,648.8 L65.0,648.8 L65.6,648.8 L66.2,649.6 L66.8,649.4 L67.4,648.9 L68.0,649.2 L68.6,648.9 L69.2,649.0 L69.8,648.8 L70.4,649.1 L71.0,649.3 L71.6,648.9 L72.2,649.1 L72.8,649.3 L73.4,649.5 L74.0,648.2 L74.6,649.1 L75.2,649.1 L75.8,649.5 L76.4,649.3 L77.0,649.1 L77.6,648.9 L78.2,648.8 L78.8,649.2 L79.4,648.9 L80.0,648.7 L80.6,649.1 L81.2,649.0 L81.8,649.5 L82.4,649.2 L83.0,649.4 L83.6,648.9 L84.2,649.1 L84.8,648.6 L85.4,649.0 L86.0,648.8 L86.6,648.9 L87.2,649.0 L87.8,649.3 L88.4,648.6 L89.0,649.1 L89.6,649.5 L90.2,649.2 L90.8,649.3 L91.4,648.7 L92.0,648.8 L92.6,648.7 L93.2,648.5 L93.8,649.2 L94.4,649.5 L95.0,649.3 L95.6,648.9 L96.2,649.7 L96.8,649.2 L97.4,648.8 L98.0,649.3 L98.6,649.1 L99.2,649.3 L99.8,648.6 L100.4,648.6 L101.0,649.3 L101.6,649.2 L102.2,649.0 L102.8,648.9 L103.4,648.9 L104.0,648.9 L104.6,648.8 L105.2,648.7 L105.8,648.6 L106.4,649.0 L107.0,649.1 L107.6,649.0 L108.2,648.5 L108.8,648.8 L109.4,648.8 L110.0,648.7 L110.6,648.7 L111.2,648.4 L111.8,649.2 L112.4,649.0 L113.0,648.8 L113.6,648.8 L114.2,649.1 L114.8,649.4 L115.4,649.1 L116.0,649.2 L116.6,649.0 L117.2,648.7 L117.8,648.8 L118.4,649.3 L119.0,649.2 L119.6,648.9 L120.2,648.7 L120.8,649.0 L121.4,648.9 L122.0,649.4 L122.6,649.1 L123.2,649.2 L123.8,648.9 L124.4,649.1 L125.0,649.2 L125.6,649.3 L126.2,648.9 L126.8,649.2 L127.4,648.7 L128.0,648.9 L128.6,649.1 L129.2,648.8 L129.8,649.3 L130.4,648.8 L131.0,649.2 L131.6,648.8 L132.2,649.1 L132.8,649.2 L133.4,649.4 L134.0,649.0 L134.6,648.9 L135.2,649.3 L135.8,648.5 L136.4,649.0 L137.0,649.3 L137.6,648.5 L138.2,649.1 L138.8,648.6 L139.4,649.7 L140.0,648.4 L140.6,648.9 L141.2,649.0 L141.8,648.9 L142.4,649.2 L143.0,648.7 L143.6,648.8 L144.2,648.9 L144.8,649.1 L145.4,649.2 L146.0,648.8 L146.6,648.7 L147.2,648.9 L147.8,649.0 L148.4,649.1 L149.0,648.7 L149.6,648.6 L149.7,648.6 L149.9,648.8 L150.1,648.9 L150.2,649.0 L150.3,649.0 L150.5,649.1 L150.7,649.1 L150.8,649.1 L150.9,648.9 L151.1,648.7 L151.3,648.4 L151.4,648.3 L151.5,648.5 L151.7,648.8 L151.9,649.1 L152.0,649.2 L152.1,649.1 L152.3,648.9 L152.5,648.6 L152.6,648.5 L152.7,648.4 L152.9,648.3 L153.1,648.1 L153.2,648.0 L153.3,647.7 L153.5,647.2 L153.7,646.5 L153.8,646.3 L153.9,646.0 L154.1,645.4 L154.3,644.8 L154.4,644.6 L154.5,644.2 L154.7,643.5 L154.9,642.8 L155.0,642.6 L155.1,642.1 L155.3,641.4 L155.5,640.9 L155.6,640.8 L155.7,640.5 L155.9,640.3 L156.1,640.5 L156.2,640.6 L156.3,640.8 L156.5,641.2 L156.7,641.6 L156.8,641.7 L156.9,642.0 L157.1,642.5 L157.3,643.0 L157.4,643.2 L157.5,643.5 L157.7,643.9 L157.9,644.4 L158.0,644.5 L158.1,644.8 L158.3,645.3 L158.5,645.8 L158.6,645.9 L158.7,646.2 L158.9,646.5 L159.1,646.8 L159.2,646.9 L159.3,647.0 L159.5,647.1 L159.7,647.3 L159.8,647.3 L159.9,647.4 L160.1,647.6 L160.3,647.7 L160.4,647.8 L160.5,647.8 L160.7,647.9 L160.9,647.9 L161.0,647.9 L161.1,648.0 L161.3,648.2 L161.5,648.3 L161.6,648.4 L161.7,648.3 L161.9,648.1 L162.1,647.9 L162.2,647.9 L162.3,648.1 L162.5,648.4 L162.7,648.7 L162.8,648.8 L162.9,648.7 L163.1,648.5 L163.3,648.3 L163.4,648.2 L163.5,648.3 L163.7,648.3 L163.9,648.4 L164.0,648.4 L164.1,648.3 L164.3,648.3 L164.5,648.2 L164.6,648.2 L164.7,648.2 L164.9,648.2 L165.1,648.3 L165.2,648.3 L165.3,648.4 L165.5,648.7 L165.7,648.9 L165.8,649.0 L165.9,648.9 L166.1,648.8 L166.3,648.6 L166.4,648.6 L166.5,648.6 L166.7,648.6 L166.9,648.5 L167.0,648.5 L167.1,648.5 L167.3,648.5 L167.5,648.5 L167.6,648.5 L167.7,648.5 L167.9,648.6 L168.1,648.6 L168.2,648.6 L168.3,648.7 L168.5,648.8 L168.7,648.9 L168.8,648.9 L168.9,648.8 L169.1,648.7 L169.3,648.5 L169.4,648.5 L169.5,648.5 L169.7,648.7 L169.9,648.8 L170.0,648.8 L170.1,648.8 L170.3,648.9 L170.5,648.9 L170.6,648.9 L170.7,648.9 L170.9,648.8 L171.1,648.8 L171.2,648.8 L171.3,648.8 L171.5,648.8 L171.7,648.9 L171.8,648.9 L171.9,648.9 L172.1,649.0 L172.3,649.0 L172.4,649.0 L172.5,648.9 L172.7,648.9 L172.9,648.8 L173.0,648.8 L173.1,648.7 L173.3,648.4 L173.5,648.2 L173.6,648.2 L173.7,648.3 L173.9,648.5 L174.1,648.7 L174.2,648.7 L174.3,648.8 L174.5,648.8 L174.7,648.8 L174.8,648.8 L174.9,648.8 L175.1,648.9 L175.3,648.9 L175.4,648.9 L175.5,648.9 L175.7,648.8 L175.9,648.8 L176.0,648.7 L176.1,648.8 L176.3,649.0 L176.5,649.1 L176.6,649.1 L176.7,649.0 L176.9,648.9 L177.1,648.8 L177.2,648.7 L177.8,648.8 L178.4,648.8 L179.0,648.7 L179.6,648.9 L180.2,648.7 L180.8,648.7 L181.4,648.7 L182.0,648.9 L182.6,648.6 L183.2,648.9 L183.8,648.5 L184.4,648.9 L185.0,648.5 L185.6,648.8 L186.2,648.9 L186.8,649.1 L187.4,648.7 L188.0,648.8 L188.6,648.9 L189.2,648.8 L189.8,648.8 L190.4,649.1 L191.0,649.2 L191.6,648.7 L192.2,648.8 L192.8,648.5 L193.4,648.4 L194.0,648.7 L194.6,648.7 L195.2,648.7 L195.8,648.9 L196.4,649.1 L197.0,649.5 L197.6,648.7 L198.2,648.8 L198.8,648.9 L199.4,648.9 L200.0,648.7 L200.6,648.7 L201.2,648.9 L201.8,649.0 L202.4,648.8 L203.0,648.7 L203.6,648.4 L204.2,649.1 L204.8,648.8 L205.4,649.1 L206.0,649.0 L206.6,648.4 L207.2,649.0 L207.8,649.0 L208.4,649.1 L209.0,648.7 L209.6,649.0 L210.2,649.4 L210.8,648.9 L211.4,648.7 L212.0,649.0 L212.6,648.9 L213.2,649.1 L213.8,649.2 L214.4,649.0 L215.0,649.3 L215.6,649.1 L216.2,649.2 L216.8,649.0 L217.4,648.8 L218.0,649.0 L218.6,648.7 L219.2,648.9 L219.8,649.0 L220.4,649.2 L221.0,649.0 L221.6,649.3 L222.2,648.8 L222.8,649.4 L223.4,649.4 L224.0,649.2 L224.6,649.4 L225.2,649.0 L225.8,649.2 L226.4,649.2 L227.0,648.9 L227.6,649.6 L228.2,649.1 L228.8,649.0 L229.4,648.8 L230.0,649.0 L230.6,649.2 L231.2,648.8 L231.8,648.9 L232.4,648.5 L233.0,648.6 L233.6,649.1 L234.2,648.8 L234.8,649.1 L235.4,649.4 L236.0,648.9 L236.6,648.8 L237.2,649.7 L237.8,648.8 L238.4,649.3 L239.0,648.7 L239.6,649.1 L240.2,649.1 L240.8,648.8 L241.4,649.2 L242.0,648.6 L242.6,649.4 L243.2,649.3 L243.8,649.4 L244.4,649.0 L245.0,649.2 L245.6,649.0 L246.2,648.9 L246.8,649.0 L247.4,648.9 L248.0,648.9 L248.6,649.2 L249.2,649.4 L249.8,649.5 L250.4,649.1 L251.0,649.4 L251.6,649.5 L252.2,649.5 L252.8,649.3 L253.4,649.2 L254.0,649.3 L254.6,649.5 L255.2,649.1 L255.8,649.8 L256.4,649.4 L257.0,649.0 L257.6,649.2 L258.2,649.0 L258.8,649.3 L259.4,649.2 L260.0,649.3 L260.6,649.4 L261.2,649.2 L261.8,649.1 L262.4,649.8 L263.0,649.6 L263.6,649.9 L264.2,649.6 L264.8,649.7 L265.4,649.5 L266.0,649.5 L266.6,649.2 L267.2,649.1 L267.8,649.6 L268.4,649.5 L269.0,649.3 L269.6,649.6 L270.2,649.5 L270.8,649.9 L271.4,649.3 L272.0,649.4 L272.6,649.7 L273.2,649.8 L273.8,649.7 L274.4,649.4 L275.0,649.6 L275.6,649.8 L276.2,649.6 L276.8,649.3 L277.4,649.2 L278.0,649.2 L278.6,649.5 L279.2,649.5 L279.8,649.5 L280.4,649.4 L281.0,649.4 L281.6,649.8 L282.2,649.7 L282.8,649.6 L283.4,649.4 L284.0,649.7 L284.6,649.8 L285.2,649.3 L285.8,649.2 L286.4,649.8 L287.0,649.6 L287.6,649.3 L288.2,649.7 L288.8,649.4 L289.4,650.0 L290.0,649.7 L290.6,649.5 L291.2,649.2 L291.8,649.4 L292.4,650.0 L293.0,650.0 L293.6,649.9 L294.2,649.4 L294.8,649.5 L295.4,649.4 L296.0,649.5 L296.6,649.8 L297.2,649.8 L297.8,649.9 L298.4,649.5 L299.0,650.0 L299.6,649.7 L300.2,649.6 L300.8,649.4 L301.4,649.9 L302.0,649.6 L302.6,650.0 L303.2,649.5 L303.8,649.8 L304.4,649.8 L305.0,650.0 L305.6,649.9 L306.2,649.9 L306.8,649.9 L307.4,649.5 L308.0,650.0 L308.6,649.7 L309.2,649.6 L309.8,650.1 L310.4,650.3 L311.0,649.7 L311.6,650.2 L312.2,650.0 L312.8,649.8 L313.4,649.7 L314.0,649.9 L314.6,650.0 L315.2,649.6 L315.8,649.8 L316.4,649.4 L317.0,650.1 L317.6,649.9 L318.2,649.9 L318.8,649.7 L319.4,649.8 L320.0,649.8 L320.6,649.4 L321.2,649.9 L321.8,649.8 L322.4,649.8 L323.0,650.0 L323.6,649.7 L324.2,650.3 L324.8,649.6 L325.4,650.3 L326.0,650.0 L326.6,649.9 L327.2,650.0 L327.8,650.0 L328.4,649.6 L329.0,649.3 L329.6,649.7 L330.2,649.9 L330.8,650.1 L331.4,650.1 L332.0,649.6 L332.6,649.7 L333.2,649.6 L333.8,649.7 L334.4,649.6 L335.0,650.1 L335.6,650.1 L336.2,650.2 L336.8,650.0 L337.4,650.0 L338.0,649.9 L338.6,650.3 L339.2,649.9 L339.8,649.8 L340.4,649.9 L341.0,650.6 L341.6,650.0 L342.2,650.1 L342.8,649.8 L343.4,650.0 L344.0,649.8 L344.6,650.1 L345.2,649.9 L345.8,649.8 L346.4,650.1 L347.0,649.9 L347.6,650.0 L348.2,649.8 L348.8,650.0 L349.4,649.9 L350.0,650.5 L350.6,650.1 L351.2,649.8 L351.8,649.8 L352.4,650.2 L353.0,650.2 L353.6,649.9 L354.2,649.9 L354.8,649.9 L355.4,650.0 L356.0,650.0 L356.6,649.8 L357.2,650.3 L357.8,650.4 L358.4,649.8 L359.0,650.2 L359.6,649.9 L360.2,650.2 L360.8,650.3 L361.4,649.7 L362.0,650.1 L362.6,650.4 L363.2,650.1 L363.8,650.1 L364.4,650.1 L365.0,650.0 L365.6,650.3 L366.2,650.1 L366.8,649.9 L367.4,649.9 L368.0,650.0 L368.6,650.3 L369.2,650.5 L369.8,649.7 L370.4,650.3 L371.0,650.2 L371.6,650.1 L372.2,650.0 L372.8,650.1 L373.4,650.3 L374.0,650.1 L374.6,649.6 L375.2,649.5 L375.8,650.1 L376.4,649.9 L377.0,650.5 L377.6,650.0 L378.2,649.9 L378.8,650.1 L379.4,649.6 L380.0,649.9 L380.6,649.9 L381.2,650.7 L381.8,650.2 L382.4,649.9 L383.0,650.2 L383.6,650.5 L384.2,650.2 L384.8,649.7 L385.4,649.9 L386.0,649.9 L386.6,650.0 L387.2,649.7 L387.8,650.8 L388.4,650.4 L389.0,649.6 L389.6,649.8 L390.2,650.0 L390.8,650.2 L391.4,650.5 L392.0,650.2 L392.6,650.1 L393.2,650.3 L393.8,649.8 L394.4,649.8 L395.0,650.2 L395.6,649.9 L396.2,650.1 L396.8,650.0 L397.4,650.2 L398.0,649.5 L398.6,650.5 L399.2,650.1 L399.8,649.8 L400.4,649.9 L401.0,650.5 L401.6,650.3 L402.2,650.1 L402.8,650.3 L403.4,650.3 L404.0,650.2 L404.6,650.1 L405.2,649.8 L405.8,650.5 L406.4,649.9 L407.0,650.2 L407.6,650.0 L408.2,650.2 L408.8,649.5 L409.4,650.5 L410.0,649.8 L410.6,650.2 L411.2,650.2 L411.8,649.8 L412.4,650.2 L413.0,649.9 L413.6,649.8 L414.2,650.3 L414.8,649.6 L415.4,649.8 L416.0,650.2 L416.6,650.1 L417.2,650.3 L417.8,650.1 L418.4,649.9 L419.0,649.9 L419.6,650.1 L420.2,650.3 L420.8,650.3 L421.4,650.4 L422.0,650.2 L422.6,650.0 L423.2,650.3 L423.8,650.3 L424.4,650.4 L425.0,650.0 L425.6,650.2 L426.2,650.5 L426.8,649.9 L427.4,649.9 L428.0,650.2 L428.6,650.2 L429.2,650.2 L429.8,650.4 L430.4,649.9 L431.0,649.8 L431.6,649.9 L432.2,650.1 L432.8,650.1 L433.4,650.0 L434.0,649.8 L434.6,650.4 L435.2,650.2 L435.8,650.4 L436.4,650.5 L437.0,650.1 L437.6,649.9 L438.2,650.5 L438.8,650.0 L439.4,650.0 L440.0,650.1 L440.6,649.9 L441.2,650.4 L441.8,649.8 L442.4,650.3 L443.0,650.1 L443.6,650.6 L444.2,650.0 L444.8,650.2 L445.4,650.4 L446.0,650.5 L446.6,650.2 L447.2,649.9 L447.8,650.1 L448.4,650.3 L449.0,650.4 L449.6,650.5 L450.2,650.3 L450.8,650.6 L451.4,650.3 L452.0,650.0 L452.6,650.3 L453.2,650.3 L453.8,650.4 L454.4,650.1 L455.0,650.1 L455.6,649.9 L456.2,650.4 L456.8,650.5 L457.4,650.4 L458.0,650.6 L458.6,650.3" fill="none" stroke="#7ccfc2" stroke-width="0.9" stroke-linejoin="round" stroke-linecap="butt"/>
<path d="M3.2,648.5 L3.8,648.7 L4.4,648.6 L5.0,648.6 L5.6,648.5 L6.2,648.6 L6.8,648.7 L7.4,648.6 L8.0,648.7 L8.6,648.6 L9.2,648.6 L9.8,648.5 L10.4,648.6 L11.0,648.6 L11.6,648.6 L12.2,648.7 L12.8,648.5 L13.4,648.6 L14.0,648.6 L14.6,648.6 L15.2,648.8 L15.8,648.8 L16.4,648.9 L17.0,648.6 L17.6,648.6 L18.2,648.7 L18.8,648.7 L19.4,648.6 L20.0,648.7 L20.6,648.6 L21.2,648.6 L21.8,648.7 L22.4,648.5 L23.0,648.5 L23.6,648.6 L24.2,648.4 L24.8,648.4 L25.4,648.5 L26.0,648.5 L26.6,648.7 L27.2,648.6 L27.8,648.8 L28.4,648.6 L29.0,648.5 L29.6,648.6 L30.2,648.8 L30.8,648.4 L31.4,648.4 L32.0,648.5 L32.6,648.8 L33.2,648.5 L33.8,648.7 L34.4,648.6 L35.0,648.5 L35.6,648.5 L36.2,648.7 L36.8,648.6 L37.4,648.7 L38.0,648.6 L38.6,648.7 L39.2,648.7 L39.8,648.5 L40.4,648.6 L41.0,648.6 L41.6,648.6 L42.2,648.5 L42.8,648.5 L43.4,648.7 L44.0,648.8 L44.6,648.6 L45.2,648.5 L45.8,648.5 L46.4,648.5 L47.0,648.4 L47.6,648.6 L48.2,648.7 L48.8,648.5 L49.4,648.7 L50.0,648.7 L50.6,648.6 L51.2,648.6 L51.8,648.5 L52.4,648.6 L53.0,648.4 L53.6,648.7 L54.2,648.5 L54.8,648.6 L55.4,648.5 L56.0,648.7 L56.6,648.5 L57.2,648.9 L57.8,648.7 L58.4,648.4 L59.0,648.6 L59.6,648.6 L60.2,648.5 L60.8,648.4 L61.4,648.7 L62.0,648.6 L62.6,648.6 L63.2,648.5 L63.8,648.7 L64.4,648.8 L65.0,648.7 L65.6,648.5 L66.2,648.6 L66.8,648.5 L67.4,648.8 L68.0,648.7 L68.6,648.7 L69.2,648.5 L69.8,648.6 L70.4,648.6 L71.0,648.7 L71.6,648.6 L72.2,648.6 L72.8,648.5 L73.4,648.4 L74.0,648.6 L74.6,648.7 L75.2,648.4 L75.8,648.5 L76.4,648.5 L77.0,648.6 L77.6,648.6 L78.2,648.6 L78.3,648.6 L78.5,648.6 L78.7,648.6 L78.8,648.6 L78.9,648.6 L79.1,648.7 L79.3,648.7 L79.4,648.7 L79.5,648.7 L79.7,648.7 L79.9,648.6 L80.0,648.6 L80.1,648.5 L80.3,648.2 L80.5,647.8 L80.6,647.5 L80.7,647.0 L80.9,646.0 L81.1,644.6 L81.2,644.0 L81.3,643.0 L81.5,641.5 L81.7,640.4 L81.8,640.2 L81.9,640.0 L82.1,640.5 L82.3,641.1 L82.4,641.3 L82.5,641.8 L82.7,642.6 L82.9,643.4 L83.0,643.7 L83.1,644.1 L83.3,644.7 L83.5,645.3 L83.6,645.4 L83.7,645.7 L83.9,646.1 L84.1,646.5 L84.2,646.6 L84.3,646.7 L84.5,646.9 L84.7,647.1 L84.8,647.1 L84.9,647.2 L85.1,647.4 L85.3,647.5 L85.4,647.5 L85.5,647.6 L85.7,647.6 L85.9,647.6 L86.0,647.6 L86.1,647.7 L86.3,647.8 L86.5,648.0 L86.6,648.0 L86.7,648.1 L86.9,648.1 L87.1,648.1 L87.2,648.2 L87.3,648.2 L87.5,648.3 L87.7,648.4 L87.8,648.4 L87.9,648.3 L88.1,648.3 L88.3,648.2 L88.4,648.1 L88.5,648.2 L88.7,648.3 L88.9,648.4 L89.0,648.4 L89.1,648.4 L89.3,648.4 L89.5,648.4 L89.6,648.5 L89.7,648.5 L89.9,648.5 L90.1,648.5 L90.2,648.5 L90.3,648.5 L90.5,648.5 L90.7,648.5 L90.8,648.5 L90.9,648.5 L91.1,648.5 L91.3,648.6 L91.4,648.6 L91.5,648.5 L91.7,648.5 L91.9,648.4 L92.0,648.4 L92.1,648.5 L92.3,648.5 L92.5,648.6 L92.6,648.6 L92.7,648.6 L92.9,648.6 L93.1,648.6 L93.2,648.6 L93.3,648.6 L93.5,648.6 L93.7,648.6 L93.8,648.6 L93.9,648.6 L94.1,648.6 L94.3,648.5 L94.4,648.5 L94.5,648.5 L94.7,648.5 L94.9,648.5 L95.0,648.6 L95.1,648.5 L95.3,648.5 L95.5,648.5 L95.6,648.5 L95.7,648.5 L95.9,648.5 L96.1,648.5 L96.2,648.5 L96.3,648.5 L96.5,648.5 L96.7,648.5 L96.8,648.5 L96.9,648.5 L97.4,648.6 L98.0,648.5 L98.6,648.5 L99.2,648.6 L99.8,648.8 L100.4,648.6 L101.0,648.7 L101.6,648.8 L102.2,648.5 L102.8,648.5 L103.4,648.5 L104.0,648.5 L104.6,648.5 L105.2,648.8 L105.8,648.5 L106.4,648.8 L107.0,648.6 L107.6,648.6 L108.2,648.5 L108.8,648.5 L109.4,648.5 L110.0,648.7 L110.6,648.7 L111.2,648.7 L111.8,648.6 L112.4,648.6 L113.0,648.8 L113.6,648.5 L114.2,648.7 L114.8,648.6 L115.4,648.7 L116.0,648.7 L116.6,648.5 L117.2,648.7 L117.8,648.7 L118.4,648.7 L119.0,648.7 L119.6,648.8 L120.2,648.5 L120.8,648.5 L121.4,648.7 L122.0,648.4 L122.6,648.4 L123.2,648.7 L123.8,648.6 L124.4,648.6 L125.0,648.5 L125.6,648.9 L126.2,648.5 L126.8,648.6 L127.4,648.6 L128.0,648.5 L128.6,648.8 L129.2,648.6 L129.8,648.6 L130.4,648.5 L131.0,648.5 L131.6,648.5 L132.2,648.7 L132.8,648.5 L133.4,648.7 L134.0,648.5 L134.6,648.6 L135.2,648.6 L135.8,648.6 L136.4,648.8 L137.0,648.6 L137.6,648.7 L138.2,648.5 L138.8,648.5 L139.4,648.7 L140.0,648.8 L140.6,648.6 L141.2,648.7 L141.8,648.7 L142.4,648.4 L143.0,648.6 L143.6,648.7 L144.2,648.6 L144.8,648.6 L145.4,648.4 L146.0,648.6 L146.6,648.7 L147.2,648.6 L147.8,648.4 L148.4,648.8 L149.0,648.6 L149.6,648.5 L150.2,648.6 L150.8,648.6 L151.4,648.7 L152.0,648.6 L152.6,648.5 L153.2,648.6 L153.8,648.5 L154.4,648.6 L155.0,648.5 L155.6,648.6 L156.2,648.5 L156.8,648.6 L157.4,648.4 L158.0,648.5 L158.6,648.5 L159.2,648.7 L159.8,648.6 L160.4,648.9 L161.0,648.6 L161.6,648.6 L162.2,648.7 L162.8,648.6 L163.4,648.5 L164.0,648.4 L164.6,648.6 L165.2,648.8 L165.8,648.8 L166.4,648.6 L167.0,648.5 L167.6,648.5 L168.2,648.6 L168.8,648.7 L169.4,648.7 L170.0,648.6 L170.6,648.6 L171.2,648.5 L171.8,648.6 L172.4,648.4 L173.0,648.6 L173.6,648.6 L174.2,648.5 L174.8,648.5 L175.4,648.7 L176.0,648.8 L176.6,648.7 L177.2,648.6 L177.8,648.5 L178.4,648.6 L179.0,648.5 L179.6,648.5 L180.2,648.7 L180.8,648.3 L181.4,648.3 L182.0,648.5 L182.6,648.6 L183.2,648.6 L183.8,648.7 L184.4,648.6 L185.0,648.7 L185.6,648.6 L186.2,648.6 L186.8,648.4 L187.4,648.7 L188.0,648.6 L188.6,648.6 L189.2,648.4 L189.8,648.5 L190.4,648.7 L191.0,648.7 L191.6,648.6 L192.2,648.7 L192.8,648.6 L193.4,648.6 L194.0,648.7 L194.6,648.6 L195.2,648.6 L195.8,648.6 L196.4,648.6 L197.0,648.6 L197.6,648.6 L198.2,648.5 L198.8,648.7 L199.4,648.6 L200.0,648.6 L200.6,648.6 L201.2,648.5 L201.8,648.5 L202.4,648.5 L203.0,648.5 L203.6,648.5 L204.2,648.6 L204.8,648.5 L205.4,648.5 L206.0,648.5 L206.6,648.6 L207.2,648.6 L207.8,648.8 L208.4,648.7 L209.0,648.6 L209.6,648.5 L210.2,648.5 L210.8,648.6 L211.4,648.7 L212.0,648.5 L212.6,648.5 L213.2,648.5 L213.8,648.7 L214.4,648.7 L215.0,648.7 L215.6,648.7 L216.2,648.5 L216.8,648.6 L217.4,648.4 L218.0,648.4 L218.6,648.5 L219.2,648.7 L219.8,648.5 L220.4,648.6 L221.0,648.7 L221.6,648.7 L222.2,648.7 L222.8,648.5 L223.4,648.6 L224.0,648.7 L224.6,648.6 L225.2,648.5 L225.8,648.7 L226.4,648.4 L227.0,648.7 L227.6,648.5 L228.2,648.5 L228.8,648.7 L229.4,648.6 L230.0,648.6 L230.6,648.6 L231.2,648.5 L231.8,648.6 L232.4,648.8 L233.0,648.6 L233.6,648.7 L234.2,648.6 L234.8,648.6 L235.4,648.6 L236.0,648.5 L236.6,648.6 L237.2,648.6 L237.8,648.4 L238.4,648.5 L239.0,648.6 L239.6,648.6 L240.2,648.6 L240.8,648.6 L241.4,648.7 L242.0,648.4 L242.6,648.5 L243.2,648.8 L243.8,648.7 L244.4,648.6 L245.0,648.7 L245.6,648.8 L246.2,648.5 L246.8,648.7 L247.4,648.5 L248.0,648.6 L248.6,648.5 L249.2,648.7 L249.8,648.4 L250.4,648.7 L251.0,648.5 L251.6,648.5 L252.2,648.6 L252.8,648.7 L253.4,648.4 L254.0,648.5 L254.6,648.8 L255.2,648.9 L255.8,648.7 L256.4,648.7 L257.0,648.5 L257.6,648.6 L258.2,648.6 L258.8,648.6 L259.4,648.5 L260.0,648.7 L260.6,648.7 L261.2,648.8 L261.8,648.5 L262.4,648.7 L263.0,648.8 L263.6,648.7 L264.2,648.6 L264.8,648.5 L265.4,648.8 L266.0,648.6 L266.6,648.5 L267.2,648.6 L267.8,648.5 L268.4,648.4 L269.0,648.7 L269.6,648.7 L270.2,648.5 L270.8,648.4 L271.4,648.6 L272.0,648.6 L272.6,648.7 L273.2,648.5 L273.8,648.6 L274.4,648.7 L275.0,648.6 L275.6,648.7 L276.2,648.5 L276.8,648.6 L277.4,648.5 L278.0,648.5 L278.6,648.6 L279.2,648.5 L279.8,648.5 L280.4,648.4 L281.0,648.6 L281.6,648.5 L282.2,648.4 L282.8,648.5 L283.4,648.6 L284.0,648.6 L284.6,648.4 L285.2,648.6 L285.8,648.7 L286.4,648.5 L287.0,648.6 L287.6,648.7 L288.2,648.7 L288.8,648.6 L289.4,648.7 L290.0,648.4 L290.6,648.6 L291.2,648.7 L291.8,648.7 L292.4,648.7 L293.0,648.5 L293.6,648.7 L294.2,648.4 L294.8,648.5 L295.4,648.4 L296.0,648.6 L296.6,648.5 L297.2,648.8 L297.8,648.6 L298.4,648.7 L299.0,648.5 L299.6,648.6 L300.2,648.5 L300.8,648.7 L301.4,648.7 L302.0,648.6 L302.6,648.5 L303.2,648.6 L303.8,648.4 L304.4,648.6 L305.0,648.6 L305.6,648.6 L306.2,648.6 L306.8,648.7 L307.4,648.6 L308.0,648.7 L308.6,648.7 L309.2,648.4 L309.8,648.5 L310.4,648.6 L311.0,648.6 L311.6,648.7 L312.2,648.5 L312.8,648.7 L313.4,648.4 L314.0,648.8 L314.6,648.6 L315.2,648.5 L315.8,648.6 L316.4,648.4 L317.0,648.5 L317.6,648.5 L318.2,648.7 L318.8,648.5 L319.4,648.5 L320.0,648.6 L320.6,648.4 L321.2,648.6 L321.8,648.8 L322.4,648.6 L323.0,648.4 L323.6,648.6 L324.2,648.5 L324.8,648.7 L325.4,648.6 L326.0,648.9 L326.6,648.8 L327.2,648.6 L327.8,648.6 L328.4,648.8 L329.0,648.5 L329.6,648.6 L330.2,648.7 L330.8,648.8 L331.4,648.5 L332.0,648.6 L332.6,648.5 L333.2,648.5 L333.8,648.6 L334.4,648.6 L335.0,648.5 L335.6,648.6 L336.2,648.8 L336.8,648.5 L337.4,648.6 L338.0,648.7 L338.6,648.5 L339.2,648.6 L339.8,648.6 L340.4,648.5 L341.0,648.7 L341.6,648.8 L342.2,648.6 L342.8,648.7 L343.4,648.5 L344.0,648.7 L344.6,648.8 L345.2,648.6 L345.8,648.8 L346.4,648.5 L347.0,648.6 L347.6,648.5 L348.2,648.5 L348.8,648.6 L349.4,648.7 L350.0,648.5 L350.6,648.6 L351.2,648.7 L351.8,648.8 L352.4,648.5 L353.0,648.6 L353.6,648.6 L354.2,648.8 L354.8,648.5 L355.4,648.6 L356.0,648.5 L356.6,648.6 L357.2,648.7 L357.8,648.5 L358.4,648.8 L359.0,648.8 L359.6,648.6 L360.2,648.5 L360.8,648.5 L361.4,648.6 L362.0,648.6 L362.6,648.6 L363.2,648.6 L363.8,648.6 L364.4,648.5 L365.0,648.6 L365.6,648.6 L366.2,648.5 L366.8,648.6 L367.4,648.6 L368.0,648.5 L368.6,648.6 L369.2,648.5 L369.8,648.7 L370.4,648.7 L371.0,648.7 L371.6,648.5 L372.2,648.5 L372.8,648.5 L373.4,648.6 L374.0,648.6 L374.6,648.6 L375.2,648.5 L375.8,648.6 L376.4,648.7 L377.0,648.5 L377.6,648.5 L378.2,648.5 L378.8,648.6 L379.4,648.6 L380.0,648.6 L380.6,648.6 L381.2,648.7 L381.8,648.6 L382.4,648.7 L383.0,648.5 L383.6,648.7 L384.2,648.7 L384.8,648.7 L385.4,648.6 L386.0,648.7 L386.6,648.4 L387.2,648.5 L387.8,648.8 L388.4,648.6 L389.0,648.6 L389.6,648.7 L390.2,648.6 L390.8,648.6 L391.4,648.7 L392.0,648.6 L392.6,648.6 L393.2,648.7 L393.8,648.6 L394.4,648.7 L395.0,648.5 L395.6,648.7 L396.2,648.5 L396.8,648.4 L397.4,648.4 L398.0,648.6 L398.6,648.6 L399.2,648.6 L399.8,648.6 L400.4,648.7 L401.0,648.7 L401.6,648.6 L402.2,648.7 L402.8,648.5 L403.4,648.5 L404.0,648.6 L404.6,648.6 L405.2,648.6 L405.8,648.5 L406.4,648.6 L407.0,648.6 L407.6,648.4 L408.2,648.6 L408.8,648.6 L409.4,648.6 L410.0,648.5 L410.6,648.6 L411.2,648.6 L411.8,648.5 L412.4,648.5 L413.0,648.5 L413.6,648.7 L414.2,648.6 L414.8,648.7 L415.4,648.6 L416.0,648.8 L416.6,648.6 L417.2,648.5 L417.8,648.6 L418.4,648.8 L419.0,648.5 L419.6,648.6 L420.2,648.6 L420.8,648.6 L421.4,648.6 L422.0,648.5 L422.6,648.6 L423.2,648.8 L423.8,648.7 L424.4,648.4 L425.0,648.5 L425.6,648.5 L426.2,648.7 L426.8,648.5 L427.4,648.5 L428.0,648.6 L428.6,648.5 L429.2,648.5 L429.8,648.5 L430.4,648.6 L431.0,648.6 L431.6,648.7 L432.2,648.6 L432.8,648.5 L433.4,648.4 L434.0,648.6 L434.6,648.5 L435.2,648.6 L435.8,648.7 L436.4,648.6 L437.0,648.6 L437.6,648.7 L438.2,648.7 L438.8,648.6 L439.4,648.6 L440.0,648.5 L440.6,648.7 L441.2,648.5 L441.8,648.7 L442.4,648.6 L443.0,648.8 L443.6,648.5 L444.2,648.6 L444.8,648.4 L445.4,648.8 L446.0,648.8 L446.6,648.5 L447.2,648.5 L447.8,648.8 L448.4,648.5 L449.0,648.5 L449.6,648.5 L450.2,648.6 L450.8,648.7 L451.4,648.8 L452.0,648.4 L452.6,648.6 L453.2,648.5 L453.8,648.6 L454.4,648.6 L455.0,648.6 L455.6,648.7 L456.2,648.6 L456.8,648.7 L457.4,648.6 L458.0,648.5 L458.6,648.6" fill="none" stroke="#6c6c6c" stroke-width="0.85" stroke-linejoin="round" stroke-linecap="butt"/>
<path d="M3.2,648.8 L3.8,649.1 L4.4,648.5 L5.0,648.5 L5.6,648.9 L6.2,648.5 L6.8,649.0 L7.4,648.8 L8.0,648.9 L8.6,648.8 L9.2,648.8 L9.8,648.5 L10.4,648.9 L11.0,648.7 L11.6,648.8 L12.2,648.7 L12.8,649.0 L13.4,648.8 L14.0,648.5 L14.6,648.6 L15.2,649.0 L15.8,648.9 L16.4,649.0 L17.0,648.9 L17.6,648.9 L18.2,649.0 L18.8,648.7 L19.4,648.6 L20.0,648.8 L20.6,648.9 L21.2,648.8 L21.8,648.9 L22.4,648.6 L23.0,648.3 L23.6,649.3 L24.2,648.7 L24.8,648.8 L25.4,648.8 L26.0,648.9 L26.6,649.1 L27.2,648.8 L27.8,648.9 L28.4,648.8 L29.0,648.8 L29.6,648.9 L30.2,648.3 L30.8,649.0 L31.4,648.9 L32.0,649.0 L32.6,648.8 L33.2,648.5 L33.8,648.8 L34.4,649.0 L35.0,649.1 L35.6,648.7 L36.2,648.9 L36.8,648.7 L37.4,648.9 L38.0,648.9 L38.6,648.8 L39.2,649.1 L39.8,648.6 L40.4,649.0 L41.0,648.8 L41.6,648.7 L42.2,648.3 L42.8,648.7 L43.4,648.6 L44.0,648.9 L44.6,648.8 L45.2,648.8 L45.8,648.6 L46.4,649.0 L47.0,648.7 L47.6,648.2 L48.2,649.0 L48.8,649.2 L49.4,648.9 L50.0,648.8 L50.6,648.5 L51.2,648.7 L51.8,648.6 L52.4,648.9 L53.0,648.8 L53.6,648.7 L54.2,649.0 L54.8,648.7 L55.4,648.9 L56.0,648.8 L56.6,649.1 L57.2,649.2 L57.8,648.5 L58.4,648.8 L59.0,648.8 L59.6,648.3 L60.2,648.6 L60.8,648.7 L61.4,648.9 L62.0,648.7 L62.6,648.7 L63.2,648.8 L63.8,648.5 L64.4,648.6 L65.0,648.7 L65.6,649.0 L66.2,648.9 L66.8,648.6 L67.4,648.7 L68.0,648.9 L68.6,648.7 L69.2,648.8 L69.8,648.9 L70.4,648.8 L71.0,648.6 L71.6,648.7 L72.2,649.0 L72.8,648.9 L73.4,648.7 L74.0,649.0 L74.6,648.8 L75.2,648.8 L75.8,649.0 L76.4,649.3 L77.0,649.0 L77.6,648.8 L78.2,648.8 L78.8,648.5 L79.4,648.8 L80.0,648.8 L80.6,648.7 L81.2,648.9 L81.8,648.5 L82.4,648.9 L83.0,649.0 L83.6,648.9 L84.2,648.6 L84.8,648.9 L85.4,648.9 L86.0,648.7 L86.6,648.6 L87.2,648.9 L87.8,648.7 L88.4,648.9 L89.0,648.5 L89.6,649.0 L90.2,648.8 L90.8,648.9 L91.4,649.0 L92.0,648.8 L92.6,648.7 L93.2,649.0 L93.8,648.4 L94.4,648.7 L95.0,648.7 L95.6,648.9 L96.2,648.8 L96.8,648.6 L97.4,649.0 L98.0,648.9 L98.6,649.0 L99.2,649.1 L99.8,648.7 L100.4,649.0 L101.0,648.5 L101.6,649.0 L102.2,648.9 L102.8,648.8 L103.4,649.0 L104.0,649.2 L104.6,648.9 L105.2,648.8 L105.8,649.0 L106.4,648.7 L107.0,649.2 L107.6,648.7 L108.2,648.4 L108.8,648.6 L109.4,648.6 L110.0,648.9 L110.6,648.9 L111.2,648.6 L111.8,648.9 L112.4,648.7 L113.0,649.0 L113.6,648.7 L114.2,648.8 L114.8,649.2 L115.4,648.8 L116.0,648.7 L116.6,648.7 L117.2,648.7 L117.8,648.5 L118.4,648.8 L119.0,649.0 L119.6,648.6 L120.2,648.4 L120.8,648.9 L121.4,648.5 L122.0,648.8 L122.6,649.1 L123.2,649.0 L123.8,649.0 L124.4,648.6 L125.0,648.8 L125.6,648.9 L126.2,648.8 L126.8,648.5 L127.4,648.8 L128.0,648.9 L128.6,648.7 L129.2,649.0 L129.8,648.7 L130.4,648.6 L131.0,648.8 L131.6,648.9 L132.2,648.8 L132.8,649.1 L133.4,648.5 L134.0,648.3 L134.6,648.8 L135.2,649.2 L135.8,648.9 L136.4,649.1 L137.0,649.2 L137.6,648.8 L138.2,648.8 L138.8,648.9 L139.4,648.6 L140.0,648.8 L140.6,649.0 L141.2,648.7 L141.8,649.1 L142.4,648.9 L143.0,649.0 L143.6,648.7 L144.2,648.9 L144.8,648.9 L145.4,648.7 L146.0,648.7 L146.6,648.8 L147.2,648.6 L147.8,649.0 L148.4,648.7 L149.0,648.5 L149.6,648.8 L150.2,649.2 L150.8,648.6 L151.4,648.8 L152.0,648.7 L152.6,648.7 L153.2,648.7 L153.8,648.6 L154.4,648.8 L155.0,648.6 L155.6,649.1 L156.2,649.0 L156.8,648.8 L157.4,648.5 L158.0,649.0 L158.6,648.9 L159.2,648.7 L159.8,648.9 L160.4,649.1 L161.0,649.2 L161.6,648.6 L162.2,649.0 L162.8,648.7 L163.4,648.7 L164.0,649.0 L164.6,648.7 L165.2,649.2 L165.8,648.8 L166.4,649.0 L167.0,648.8 L167.6,648.8 L168.2,648.8 L168.8,648.7 L169.4,648.9 L170.0,649.1 L170.6,649.0 L171.2,648.6 L171.8,649.0 L172.4,648.9 L173.0,648.7 L173.6,648.8 L174.2,649.0 L174.8,649.2 L175.4,648.6 L176.0,648.9 L176.6,649.1 L177.2,648.9 L177.8,648.8 L178.4,649.2 L179.0,648.8 L179.6,648.8 L180.2,648.7 L180.8,648.8 L181.4,649.0 L182.0,649.1 L182.6,648.8 L183.2,648.9 L183.8,648.5 L184.4,648.8 L185.0,648.7 L185.6,648.8 L186.2,649.1 L186.8,648.6 L187.4,648.9 L188.0,649.1 L188.6,648.7 L189.2,648.5 L189.8,648.8 L190.4,648.8 L191.0,648.9 L191.6,648.9 L192.2,648.6 L192.8,648.8 L193.4,648.7 L194.0,648.7 L194.6,649.4 L195.2,648.7 L195.8,648.7 L196.4,648.7 L197.0,649.1 L197.6,648.9 L198.2,648.6 L198.8,648.7 L199.4,648.7 L200.0,649.0 L200.6,648.7 L201.2,648.5 L201.8,648.8 L202.4,648.5 L203.0,648.6 L203.6,648.6 L204.2,648.9 L204.8,648.9 L205.4,648.9 L206.0,648.5 L206.6,648.5 L207.2,649.0 L207.8,649.0 L208.4,648.7 L209.0,648.5 L209.6,648.7 L210.2,648.6 L210.8,648.7 L211.4,648.6 L212.0,648.8 L212.6,648.7 L213.2,648.6 L213.8,648.8 L214.4,648.4 L215.0,649.0 L215.6,648.8 L216.2,648.9 L216.8,648.5 L217.4,648.5 L218.0,648.9 L218.6,648.7 L219.2,648.8 L219.8,649.0 L220.4,648.9 L221.0,648.7 L221.6,648.6 L222.2,648.9 L222.8,648.7 L223.4,648.6 L224.0,648.5 L224.6,648.7 L225.2,648.9 L225.8,649.1 L226.4,648.7 L227.0,648.8 L227.6,648.9 L228.2,648.9 L228.8,648.9 L229.4,648.7 L229.8,648.6 L230.0,648.6 L230.2,648.7 L230.4,648.8 L230.6,648.9 L230.8,648.7 L231.0,648.5 L231.2,648.3 L231.4,648.2 L231.6,648.0 L231.8,647.8 L232.0,647.7 L232.2,647.4 L232.4,647.2 L232.4,647.1 L232.6,646.1 L232.8,644.5 L233.0,642.6 L233.0,642.2 L233.2,639.4 L233.4,635.1 L233.6,629.4 L233.6,628.3 L233.8,619.4 L234.0,608.4 L234.2,595.2 L234.2,591.9 L234.4,564.4 L234.6,532.2 L234.8,506.1 L234.8,501.9 L235.0,472.7 L235.2,442.6 L235.4,419.5 L235.4,415.9 L235.6,396.9 L235.8,382.7 L236.0,372.6 L236.0,371.0 L236.2,361.5 L236.4,353.1 L236.6,346.5 L236.6,345.6 L236.8,342.5 L237.0,344.1 L237.2,347.4 L237.2,348.1 L237.4,353.5 L237.6,359.4 L237.8,365.2 L237.8,366.4 L238.0,375.4 L238.2,386.0 L238.4,395.9 L238.4,397.7 L238.6,410.9 L238.8,427.0 L239.0,442.3 L239.0,445.1 L239.2,463.6 L239.4,481.6 L239.6,495.5 L239.6,497.8 L239.8,512.1 L240.0,526.0 L240.2,537.2 L240.2,539.1 L240.4,551.4 L240.6,562.6 L240.8,571.0 L240.8,572.3 L241.0,581.4 L241.2,590.2 L241.4,597.2 L241.4,598.4 L241.6,605.5 L241.8,611.4 L242.0,615.1 L242.0,615.6 L242.2,618.4 L242.4,620.8 L242.6,622.7 L242.6,623.1 L242.8,625.2 L243.0,627.1 L243.2,628.6 L243.2,628.8 L243.4,630.3 L243.6,631.7 L243.8,632.7 L243.8,632.9 L244.0,634.0 L244.2,634.9 L244.4,635.6 L244.4,635.7 L244.6,636.3 L244.8,636.9 L245.0,637.3 L245.0,637.4 L245.2,637.9 L245.4,638.4 L245.6,638.8 L245.6,638.9 L245.8,639.5 L246.0,640.0 L246.2,640.5 L246.4,640.8 L246.6,641.0 L246.8,641.2 L246.8,641.3 L247.0,641.6 L247.2,641.9 L247.4,642.1 L247.4,642.2 L247.6,642.5 L247.8,642.8 L248.0,643.0 L248.2,643.1 L248.4,643.2 L248.6,643.3 L248.6,643.4 L248.8,643.6 L249.0,643.8 L249.2,644.0 L249.4,644.2 L249.6,644.4 L249.8,644.6 L250.0,644.6 L250.2,644.6 L250.4,644.6 L250.6,644.7 L250.8,644.7 L251.0,644.8 L251.2,645.1 L251.4,645.4 L251.6,645.7 L251.8,645.7 L252.0,645.7 L252.2,645.7 L252.4,645.8 L252.6,645.8 L252.8,645.8 L253.0,645.9 L253.2,646.0 L253.4,646.1 L253.6,646.1 L253.8,646.2 L254.0,646.2 L254.2,646.2 L254.4,646.3 L254.6,646.3 L254.6,646.4 L254.8,646.6 L255.0,646.9 L255.2,647.1 L255.4,647.0 L255.6,646.9 L255.8,646.8 L256.0,647.0 L256.2,647.2 L256.4,647.4 L256.6,647.4 L256.8,647.4 L257.0,647.4 L257.2,647.5 L257.4,647.5 L257.6,647.6 L257.8,647.5 L258.0,647.5 L258.2,647.4 L258.2,647.5 L258.4,647.6 L258.6,647.8 L258.8,648.0 L259.0,647.9 L259.2,647.8 L259.4,647.7 L259.4,647.8 L259.6,647.9 L259.8,648.1 L260.0,648.2 L260.0,648.1 L260.2,648.0 L260.4,647.8 L260.6,647.6 L260.8,647.8 L261.0,648.0 L261.2,648.2 L261.4,648.2 L261.6,648.2 L261.8,648.2 L262.0,648.3 L262.2,648.4 L262.4,648.5 L262.6,648.4 L262.8,648.4 L263.0,648.4 L263.2,648.3 L263.4,648.2 L263.6,648.1 L263.8,648.2 L264.0,648.3 L264.2,648.4 L264.4,648.5 L264.6,648.6 L264.8,648.7 L265.0,648.7 L265.2,648.6 L265.4,648.6 L265.6,648.6 L265.8,648.6 L266.0,648.6 L266.2,648.5 L266.4,648.4 L266.6,648.3 L266.8,648.4 L267.0,648.6 L267.2,648.7 L267.4,648.6 L267.6,648.6 L267.8,648.6 L268.0,648.5 L268.2,648.5 L268.4,648.5 L268.6,648.4 L268.8,648.3 L269.0,648.2 L269.2,648.4 L269.4,648.5 L269.6,648.6 L269.8,648.7 L270.0,648.8 L270.2,648.9 L270.4,648.9 L270.6,648.9 L270.8,648.9 L271.4,648.4 L272.0,648.6 L272.6,649.1 L273.2,648.8 L273.8,648.8 L274.4,648.8 L275.0,648.6 L275.6,648.6 L276.2,648.4 L276.8,649.1 L277.4,648.6 L278.0,648.7 L278.6,648.9 L279.2,648.5 L279.8,648.9 L280.4,649.0 L281.0,648.4 L281.6,648.6 L282.2,648.5 L282.8,648.4 L283.4,648.9 L284.0,648.4 L284.6,648.7 L285.2,648.6 L285.8,648.5 L286.4,648.6 L287.0,648.8 L287.6,648.7 L288.2,648.6 L288.8,648.5 L289.4,649.1 L290.0,648.4 L290.6,648.9 L291.2,648.2 L291.8,648.6 L292.4,648.3 L293.0,648.7 L293.6,648.3 L294.2,648.6 L294.8,648.6 L295.4,648.6 L296.0,649.2 L296.6,649.0 L297.2,649.0 L297.8,648.6 L298.4,648.7 L299.0,648.5 L299.6,648.6 L300.2,648.4 L300.8,648.8 L301.4,648.6 L302.0,648.8 L302.6,648.9 L303.2,649.0 L303.8,648.7 L304.4,648.8 L305.0,648.8 L305.6,648.8 L306.2,648.9 L306.8,648.1 L307.4,648.6 L308.0,648.9 L308.6,648.7 L309.2,648.6 L309.8,648.9 L310.4,648.4 L311.0,648.8 L311.6,648.5 L312.2,648.7 L312.8,648.8 L313.4,648.0 L314.0,648.8 L314.6,649.0 L315.2,648.8 L315.8,648.9 L316.4,648.4 L317.0,648.6 L317.6,648.9 L318.2,648.3 L318.8,648.7 L319.4,648.9 L320.0,648.4 L320.6,648.5 L321.2,648.8 L321.8,648.9 L322.4,648.7 L323.0,648.8 L323.6,648.5 L324.2,648.6 L324.8,648.9 L325.4,648.9 L326.0,648.7 L326.6,648.4 L327.2,648.8 L327.8,648.5 L328.4,648.8 L329.0,648.6 L329.6,648.8 L330.2,648.6 L330.8,648.8 L331.4,648.8 L332.0,648.3 L332.6,648.5 L333.2,648.9 L333.8,648.4 L334.4,648.7 L335.0,648.4 L335.6,648.9 L336.2,648.7 L336.8,648.7 L337.4,648.8 L338.0,648.9 L338.6,648.2 L339.2,648.6 L339.8,648.7 L340.4,649.0 L341.0,648.4 L341.6,648.4 L342.2,648.7 L342.8,648.9 L343.4,648.5 L344.0,648.6 L344.6,648.9 L345.2,648.2 L345.8,648.5 L346.4,648.8 L347.0,648.8 L347.6,648.5 L348.2,648.4 L348.8,648.5 L349.4,648.5 L350.0,648.7 L350.6,648.2 L351.2,648.7 L351.8,648.6 L352.4,648.5 L353.0,648.7 L353.6,648.4 L354.2,648.3 L354.8,649.0 L355.4,648.6 L356.0,648.3 L356.6,648.3 L357.2,648.7 L357.8,648.5 L358.4,648.6 L359.0,648.6 L359.6,648.7 L360.2,648.4 L360.8,648.4 L361.4,648.3 L362.0,648.5 L362.6,648.6 L363.2,648.4 L363.8,647.9 L364.4,648.6 L365.0,648.6 L365.6,648.2 L366.2,648.8 L366.8,649.1 L367.4,648.4 L368.0,648.3 L368.6,648.3 L369.2,648.4 L369.8,648.4 L370.4,648.7 L371.0,648.4 L371.6,648.8 L372.2,648.9 L372.8,648.6 L373.4,648.8 L374.0,648.8 L374.6,648.7 L375.2,648.7 L375.8,648.5 L376.4,648.8 L377.0,648.7 L377.6,648.6 L378.2,648.5 L378.8,648.5 L379.4,648.4 L380.0,648.5 L380.6,648.5 L381.2,648.4 L381.8,648.6 L382.4,648.5 L383.0,648.8 L383.6,648.5 L384.2,648.4 L384.8,648.7 L385.4,648.3 L386.0,648.7 L386.6,648.3 L387.2,648.2 L387.8,648.5 L388.4,648.6 L389.0,648.5 L389.6,648.6 L390.2,648.7 L390.8,648.4 L391.4,648.9 L392.0,648.4 L392.6,648.7 L393.2,648.4 L393.8,648.7 L394.4,648.2 L395.0,648.7 L395.6,649.0 L396.2,648.0 L396.8,648.5 L397.4,648.6 L398.0,648.6 L398.6,648.6 L399.2,648.5 L399.8,648.7 L400.4,648.1 L401.0,648.7 L401.6,648.4 L402.2,648.3 L402.8,648.6 L403.4,648.4 L404.0,648.7 L404.6,648.7 L405.2,648.7 L405.8,648.3 L406.4,648.3 L407.0,648.7 L407.6,648.3 L408.2,648.7 L408.8,648.5 L409.4,648.4 L410.0,649.0 L410.6,648.4 L411.2,648.6 L411.8,648.8 L412.4,648.4 L413.0,648.5 L413.6,648.5 L414.2,648.6 L414.8,648.7 L415.4,648.8 L416.0,648.6 L416.6,648.7 L417.2,648.6 L417.8,648.5 L418.4,648.4 L419.0,648.5 L419.6,648.5 L420.2,648.6 L420.8,648.3 L421.4,648.3 L422.0,648.6 L422.6,648.6 L423.2,648.7 L423.8,648.6 L424.4,648.6 L425.0,648.1 L425.6,648.3 L426.2,648.8 L426.8,648.4 L427.4,648.6 L428.0,648.9 L428.6,648.5 L429.2,648.7 L429.8,648.5 L430.4,648.4 L431.0,648.7 L431.6,648.2 L432.2,648.5 L432.8,648.7 L433.4,648.8 L434.0,648.1 L434.6,648.7 L435.2,648.5 L435.8,648.5 L436.4,648.3 L437.0,648.8 L437.6,649.0 L438.2,648.5 L438.8,648.8 L439.4,648.6 L440.0,648.1 L440.6,648.6 L441.2,648.4 L441.8,648.7 L442.4,647.9 L443.0,648.6 L443.6,648.4 L444.2,648.5 L444.8,648.6 L445.4,648.3 L446.0,648.6 L446.6,648.7 L447.2,648.6 L447.8,648.6 L448.4,648.5 L449.0,648.5 L449.6,648.7 L450.2,648.6 L450.8,648.1 L451.4,648.6 L452.0,648.2 L452.6,648.6 L453.2,648.4 L453.8,648.6 L454.4,648.9 L455.0,648.6 L455.6,648.3 L456.2,648.3 L456.8,648.3 L457.4,648.6 L458.0,648.6 L458.6,648.8" fill="none" stroke="#c043b3" stroke-width="0.95" stroke-linejoin="round" stroke-linecap="butt"/>
<path d="M3.2,648.7 L3.8,648.6 L4.4,648.6 L5.0,648.5 L5.6,648.6 L6.2,648.6 L6.8,648.7 L7.4,648.7 L8.0,649.0 L8.6,648.6 L9.2,648.6 L9.8,648.8 L10.4,648.4 L11.0,648.4 L11.6,648.3 L12.2,648.6 L12.8,648.7 L13.4,648.6 L14.0,648.5 L14.6,648.4 L15.2,648.8 L15.8,648.6 L16.4,648.9 L17.0,648.7 L17.6,648.5 L18.2,648.5 L18.8,648.2 L19.4,648.5 L20.0,648.7 L20.6,648.7 L21.2,648.6 L21.8,648.4 L22.4,648.8 L23.0,648.8 L23.6,648.6 L24.2,648.7 L24.8,648.5 L25.4,648.7 L26.0,648.6 L26.6,648.6 L27.2,648.6 L27.8,648.4 L28.4,648.8 L29.0,648.9 L29.6,648.8 L30.2,648.7 L30.8,648.6 L31.4,648.5 L32.0,648.6 L32.6,648.6 L33.2,648.9 L33.8,648.7 L34.4,648.5 L35.0,648.8 L35.6,648.7 L36.2,648.7 L36.8,648.5 L37.4,648.7 L38.0,648.9 L38.6,648.7 L39.2,648.7 L39.8,648.5 L40.4,648.7 L41.0,648.6 L41.6,648.7 L42.2,648.7 L42.8,648.3 L43.4,649.0 L44.0,648.5 L44.6,648.7 L45.2,648.6 L45.8,648.8 L46.4,648.6 L47.0,648.7 L47.6,648.5 L48.2,648.4 L48.8,648.8 L49.4,648.9 L50.0,648.4 L50.6,648.3 L51.2,648.6 L51.8,648.9 L52.4,648.9 L53.0,648.5 L53.6,648.3 L54.2,648.6 L54.8,648.8 L55.4,648.4 L56.0,648.8 L56.6,648.7 L57.2,648.7 L57.8,648.7 L58.4,648.5 L59.0,648.8 L59.6,648.6 L60.2,648.4 L60.8,648.4 L61.4,648.4 L62.0,648.7 L62.6,648.9 L63.2,648.6 L63.8,648.6 L64.4,648.6 L65.0,648.7 L65.6,648.5 L66.2,648.8 L66.8,648.5 L67.4,648.3 L68.0,648.6 L68.6,648.6 L69.2,648.5 L69.8,648.5 L70.4,648.5 L71.0,648.6 L71.6,648.7 L72.2,648.4 L72.8,648.8 L73.4,648.4 L74.0,648.7 L74.6,648.5 L75.2,648.8 L75.8,648.8 L76.4,648.8 L77.0,648.8 L77.6,648.4 L78.2,648.7 L78.8,648.7 L79.4,648.8 L80.0,648.6 L80.6,648.6 L81.2,648.5 L81.8,648.7 L82.4,648.8 L83.0,648.6 L83.6,648.5 L84.2,648.5 L84.8,648.8 L85.4,648.7 L86.0,648.6 L86.6,648.7 L87.2,648.8 L87.8,648.6 L88.4,648.7 L89.0,648.6 L89.6,648.5 L90.2,648.7 L90.8,648.8 L91.4,648.7 L92.0,648.5 L92.6,648.6 L93.2,648.5 L93.8,648.7 L94.4,648.5 L95.0,648.7 L95.6,648.7 L96.2,648.6 L96.8,648.6 L97.4,648.6 L98.0,648.6 L98.6,648.5 L99.2,648.7 L99.8,648.9 L100.4,648.5 L101.0,648.3 L101.6,648.4 L102.2,648.8 L102.8,648.5 L103.4,648.4 L104.0,648.5 L104.6,648.3 L105.2,648.5 L105.8,649.0 L106.4,648.5 L107.0,648.7 L107.6,648.8 L108.2,648.9 L108.8,648.8 L109.4,648.7 L110.0,648.4 L110.6,648.4 L111.2,648.5 L111.8,648.4 L112.4,648.7 L113.0,648.7 L113.6,648.3 L114.2,648.5 L114.8,648.7 L115.4,648.5 L116.0,648.7 L116.6,648.4 L117.2,648.8 L117.8,648.7 L118.4,648.6 L119.0,648.6 L119.6,648.8 L120.2,648.5 L120.8,648.5 L121.4,648.6 L122.0,648.5 L122.6,648.7 L123.2,648.5 L123.8,648.7 L124.4,648.8 L125.0,648.6 L125.6,648.6 L126.2,648.6 L126.8,648.5 L127.4,648.3 L128.0,648.8 L128.6,648.9 L129.2,648.6 L129.8,648.4 L130.4,648.4 L131.0,648.6 L131.6,648.6 L132.2,648.6 L132.8,648.3 L133.4,648.6 L134.0,648.6 L134.6,648.8 L135.2,648.5 L135.8,648.6 L136.4,648.6 L137.0,648.6 L137.6,648.6 L138.2,648.2 L138.8,648.5 L139.4,648.5 L140.0,648.7 L140.6,648.8 L141.2,648.9 L141.8,648.7 L142.4,648.6 L143.0,648.6 L143.6,648.8 L144.2,648.5 L144.8,648.7 L145.4,648.4 L146.0,648.6 L146.6,648.6 L147.2,648.7 L147.8,648.7 L148.4,648.6 L149.0,648.5 L149.6,648.5 L150.2,648.7 L150.8,648.8 L151.4,648.5 L152.0,648.4 L152.6,648.7 L153.2,648.7 L153.8,648.7 L154.4,648.5 L155.0,648.4 L155.6,648.7 L156.2,648.5 L156.8,648.4 L157.4,648.5 L158.0,648.7 L158.6,648.8 L159.2,648.6 L159.8,648.4 L160.4,648.5 L161.0,648.4 L161.6,648.6 L162.2,648.6 L162.8,648.7 L163.4,648.5 L164.0,648.6 L164.6,648.7 L165.2,648.7 L165.8,648.5 L166.4,648.5 L167.0,648.5 L167.6,648.2 L168.2,648.5 L168.8,648.7 L169.4,648.4 L170.0,648.7 L170.6,648.8 L171.2,648.5 L171.8,648.7 L172.4,648.6 L173.0,648.7 L173.6,648.6 L174.2,648.9 L174.8,648.5 L175.4,648.4 L176.0,648.6 L176.6,648.4 L177.2,648.5 L177.8,648.4 L178.4,648.4 L179.0,648.8 L179.6,648.5 L180.2,648.6 L180.8,648.5 L181.4,648.6 L182.0,648.3 L182.6,648.3 L183.2,648.6 L183.8,648.5 L184.4,648.5 L185.0,648.5 L185.6,648.4 L186.2,648.7 L186.8,648.8 L187.4,648.4 L188.0,648.5 L188.6,648.7 L189.2,648.7 L189.8,648.8 L190.4,648.6 L191.0,648.8 L191.6,648.6 L192.2,648.5 L192.8,648.7 L193.4,648.4 L194.0,648.5 L194.6,648.6 L195.2,648.7 L195.8,648.7 L196.4,648.7 L197.0,648.9 L197.6,648.6 L198.2,648.5 L198.8,648.8 L199.4,648.5 L200.0,648.6 L200.6,648.6 L201.2,648.5 L201.8,648.5 L202.4,648.7 L203.0,648.5 L203.6,648.7 L204.2,649.0 L204.8,648.3 L205.4,648.6 L206.0,648.6 L206.6,648.4 L207.2,648.5 L207.8,648.7 L208.4,648.6 L209.0,648.5 L209.6,648.6 L210.2,649.0 L210.8,648.6 L211.4,648.7 L212.0,648.8 L212.6,648.6 L213.2,648.3 L213.8,648.8 L214.4,648.6 L215.0,648.8 L215.6,648.8 L216.2,648.7 L216.8,648.5 L217.4,648.6 L218.0,648.6 L218.6,648.4 L219.2,648.5 L219.8,648.7 L220.4,648.7 L221.0,648.6 L221.6,648.5 L222.2,648.6 L222.8,648.6 L223.4,648.7 L224.0,648.7 L224.6,648.8 L225.2,648.7 L225.8,648.3 L226.4,648.4 L227.0,648.4 L227.6,648.6 L228.2,648.6 L228.8,648.5 L229.4,648.7 L230.0,648.4 L230.6,648.6 L230.9,648.5 L231.2,648.5 L231.3,648.5 L231.6,648.6 L231.8,648.7 L231.9,648.6 L232.2,648.5 L232.3,648.3 L232.4,648.3 L232.6,648.4 L232.8,648.4 L232.9,648.5 L233.0,648.5 L233.2,648.5 L233.3,648.4 L233.6,648.3 L233.6,648.2 L233.8,648.2 L233.9,648.1 L234.2,647.9 L234.3,647.6 L234.6,647.1 L234.8,646.6 L234.8,646.5 L234.9,645.9 L235.2,645.1 L235.3,644.2 L235.4,644.1 L235.6,643.4 L235.8,642.7 L235.9,642.0 L236.0,642.0 L236.2,641.2 L236.3,640.5 L236.6,640.0 L236.8,640.0 L236.9,640.4 L237.2,640.8 L237.2,640.9 L237.3,641.2 L237.6,641.5 L237.8,641.9 L237.8,642.0 L237.9,642.5 L238.2,643.1 L238.3,643.8 L238.4,643.8 L238.6,644.3 L238.8,644.7 L238.9,645.2 L239.0,645.2 L239.2,645.6 L239.3,646.0 L239.6,646.3 L239.6,646.4 L239.8,646.6 L239.9,646.8 L240.2,647.0 L240.3,647.3 L240.6,647.5 L240.8,647.8 L240.9,647.8 L241.2,647.9 L241.3,647.9 L241.4,647.9 L241.6,647.9 L241.8,648.0 L241.9,648.1 L242.0,648.1 L242.2,648.1 L242.3,648.1 L242.6,648.1 L242.8,648.2 L242.9,648.3 L243.2,648.4 L243.3,648.4 L243.6,648.4 L243.8,648.4 L243.9,648.4 L244.2,648.5 L244.3,648.5 L244.4,648.5 L244.6,648.5 L244.8,648.5 L244.9,648.5 L245.0,648.5 L245.2,648.5 L245.3,648.4 L245.6,648.3 L245.8,648.3 L245.9,648.3 L246.2,648.3 L246.3,648.4 L246.6,648.5 L246.8,648.7 L246.9,648.6 L247.2,648.6 L247.3,648.6 L247.4,648.6 L247.6,648.6 L247.8,648.6 L247.9,648.6 L248.0,648.6 L248.2,648.6 L248.3,648.7 L248.6,648.7 L248.8,648.7 L248.9,648.7 L249.2,648.6 L249.3,648.7 L249.6,648.7 L249.8,648.7 L249.9,648.7 L250.2,648.6 L250.3,648.5 L250.4,648.5 L250.6,648.6 L250.8,648.6 L250.9,648.7 L251.0,648.7 L251.2,648.6 L251.3,648.5 L251.6,648.4 L251.8,648.5 L251.9,648.7 L252.2,648.9 L252.3,648.8 L252.6,648.6 L252.8,648.5 L252.9,648.5 L253.2,648.5 L253.3,648.5 L253.4,648.5 L253.6,648.6 L253.8,648.6 L253.9,648.7 L254.0,648.7 L254.2,648.7 L254.3,648.8 L254.6,648.9 L255.2,648.6 L255.8,648.8 L256.4,648.4 L257.0,648.6 L257.6,648.6 L258.2,648.6 L258.8,648.5 L259.4,648.6 L260.0,648.5 L260.6,648.5 L261.2,648.7 L261.8,648.4 L262.4,648.4 L263.0,648.4 L263.6,648.6 L264.2,648.5 L264.8,648.8 L265.4,648.7 L266.0,648.7 L266.6,648.7 L267.2,648.5 L267.8,648.7 L268.4,648.7 L269.0,648.8 L269.6,648.7 L270.2,648.9 L270.8,648.5 L271.4,648.6 L272.0,648.5 L272.6,648.4 L273.2,648.5 L273.8,648.6 L274.4,648.6 L275.0,648.7 L275.6,648.9 L276.2,648.6 L276.8,648.7 L277.4,648.8 L278.0,648.7 L278.6,648.6 L279.2,648.5 L279.8,648.8 L280.4,648.8 L281.0,648.4 L281.6,648.5 L282.2,648.5 L282.8,648.6 L283.4,648.8 L284.0,648.4 L284.6,648.4 L285.2,648.7 L285.8,648.5 L286.4,648.4 L287.0,648.2 L287.6,648.4 L288.2,648.5 L288.8,648.6 L289.4,648.7 L290.0,648.6 L290.6,648.7 L291.2,648.5 L291.8,648.6 L292.4,648.6 L293.0,648.8 L293.6,648.6 L294.2,648.7 L294.8,648.5 L295.4,648.7 L296.0,648.5 L296.6,648.6 L297.2,648.3 L297.8,648.7 L298.4,648.3 L299.0,648.2 L299.6,648.6 L300.2,648.3 L300.8,648.4 L301.4,648.8 L302.0,648.7 L302.6,648.4 L303.2,648.5 L303.8,648.5 L304.4,648.5 L305.0,648.4 L305.6,648.6 L306.2,648.7 L306.8,648.7 L307.4,648.6 L308.0,648.7 L308.6,648.6 L309.2,648.6 L309.8,648.6 L310.4,648.6 L311.0,648.6 L311.6,648.4 L312.2,648.6 L312.8,648.5 L313.4,648.8 L314.0,648.6 L314.6,648.7 L315.2,648.9 L315.8,648.3 L316.4,648.8 L317.0,648.5 L317.6,648.5 L318.2,648.4 L318.8,648.7 L319.4,649.0 L320.0,648.5 L320.6,648.6 L321.2,648.5 L321.8,648.6 L322.4,648.4 L323.0,648.5 L323.6,648.6 L324.2,648.2 L324.8,648.7 L325.4,648.9 L326.0,648.6 L326.6,648.5 L327.2,648.5 L327.8,648.7 L328.4,648.6 L329.0,648.7 L329.6,648.6 L330.2,648.5 L330.8,648.7 L331.4,648.5 L332.0,648.6 L332.6,648.6 L333.2,648.6 L333.8,648.4 L334.4,648.6 L335.0,648.7 L335.6,648.6 L336.2,648.4 L336.8,648.5 L337.4,648.7 L338.0,648.7 L338.6,648.7 L339.2,648.4 L339.8,648.6 L340.4,648.5 L341.0,648.5 L341.6,648.6 L342.2,648.4 L342.8,648.6 L343.4,648.5 L344.0,648.9 L344.6,648.6 L345.2,648.7 L345.8,648.7 L346.4,648.6 L347.0,648.8 L347.6,648.6 L348.2,649.0 L348.8,648.6 L349.4,648.7 L350.0,648.3 L350.6,648.6 L351.2,648.5 L351.8,649.0 L352.4,648.7 L353.0,648.8 L353.6,648.4 L354.2,648.5 L354.8,648.6 L355.4,648.6 L356.0,648.6 L356.6,648.6 L357.2,648.5 L357.8,648.5 L358.4,648.6 L359.0,648.7 L359.6,648.4 L360.2,648.7 L360.8,648.7 L361.4,648.2 L362.0,648.6 L362.6,648.6 L363.2,648.8 L363.8,648.8 L364.4,648.4 L365.0,648.6 L365.6,648.4 L366.2,648.8 L366.8,648.5 L367.4,648.6 L368.0,648.7 L368.6,648.9 L369.2,648.4 L369.8,648.6 L370.4,648.6 L371.0,648.5 L371.6,648.7 L372.2,648.4 L372.8,648.5 L373.4,648.5 L374.0,648.5 L374.6,648.7 L375.2,648.6 L375.8,648.5 L376.4,648.7 L377.0,648.4 L377.6,648.5 L378.2,648.4 L378.8,648.8 L379.4,648.3 L380.0,648.7 L380.6,648.7 L381.2,648.6 L381.8,648.4 L382.4,648.5 L383.0,648.5 L383.6,648.4 L384.2,648.4 L384.8,648.4 L385.4,648.4 L386.0,648.5 L386.6,648.5 L387.2,648.8 L387.8,648.6 L388.4,648.9 L389.0,648.6 L389.6,648.6 L390.2,648.7 L390.8,648.7 L391.4,648.4 L392.0,648.6 L392.6,648.6 L393.2,648.3 L393.8,648.5 L394.4,648.4 L395.0,648.5 L395.6,648.5 L396.2,648.4 L396.8,648.6 L397.4,648.5 L398.0,648.7 L398.6,648.7 L399.2,648.5 L399.8,648.7 L400.4,649.0 L401.0,648.6 L401.6,648.4 L402.2,648.7 L402.8,648.5 L403.4,648.7 L404.0,648.8 L404.6,648.6 L405.2,648.9 L405.8,648.4 L406.4,648.7 L407.0,648.5 L407.6,648.6 L408.2,648.8 L408.8,648.7 L409.4,648.4 L410.0,648.5 L410.6,648.7 L411.2,648.7 L411.8,648.6 L412.4,648.8 L413.0,648.6 L413.6,648.8 L414.2,648.7 L414.8,648.5 L415.4,648.6 L416.0,648.7 L416.6,648.6 L417.2,648.6 L417.8,648.6 L418.4,648.4 L419.0,648.6 L419.6,648.9 L420.2,648.5 L420.8,648.7 L421.4,648.4 L422.0,648.5 L422.6,648.6 L423.2,648.5 L423.8,648.8 L424.4,648.9 L425.0,648.7 L425.6,648.5 L426.2,648.4 L426.8,648.7 L427.4,648.7 L428.0,648.7 L428.6,648.7 L429.2,648.6 L429.8,648.8 L430.4,648.5 L431.0,648.8 L431.6,648.3 L432.2,648.6 L432.8,648.6 L433.4,648.9 L434.0,648.6 L434.6,648.9 L435.2,648.5 L435.8,648.7 L436.4,648.6 L437.0,648.5 L437.6,648.5 L438.2,648.4 L438.8,648.4 L439.4,648.5 L440.0,648.7 L440.6,648.8 L441.2,648.5 L441.8,648.6 L442.4,648.7 L443.0,648.6 L443.6,648.5 L444.2,648.5 L444.8,648.7 L445.4,648.8 L446.0,648.9 L446.6,648.7 L447.2,648.6 L447.8,648.8 L448.4,648.4 L449.0,648.3 L449.6,648.7 L450.2,648.5 L450.8,648.6 L451.4,648.5 L452.0,648.6 L452.6,648.6 L453.2,648.5 L453.8,648.5 L454.4,648.7 L455.0,648.5 L455.6,648.7 L456.2,648.6 L456.8,648.5 L457.4,648.5 L458.0,648.8 L458.6,648.5" fill="none" stroke="#7a2d2f" stroke-width="0.9" stroke-linejoin="round" stroke-linecap="butt"/>
<path d="M3.2,649.5 L3.8,649.4 L4.4,648.9 L5.0,649.0 L5.6,649.6 L6.2,648.9 L6.8,649.2 L7.4,649.4 L8.0,649.0 L8.6,649.3 L9.2,649.1 L9.8,649.0 L10.4,648.5 L11.0,648.9 L11.6,649.0 L12.2,649.1 L12.8,649.0 L13.4,649.0 L14.0,649.2 L14.6,649.0 L15.2,649.3 L15.8,649.2 L16.4,649.1 L17.0,648.9 L17.6,648.9 L18.2,649.8 L18.8,648.8 L19.4,649.1 L20.0,649.1 L20.6,648.7 L21.2,649.3 L21.8,649.3 L22.4,649.6 L23.0,649.4 L23.6,648.9 L24.2,649.3 L24.8,649.3 L25.4,649.0 L26.0,649.3 L26.6,649.3 L27.2,649.3 L27.8,649.0 L28.4,649.3 L29.0,649.2 L29.6,649.1 L30.2,649.5 L30.8,649.2 L31.4,649.5 L32.0,649.4 L32.6,649.2 L33.2,649.1 L33.8,649.2 L34.4,648.8 L35.0,649.1 L35.6,649.0 L36.2,649.2 L36.8,649.2 L37.4,648.7 L38.0,649.5 L38.6,648.8 L39.2,649.3 L39.8,648.9 L40.4,649.4 L41.0,649.0 L41.6,649.0 L42.2,649.6 L42.8,649.2 L43.4,648.9 L44.0,648.8 L44.3,648.9 L44.5,649.0 L44.6,649.0 L44.7,649.0 L44.9,649.1 L45.1,649.2 L45.2,649.2 L45.3,649.1 L45.5,648.9 L45.7,648.3 L45.8,647.9 L45.9,646.9 L46.1,643.5 L46.3,636.2 L46.4,632.2 L46.5,622.2 L46.7,599.3 L46.9,566.8 L47.0,553.6 L47.1,527.6 L47.3,488.5 L47.5,459.3 L47.6,453.1 L47.7,448.4 L47.9,461.5 L48.1,473.9 L48.2,478.1 L48.3,485.7 L48.5,496.9 L48.7,507.7 L48.8,511.4 L48.9,518.1 L49.1,528.0 L49.3,537.5 L49.4,540.7 L49.5,546.4 L49.7,554.9 L49.9,562.9 L50.0,565.5 L50.1,570.4 L50.3,577.5 L50.5,584.0 L50.6,586.2 L50.7,590.0 L50.9,595.5 L51.1,600.6 L51.2,602.2 L51.3,605.1 L51.5,609.1 L51.7,612.8 L51.8,614.0 L51.9,616.3 L52.1,619.7 L52.3,622.7 L52.4,623.7 L52.5,625.3 L52.7,627.4 L52.9,629.3 L53.0,629.9 L53.1,631.1 L53.3,632.7 L53.5,634.2 L53.6,634.7 L53.7,635.5 L53.9,636.6 L54.1,637.6 L54.2,637.9 L54.3,638.5 L54.5,639.4 L54.7,640.2 L54.8,640.4 L54.9,640.9 L55.1,641.7 L55.3,642.4 L55.4,642.6 L55.5,642.9 L55.7,643.4 L55.9,643.8 L56.0,643.9 L56.1,644.1 L56.3,644.5 L56.5,644.9 L56.6,645.0 L56.7,645.2 L56.9,645.6 L57.1,645.9 L57.2,646.0 L57.3,646.1 L57.5,646.3 L57.7,646.5 L57.8,646.5 L57.9,646.6 L58.1,646.7 L58.3,646.8 L58.4,646.8 L58.5,647.0 L58.7,647.2 L58.9,647.4 L59.0,647.4 L59.1,647.5 L59.3,647.7 L59.5,647.9 L59.6,647.9 L59.7,648.0 L59.9,648.0 L60.1,648.1 L60.2,648.1 L60.3,648.0 L60.5,648.0 L60.7,647.9 L60.8,647.9 L60.9,648.0 L61.1,648.3 L61.3,648.5 L61.4,648.6 L61.5,648.6 L61.7,648.5 L61.9,648.4 L62.0,648.3 L62.1,648.4 L62.3,648.6 L62.5,648.8 L62.6,648.9 L62.7,648.9 L62.9,649.0 L63.1,649.1 L63.2,649.1 L63.3,649.1 L63.5,649.1 L63.7,649.0 L63.8,649.0 L63.9,648.9 L64.4,648.8 L65.0,648.9 L65.6,649.1 L66.2,649.1 L66.8,649.2 L67.4,649.2 L68.0,649.1 L68.6,649.6 L69.2,648.9 L69.8,648.9 L70.4,649.0 L71.0,648.8 L71.6,649.1 L72.2,649.0 L72.8,649.6 L73.4,648.9 L74.0,649.1 L74.6,648.8 L75.2,648.8 L75.8,649.0 L76.4,649.3 L77.0,648.9 L77.6,648.8 L78.2,648.8 L78.8,649.1 L79.4,649.2 L80.0,649.0 L80.6,649.2 L81.2,649.5 L81.8,648.9 L82.4,648.9 L83.0,648.8 L83.6,649.2 L84.2,649.0 L84.8,649.3 L85.4,649.3 L86.0,648.9 L86.6,649.4 L87.2,649.0 L87.8,648.4 L88.4,648.7 L89.0,648.8 L89.6,648.8 L90.2,649.0 L90.8,649.1 L91.4,648.5 L92.0,649.0 L92.6,649.1 L93.2,648.8 L93.8,649.0 L94.4,648.6 L95.0,649.1 L95.6,649.1 L96.2,649.0 L96.8,648.6 L97.4,648.7 L98.0,648.9 L98.6,648.9 L99.2,648.8 L99.8,649.2 L100.4,648.8 L101.0,649.0 L101.6,648.9 L102.2,648.9 L102.8,648.8 L103.4,649.0 L104.0,648.7 L104.6,648.8 L105.2,649.1 L105.8,648.8 L106.4,649.0 L107.0,648.8 L107.6,648.7 L108.2,649.0 L108.8,648.9 L109.4,648.9 L110.0,648.9 L110.6,648.4 L111.2,648.8 L111.8,649.2 L112.4,648.9 L113.0,649.0 L113.6,648.3 L114.2,649.1 L114.8,649.2 L115.4,648.7 L116.0,649.0 L116.6,649.0 L117.2,649.0 L117.8,649.1 L118.4,649.0 L119.0,649.4 L119.6,648.9 L120.2,648.7 L120.8,648.4 L121.4,648.9 L122.0,648.7 L122.6,649.1 L123.2,648.5 L123.8,648.4 L124.4,648.8 L125.0,649.0 L125.6,648.9 L126.2,648.5 L126.8,649.2 L127.4,648.6 L128.0,649.1 L128.6,649.1 L129.2,648.8 L129.8,648.7 L130.4,648.7 L131.0,648.5 L131.6,649.2 L132.2,648.9 L132.8,648.7 L133.4,648.8 L134.0,648.6 L134.6,648.9 L135.2,649.0 L135.8,649.4 L136.4,649.3 L137.0,648.7 L137.6,649.2 L138.2,648.8 L138.8,648.7 L139.4,648.9 L140.0,648.7 L140.6,649.1 L141.2,648.8 L141.8,648.9 L142.4,649.3 L143.0,649.4 L143.6,648.9 L144.2,648.5 L144.8,648.6 L145.4,648.8 L146.0,648.7 L146.6,648.7 L147.2,649.0 L147.8,648.6 L148.4,648.8 L149.0,649.0 L149.6,648.0 L150.2,648.7 L150.8,648.9 L151.4,648.7 L152.0,649.2 L152.6,649.2 L153.2,648.5 L153.8,648.8 L154.4,649.2 L155.0,649.3 L155.6,648.9 L156.2,649.2 L156.8,648.6 L157.4,649.4 L158.0,648.6 L158.6,649.2 L159.2,649.2 L159.8,648.9 L160.4,649.2 L161.0,649.1 L161.6,649.1 L162.2,649.5 L162.8,649.2 L163.4,648.9 L164.0,649.4 L164.6,649.3 L165.2,649.2 L165.8,648.7 L166.4,648.7 L167.0,648.6 L167.6,649.2 L168.2,648.8 L168.8,648.9 L169.4,649.3 L170.0,648.8 L170.6,649.0 L171.2,649.1 L171.8,649.2 L172.4,649.4 L173.0,648.9 L173.6,648.9 L174.2,649.1 L174.8,649.1 L175.4,649.1 L176.0,648.8 L176.6,649.0 L177.2,649.4 L177.8,649.0 L178.4,648.9 L179.0,649.2 L179.6,649.1 L180.2,649.2 L180.8,648.9 L181.4,649.1 L182.0,649.0 L182.6,649.0 L183.2,648.7 L183.8,649.4 L184.4,648.5 L185.0,649.4 L185.6,649.1 L186.2,649.3 L186.8,649.0 L187.4,648.9 L188.0,648.5 L188.6,648.8 L189.2,649.3 L189.8,649.0 L190.4,649.1 L191.0,649.3 L191.6,649.0 L192.2,649.0 L192.8,649.2 L193.4,649.3 L194.0,648.9 L194.6,649.2 L195.2,648.8 L195.8,648.9 L196.4,649.4 L197.0,649.7 L197.6,649.1 L198.2,649.3 L198.8,649.4 L199.4,649.3 L200.0,648.8 L200.6,649.2 L201.2,648.7 L201.8,649.0 L202.4,649.6 L203.0,649.1 L203.6,648.8 L204.2,649.6 L204.8,649.5 L205.4,649.2 L206.0,649.3 L206.6,648.8 L207.2,649.4 L207.8,648.8 L208.4,649.6 L209.0,649.4 L209.6,649.1 L210.2,649.1 L210.8,649.2 L211.4,648.8 L212.0,648.8 L212.6,648.7 L213.2,649.3 L213.8,649.0 L214.4,649.3 L215.0,648.9 L215.6,649.8 L216.2,649.4 L216.8,649.3 L217.4,649.4 L218.0,648.9 L218.6,649.6 L219.2,649.5 L219.8,649.6 L220.4,649.3 L221.0,649.5 L221.6,649.0 L222.2,649.1 L222.8,649.8 L223.4,649.8 L224.0,649.1 L224.6,649.2 L225.2,649.7 L225.8,649.3 L226.4,649.6 L227.0,649.1 L227.6,649.6 L228.2,649.5 L228.8,649.2 L229.4,649.3 L230.0,649.1 L230.6,649.2 L231.2,649.7 L231.8,649.3 L232.4,649.6 L233.0,649.0 L233.6,649.0 L234.2,649.1 L234.8,648.8 L235.4,649.2 L236.0,649.0 L236.6,649.1 L237.2,649.1 L237.8,649.1 L238.4,649.3 L239.0,648.9 L239.6,649.6 L240.2,649.8 L240.8,649.6 L241.4,649.0 L242.0,649.4 L242.6,649.6 L243.2,649.6 L243.8,649.3 L244.4,649.4 L245.0,649.1 L245.6,649.5 L246.2,649.2 L246.8,649.6 L247.4,649.3 L248.0,648.7 L248.6,649.5 L249.2,649.4 L249.8,649.2 L250.4,649.7 L251.0,649.5 L251.6,649.5 L252.2,649.4 L252.8,649.8 L253.4,649.1 L254.0,649.4 L254.6,649.4 L255.2,649.5 L255.8,649.4 L256.4,650.0 L257.0,649.1 L257.6,649.7 L258.2,649.2 L258.8,649.5 L259.4,649.5 L260.0,649.3 L260.6,649.0 L261.2,649.5 L261.8,649.6 L262.4,649.3 L263.0,650.1 L263.6,649.7 L264.2,649.7 L264.8,649.5 L265.4,649.8 L266.0,649.2 L266.6,649.5 L267.2,649.4 L267.8,649.5 L268.4,649.5 L269.0,649.6 L269.6,649.1 L270.2,649.3 L270.8,649.1 L271.4,649.5 L272.0,649.4 L272.6,649.4 L273.2,649.6 L273.8,649.5 L274.4,649.9 L275.0,649.8 L275.6,649.7 L276.2,649.8 L276.8,649.4 L277.4,649.4 L278.0,649.4 L278.6,649.5 L279.2,649.2 L279.8,649.3 L280.4,649.3 L281.0,649.6 L281.6,649.1 L282.2,649.8 L282.8,649.9 L283.4,649.8 L284.0,649.2 L284.6,649.5 L285.2,649.6 L285.8,650.1 L286.4,649.6 L287.0,649.7 L287.6,650.0 L288.2,649.2 L288.8,649.5 L289.4,649.2 L290.0,649.5 L290.6,649.4 L291.2,649.7 L291.8,649.3 L292.4,649.6 L293.0,649.4 L293.6,649.5 L294.2,649.8 L294.8,649.5 L295.4,649.5 L296.0,649.7 L296.6,649.5 L297.2,649.3 L297.8,649.2 L298.4,649.5 L299.0,650.1 L299.6,649.3 L300.2,649.1 L300.8,649.6 L301.4,649.7 L302.0,649.4 L302.6,649.5 L303.2,649.3 L303.8,649.7 L304.4,649.1 L305.0,649.3 L305.6,649.8 L306.2,649.3 L306.8,649.6 L307.4,649.3 L308.0,649.4 L308.6,649.5 L309.2,649.4 L309.8,649.6 L310.4,649.7 L311.0,649.6 L311.6,649.6 L312.2,649.4 L312.8,649.5 L313.4,649.9 L314.0,649.3 L314.6,649.5 L315.2,649.3 L315.8,649.4 L316.4,649.5 L317.0,649.4 L317.6,649.9 L318.2,649.2 L318.8,649.1 L319.4,649.4 L320.0,649.7 L320.6,649.4 L321.2,649.6 L321.8,649.1 L322.4,649.6 L323.0,649.8 L323.6,649.7 L324.2,649.7 L324.8,649.4 L325.4,649.6 L326.0,649.5 L326.6,649.6 L327.2,649.2 L327.8,649.5 L328.4,649.5 L329.0,649.2 L329.6,649.5 L330.2,649.7 L330.8,649.6 L331.4,649.3 L332.0,649.5 L332.6,649.7 L333.2,649.3 L333.8,649.9 L334.4,650.1 L335.0,649.8 L335.6,650.0 L336.2,649.6 L336.8,649.6 L337.4,649.6 L338.0,649.7 L338.6,649.8 L339.2,649.3 L339.8,650.1 L340.4,649.4 L341.0,649.5 L341.6,649.6 L342.2,649.5 L342.8,650.0 L343.4,649.3 L344.0,649.5 L344.6,649.3 L345.2,650.1 L345.8,649.5 L346.4,649.6 L347.0,650.2 L347.6,649.7 L348.2,649.6 L348.8,649.8 L349.4,649.5 L350.0,649.5 L350.6,649.7 L351.2,649.7 L351.8,649.4 L352.4,649.9 L353.0,649.5 L353.6,649.3 L354.2,649.6 L354.8,649.5 L355.4,649.6 L356.0,649.4 L356.6,650.0 L357.2,650.0 L357.8,649.8 L358.4,649.8 L359.0,649.4 L359.6,649.3 L360.2,649.5 L360.8,649.3 L361.4,649.7 L362.0,649.8 L362.6,650.0 L363.2,649.4 L363.8,649.5 L364.4,649.7 L365.0,650.0 L365.6,649.9 L366.2,649.5 L366.8,649.7 L367.4,649.4 L368.0,649.6 L368.6,649.9 L369.2,650.0 L369.8,649.7 L370.4,649.3 L371.0,649.2 L371.6,649.9 L372.2,649.6 L372.8,649.9 L373.4,649.6 L374.0,650.4 L374.6,649.9 L375.2,650.2 L375.8,649.4 L376.4,649.8 L377.0,649.6 L377.6,649.7 L378.2,650.1 L378.8,649.6 L379.4,649.5 L380.0,649.7 L380.6,649.6 L381.2,649.5 L381.8,649.6 L382.4,649.8 L383.0,650.2 L383.6,650.0 L384.2,649.9 L384.8,649.6 L385.4,649.4 L386.0,649.8 L386.6,649.5 L387.2,650.4 L387.8,649.7 L388.4,650.1 L389.0,649.6 L389.6,649.5 L390.2,649.5 L390.8,649.6 L391.4,649.5 L392.0,649.4 L392.6,649.9 L393.2,649.4 L393.8,649.9 L394.4,650.1 L395.0,649.7 L395.6,649.6 L396.2,649.7 L396.8,650.0 L397.4,649.7 L398.0,649.9 L398.6,649.2 L399.2,649.7 L399.8,649.7 L400.4,650.0 L401.0,649.7 L401.6,649.4 L402.2,650.0 L402.8,649.9 L403.4,650.3 L404.0,649.9 L404.6,649.5 L405.2,650.2 L405.8,650.0 L406.4,650.1 L407.0,650.0 L407.6,650.1 L408.2,650.0 L408.8,650.2 L409.4,649.9 L410.0,649.7 L410.6,649.7 L411.2,650.4 L411.8,649.6 L412.4,649.8 L413.0,649.7 L413.6,650.1 L414.2,650.1 L414.8,649.8 L415.4,649.5 L416.0,650.2 L416.6,649.9 L417.2,649.8 L417.8,650.0 L418.4,649.9 L419.0,650.1 L419.6,649.7 L420.2,650.4 L420.8,649.9 L421.4,650.1 L422.0,650.0 L422.6,650.2 L423.2,650.7 L423.8,649.6 L424.4,649.8 L425.0,649.9 L425.6,650.0 L426.2,649.9 L426.8,650.1 L427.4,650.0 L428.0,649.7 L428.6,650.2 L429.2,650.2 L429.8,649.6 L430.4,650.2 L431.0,650.0 L431.6,650.1 L432.2,649.9 L432.8,649.9 L433.4,650.0 L434.0,650.3 L434.6,650.3 L435.2,650.1 L435.8,649.6 L436.4,650.5 L437.0,650.1 L437.6,650.0 L438.2,650.2 L438.8,650.0 L439.4,650.1 L440.0,649.9 L440.6,649.7 L441.2,650.2 L441.8,650.0 L442.4,650.0 L443.0,650.1 L443.6,650.1 L444.2,650.7 L444.8,650.1 L445.4,650.4 L446.0,650.2 L446.6,650.0 L447.2,650.0 L447.8,650.3 L448.4,650.3 L449.0,650.2 L449.6,650.4 L450.2,649.8 L450.8,649.7 L451.4,650.2 L452.0,649.8 L452.6,650.0 L453.2,650.4 L453.8,650.0 L454.4,650.0 L455.0,650.1 L455.6,650.5 L456.2,650.3 L456.8,650.7 L457.4,650.2 L458.0,650.3 L458.6,650.5" fill="none" stroke="#2f8f3e" stroke-width="0.9" stroke-linejoin="round" stroke-linecap="butt"/>
<path d="M3.2,648.6 L3.8,648.4 L4.4,648.9 L5.0,648.6 L5.6,648.4 L6.2,648.6 L6.8,648.8 L7.4,648.9 L8.0,648.7 L8.6,648.4 L9.2,648.4 L9.8,648.6 L10.4,648.5 L11.0,648.4 L11.6,648.5 L12.2,648.7 L12.8,648.5 L13.4,648.8 L14.0,648.6 L14.6,648.5 L15.2,648.4 L15.8,648.6 L16.4,648.4 L17.0,648.4 L17.6,648.4 L18.2,648.6 L18.8,648.5 L19.4,648.6 L20.0,648.6 L20.6,648.5 L21.2,648.4 L21.8,648.6 L22.4,648.5 L23.0,648.6 L23.6,648.6 L24.2,648.7 L24.8,648.5 L25.4,648.6 L26.0,648.5 L26.6,648.4 L27.2,648.5 L27.8,648.5 L28.4,648.7 L29.0,648.8 L29.6,648.7 L30.2,648.6 L30.8,648.6 L31.4,648.4 L32.0,648.5 L32.6,648.4 L33.2,648.7 L33.8,648.8 L34.4,648.5 L35.0,648.8 L35.6,648.8 L36.2,648.7 L36.8,648.5 L37.4,648.4 L38.0,648.6 L38.6,648.5 L39.2,648.6 L39.8,648.9 L40.4,648.8 L41.0,648.9 L41.6,648.6 L42.2,648.9 L42.8,648.8 L43.4,648.7 L44.0,648.5 L44.6,648.5 L45.2,648.7 L45.8,648.6 L46.4,648.6 L47.0,648.2 L47.6,648.9 L48.2,648.9 L48.8,648.9 L49.4,648.8 L50.0,648.7 L50.6,648.5 L51.2,648.6 L51.8,648.6 L52.4,648.6 L53.0,648.6 L53.6,648.7 L54.2,648.5 L54.8,648.6 L55.4,648.6 L56.0,648.5 L56.6,648.5 L57.2,648.5 L57.8,648.7 L58.4,648.5 L59.0,648.8 L59.6,648.9 L60.2,648.7 L60.8,648.5 L61.4,648.5 L62.0,648.6 L62.6,648.5 L63.2,648.9 L63.8,648.7 L64.4,648.6 L65.0,648.7 L65.6,648.6 L66.2,648.5 L66.8,648.6 L67.4,648.6 L68.0,648.2 L68.6,648.6 L69.2,648.6 L69.8,648.4 L70.4,648.3 L71.0,648.7 L71.6,648.8 L72.2,648.4 L72.8,648.4 L73.4,648.5 L74.0,648.6 L74.6,648.5 L75.2,648.8 L75.8,648.8 L76.4,648.4 L77.0,648.8 L77.6,648.6 L78.2,648.5 L78.8,648.6 L79.4,648.8 L80.0,648.7 L80.6,648.5 L81.2,648.7 L81.8,648.3 L82.4,648.6 L83.0,648.3 L83.6,648.6 L84.2,648.4 L84.8,648.5 L85.4,648.6 L86.0,648.8 L86.6,648.5 L87.2,648.6 L87.8,648.6 L88.4,648.7 L89.0,648.8 L89.6,648.8 L90.2,648.6 L90.8,648.5 L91.4,648.7 L92.0,648.8 L92.6,648.7 L93.2,648.8 L93.8,648.9 L94.4,648.7 L95.0,648.7 L95.6,648.7 L96.2,648.3 L96.8,648.5 L97.4,648.4 L98.0,648.6 L98.6,648.6 L99.2,648.7 L99.8,648.9 L100.4,648.9 L101.0,648.7 L101.6,648.5 L102.2,648.3 L102.8,648.6 L103.4,648.8 L104.0,648.7 L104.6,648.5 L105.2,648.8 L105.8,648.7 L106.4,648.5 L107.0,648.6 L107.6,648.5 L108.2,648.6 L108.8,648.6 L109.4,648.4 L110.0,648.5 L110.6,648.6 L111.2,648.5 L111.8,648.6 L112.4,648.6 L113.0,648.5 L113.6,648.6 L114.2,648.2 L114.8,648.6 L115.4,648.5 L116.0,648.3 L116.6,648.7 L117.2,648.6 L117.8,648.4 L118.4,648.6 L119.0,648.6 L119.6,648.7 L120.2,648.6 L120.8,648.7 L121.4,648.4 L122.0,648.5 L122.6,648.6 L123.2,648.4 L123.8,648.8 L124.4,648.7 L125.0,648.5 L125.6,648.6 L126.2,648.8 L126.8,648.7 L127.4,648.6 L128.0,648.7 L128.6,648.6 L129.2,648.6 L129.8,648.5 L130.4,648.6 L131.0,648.5 L131.6,648.7 L132.2,648.5 L132.8,648.5 L133.4,648.5 L134.0,648.5 L134.6,648.7 L135.2,648.6 L135.8,648.4 L136.4,648.6 L137.0,648.6 L137.6,648.4 L138.2,648.5 L138.8,648.5 L139.4,648.7 L140.0,648.7 L140.6,648.6 L141.2,648.3 L141.8,648.9 L142.4,648.9 L143.0,648.5 L143.6,648.6 L144.2,648.8 L144.8,648.5 L145.4,648.6 L146.0,648.7 L146.6,648.6 L147.2,648.7 L147.8,648.6 L148.4,648.7 L149.0,648.8 L149.6,648.7 L150.2,648.5 L150.8,648.4 L151.4,648.7 L152.0,648.8 L152.6,648.6 L153.2,648.4 L153.8,648.7 L154.4,648.4 L155.0,648.7 L155.6,648.4 L156.2,648.5 L156.8,648.9 L157.4,648.5 L158.0,648.6 L158.6,648.6 L159.2,648.7 L159.8,648.6 L160.4,648.7 L161.0,648.6 L161.6,648.4 L162.2,648.4 L162.8,648.4 L163.4,648.5 L164.0,648.5 L164.6,648.6 L165.2,648.8 L165.8,648.4 L166.4,648.7 L167.0,648.6 L167.6,648.8 L168.2,648.5 L168.8,648.4 L169.4,648.6 L170.0,648.5 L170.6,648.6 L171.2,648.6 L171.8,648.7 L172.4,649.0 L173.0,648.5 L173.6,648.5 L174.2,648.5 L174.8,648.3 L175.4,648.5 L176.0,648.5 L176.6,648.7 L177.2,648.2 L177.8,648.8 L178.4,648.7 L179.0,648.7 L179.6,648.4 L180.2,648.5 L180.8,648.5 L181.4,648.9 L182.0,648.7 L182.6,648.4 L183.2,648.7 L183.8,648.8 L184.4,648.6 L185.0,648.7 L185.6,648.6 L186.2,648.5 L186.8,648.8 L187.4,648.6 L188.0,648.4 L188.6,648.6 L189.2,648.6 L189.8,648.7 L190.4,648.5 L191.0,648.5 L191.6,648.7 L192.2,648.6 L192.8,648.3 L193.4,648.9 L194.0,648.4 L194.6,648.5 L195.2,648.8 L195.8,648.9 L196.4,648.7 L197.0,648.4 L197.6,648.7 L198.2,648.6 L198.8,648.6 L199.4,648.6 L200.0,648.3 L200.6,648.6 L201.2,648.8 L201.8,648.6 L202.4,648.5 L203.0,648.8 L203.6,648.6 L204.2,648.7 L204.8,648.8 L205.4,648.7 L206.0,648.5 L206.6,648.6 L207.2,648.9 L207.8,648.5 L208.4,648.6 L209.0,649.1 L209.6,648.8 L210.2,649.0 L210.8,648.7 L211.4,648.2 L212.0,648.3 L212.6,648.6 L213.2,648.7 L213.8,648.8 L214.4,648.7 L215.0,648.6 L215.6,648.4 L216.2,648.6 L216.8,648.4 L217.4,648.6 L218.0,648.9 L218.6,648.5 L219.2,648.4 L219.8,648.5 L220.4,648.4 L221.0,648.7 L221.6,648.6 L222.2,648.6 L222.8,648.5 L223.4,648.5 L224.0,648.4 L224.6,648.7 L225.2,648.8 L225.8,648.7 L226.4,648.6 L227.0,648.7 L227.6,648.7 L228.2,648.5 L228.8,648.4 L229.4,648.4 L230.0,648.5 L230.6,648.5 L231.2,648.7 L231.8,648.7 L232.4,648.6 L233.0,648.9 L233.6,648.6 L234.2,648.9 L234.8,648.3 L235.4,648.5 L236.0,648.7 L236.6,648.6 L237.2,648.7 L237.8,648.4 L238.4,648.4 L239.0,648.6 L239.6,648.7 L240.2,648.5 L240.8,648.6 L241.4,648.6 L242.0,648.7 L242.6,648.8 L243.2,648.8 L243.8,648.7 L244.4,648.9 L245.0,648.7 L245.6,648.3 L246.2,648.6 L246.8,648.5 L247.4,648.7 L248.0,648.4 L248.6,648.6 L249.2,648.5 L249.8,648.4 L250.4,648.5 L251.0,648.3 L251.6,648.7 L252.2,648.6 L252.8,648.5 L253.4,648.6 L254.0,648.5 L254.6,648.3 L255.2,648.6 L255.8,648.6 L256.4,648.7 L257.0,648.7 L257.6,648.9 L258.2,648.5 L258.8,648.4 L259.4,648.6 L260.0,648.4 L260.6,648.8 L261.2,648.6 L261.8,648.6 L262.4,648.5 L263.0,648.6 L263.6,648.5 L264.2,648.4 L264.8,648.8 L265.4,648.6 L266.0,648.5 L266.6,648.7 L267.2,648.5 L267.8,648.9 L268.4,648.8 L269.0,648.6 L269.6,648.9 L270.2,648.3 L270.8,648.3 L271.4,648.4 L272.0,648.5 L272.6,648.5 L273.2,648.6 L273.8,648.6 L274.4,648.9 L275.0,648.5 L275.6,648.6 L276.2,648.9 L276.8,648.7 L277.4,648.5 L278.0,648.9 L278.6,648.7 L279.2,648.9 L279.8,648.7 L280.4,648.6 L281.0,649.0 L281.6,648.7 L282.2,648.5 L282.8,648.7 L283.4,648.4 L284.0,648.5 L284.6,648.4 L285.2,648.8 L285.8,648.7 L286.4,648.6 L287.0,648.5 L287.6,648.7 L288.2,648.6 L288.8,648.8 L289.4,648.7 L290.0,648.5 L290.6,648.4 L291.2,648.5 L291.8,648.5 L292.4,648.6 L293.0,648.5 L293.6,648.4 L294.2,648.7 L294.8,648.4 L295.4,648.5 L296.0,648.4 L296.6,648.5 L297.2,648.7 L297.8,648.7 L298.4,648.6 L299.0,649.0 L299.6,648.7 L300.2,648.7 L300.8,648.7 L301.4,648.8 L302.0,648.8 L302.6,648.6 L303.2,648.7 L303.8,648.4 L304.4,648.6 L305.0,648.6 L305.6,648.5 L306.2,648.6 L306.8,648.6 L307.4,648.4 L308.0,648.5 L308.6,648.6 L309.2,648.8 L309.8,648.7 L310.4,648.5 L311.0,648.9 L311.6,648.7 L312.2,648.6 L312.8,648.8 L313.4,648.4 L314.0,648.6 L314.6,648.8 L315.2,648.8 L315.8,648.5 L316.4,648.4 L317.0,648.6 L317.6,648.6 L318.2,648.6 L318.8,648.4 L319.4,648.4 L320.0,648.8 L320.6,648.6 L321.2,648.5 L321.8,648.6 L322.4,648.5 L323.0,648.5 L323.6,648.7 L324.2,648.4 L324.8,648.6 L325.4,648.4 L326.0,648.6 L326.6,648.6 L327.2,648.4 L327.8,648.5 L328.4,648.4 L329.0,648.5 L329.6,648.3 L330.2,648.7 L330.8,648.6 L331.4,648.7 L332.0,648.8 L332.6,648.6 L333.2,648.8 L333.8,648.6 L334.4,648.4 L335.0,648.5 L335.6,648.7 L336.2,648.6 L336.8,648.5 L337.4,648.4 L338.0,648.6 L338.6,648.6 L339.2,648.5 L339.8,648.6 L340.4,648.5 L341.0,648.6 L341.6,648.4 L342.2,648.7 L342.8,648.6 L343.4,648.5 L344.0,648.7 L344.6,648.7 L345.2,648.6 L345.8,648.8 L346.4,648.7 L347.0,648.8 L347.6,648.7 L348.2,648.7 L348.8,648.7 L349.4,648.5 L350.0,648.4 L350.6,648.5 L351.2,648.7 L351.8,648.6 L352.4,648.8 L353.0,648.5 L353.6,648.5 L354.2,648.7 L354.8,648.6 L355.4,648.5 L356.0,648.5 L356.6,648.7 L357.2,648.7 L357.8,648.9 L358.4,648.7 L359.0,648.7 L359.6,648.6 L360.2,648.5 L360.8,648.8 L361.4,648.7 L362.0,648.7 L362.6,648.8 L363.2,648.6 L363.8,648.7 L364.4,648.6 L365.0,648.5 L365.6,648.5 L366.2,648.6 L366.8,648.6 L367.4,648.6 L368.0,648.4 L368.6,648.9 L369.2,648.6 L369.8,648.7 L370.4,648.6 L371.0,648.4 L371.6,648.6 L372.2,648.6 L372.8,648.7 L373.4,648.6 L374.0,648.6 L374.6,648.8 L375.2,648.5 L375.8,648.7 L376.4,648.9 L377.0,648.6 L377.6,648.5 L378.2,648.5 L378.8,648.6 L379.4,648.6 L380.0,648.5 L380.6,648.5 L381.2,648.9 L381.8,648.7 L382.4,648.6 L383.0,648.6 L383.6,648.5 L384.2,648.5 L384.8,648.6 L385.4,648.7 L386.0,648.3 L386.6,648.7 L387.2,648.6 L387.8,648.3 L388.4,648.5 L389.0,648.5 L389.6,648.6 L390.2,648.4 L390.8,648.2 L391.4,648.6 L392.0,648.6 L392.6,648.4 L393.2,648.3 L393.8,648.5 L394.4,648.7 L395.0,648.6 L395.6,648.7 L396.2,648.5 L396.8,648.6 L397.4,648.5 L398.0,648.6 L398.6,648.5 L399.2,648.9 L399.8,648.6 L400.4,648.6 L401.0,648.6 L401.6,648.8 L402.2,648.4 L402.8,648.7 L403.4,648.5 L404.0,648.7 L404.6,648.6 L405.2,648.7 L405.8,648.9 L406.4,648.7 L407.0,648.4 L407.6,648.8 L408.2,648.6 L408.8,648.9 L409.4,648.4 L410.0,648.8 L410.6,648.8 L411.2,648.6 L411.8,648.5 L412.4,648.8 L413.0,648.6 L413.6,648.5 L414.2,648.6 L414.8,648.7 L415.4,648.5 L416.0,648.4 L416.6,648.2 L417.2,648.4 L417.8,648.9 L418.4,648.4 L419.0,648.4 L419.6,648.6 L420.2,648.5 L420.8,648.4 L421.4,648.6 L422.0,648.8 L422.6,648.6 L423.2,648.5 L423.8,648.7 L424.4,648.7 L425.0,648.8 L425.6,648.5 L426.2,648.8 L426.8,648.6 L427.4,648.7 L428.0,648.4 L428.6,648.4 L429.2,648.2 L429.8,648.7 L430.4,648.7 L431.0,648.6 L431.6,648.8 L432.2,648.7 L432.8,648.5 L433.4,648.6 L434.0,648.5 L434.6,648.7 L435.2,648.7 L435.8,648.6 L436.4,648.5 L437.0,648.4 L437.6,648.4 L438.2,648.6 L438.8,648.7 L439.4,648.7 L440.0,648.6 L440.6,648.8 L441.2,648.7 L441.8,648.9 L442.4,648.6 L443.0,648.6 L443.6,648.7 L444.2,648.5 L444.8,648.6 L445.4,648.6 L446.0,648.5 L446.6,648.5 L447.2,648.8 L447.8,648.7 L448.4,648.8 L449.0,648.5 L449.6,648.6 L450.2,648.5 L450.8,648.7 L451.4,648.8 L452.0,648.4 L452.6,648.5 L453.2,648.8 L453.8,648.4 L454.4,648.7 L455.0,648.4 L455.6,648.5 L456.2,648.7 L456.8,648.6 L457.4,648.6 L458.0,649.1 L458.6,648.5" fill="none" stroke="#1d2550" stroke-width="0.8" stroke-linejoin="round" stroke-linecap="butt"/>
<path d="M3.2,648.4 L3.8,648.6 L4.4,648.8 L5.0,648.1 L5.6,648.4 L6.2,648.8 L6.8,648.8 L7.4,648.4 L8.0,648.1 L8.6,648.4 L9.2,648.7 L9.8,648.1 L10.4,648.7 L11.0,648.2 L11.6,648.4 L12.2,648.6 L12.8,648.7 L13.4,648.7 L14.0,648.5 L14.6,648.2 L15.2,648.6 L15.8,648.7 L16.4,648.2 L17.0,648.3 L17.6,648.5 L18.2,648.2 L18.8,648.5 L19.4,648.1 L20.0,648.6 L20.6,648.7 L21.2,648.6 L21.8,648.5 L22.4,648.5 L23.0,648.7 L23.6,648.6 L24.2,648.8 L24.8,648.6 L25.4,648.1 L26.0,648.6 L26.6,648.8 L27.2,648.7 L27.8,648.7 L28.4,648.5 L29.0,648.7 L29.6,648.2 L30.1,648.7 L30.2,648.7 L30.3,648.7 L30.5,648.6 L30.7,648.6 L30.8,648.6 L30.9,648.5 L31.1,648.3 L31.3,647.8 L31.4,647.5 L31.5,646.6 L31.7,642.9 L31.9,633.0 L32.0,627.0 L32.1,611.0 L32.3,571.5 L32.5,513.7 L32.6,490.5 L32.7,447.5 L32.9,393.2 L33.1,372.0 L33.2,378.0 L33.3,392.4 L33.5,421.5 L33.7,455.0 L33.8,466.7 L33.9,487.5 L34.1,515.3 L34.3,536.9 L34.4,543.1 L34.5,553.1 L34.7,565.1 L34.9,574.2 L35.0,577.0 L35.1,581.4 L35.3,587.4 L35.5,592.7 L35.6,594.4 L35.7,597.6 L35.9,602.1 L36.1,606.3 L36.2,607.7 L36.3,610.0 L36.5,613.3 L36.7,616.2 L36.8,617.2 L36.9,619.1 L37.1,621.7 L37.3,624.1 L37.4,624.8 L37.5,626.2 L37.7,628.1 L37.9,629.8 L38.0,630.3 L38.1,631.5 L38.3,633.0 L38.5,634.5 L38.6,635.0 L38.7,635.8 L38.9,637.0 L39.1,638.1 L39.2,638.5 L39.3,639.0 L39.5,639.6 L39.7,640.2 L39.8,640.4 L39.9,640.8 L40.1,641.5 L40.3,642.2 L40.4,642.4 L40.5,642.7 L40.7,643.1 L40.9,643.4 L41.0,643.6 L41.1,643.9 L41.3,644.3 L41.5,644.8 L41.6,644.9 L41.7,645.1 L41.9,645.4 L42.1,645.7 L42.2,645.8 L42.3,646.0 L42.5,646.3 L42.7,646.6 L42.8,646.7 L42.9,646.8 L43.1,647.0 L43.3,647.2 L43.4,647.3 L43.5,647.3 L43.7,647.3 L43.9,647.3 L44.0,647.3 L44.1,647.4 L44.3,647.6 L44.5,647.8 L44.6,647.9 L44.7,647.8 L44.9,647.7 L45.1,647.5 L45.2,647.5 L45.3,647.5 L45.5,647.6 L45.7,647.6 L45.8,647.6 L45.9,647.7 L46.1,647.8 L46.3,647.9 L46.4,648.0 L46.5,648.0 L46.7,647.9 L46.9,647.9 L47.0,647.9 L47.1,648.0 L47.3,648.1 L47.5,648.2 L47.6,648.3 L47.7,648.3 L47.9,648.4 L48.1,648.4 L48.2,648.5 L48.3,648.3 L48.8,647.8 L49.4,648.5 L50.0,648.1 L50.6,648.6 L51.2,648.4 L51.8,648.3 L52.4,648.9 L53.0,648.8 L53.6,648.7 L54.2,648.6 L54.8,648.5 L55.4,648.7 L56.0,648.7 L56.6,648.8 L57.2,648.8 L57.8,648.4 L58.4,648.6 L59.0,648.8 L59.6,648.8 L60.2,648.7 L60.8,648.9 L61.4,648.5 L62.0,648.4 L62.6,648.8 L63.2,648.6 L63.8,648.6 L64.4,648.3 L65.0,648.7 L65.6,648.6 L66.2,648.8 L66.8,648.8 L67.4,648.7 L68.0,647.7 L68.6,648.2 L69.2,648.4 L69.8,648.4 L70.4,648.9 L71.0,648.8 L71.6,648.3 L72.2,648.5 L72.8,648.2 L73.4,648.5 L74.0,648.4 L74.6,648.5 L75.2,648.4 L75.8,648.4 L76.4,648.3 L77.0,648.7 L77.6,648.6 L78.2,648.7 L78.8,648.5 L79.4,648.4 L80.0,648.5 L80.6,649.0 L81.2,648.7 L81.8,648.7 L82.4,648.6 L83.0,648.7 L83.6,648.6 L84.2,648.3 L84.8,648.4 L85.4,648.2 L86.0,648.9 L86.6,648.8 L87.2,648.9 L87.8,648.3 L88.4,648.4 L89.0,648.7 L89.6,648.7 L90.2,648.5 L90.8,648.2 L91.4,648.2 L92.0,648.7 L92.6,648.3 L93.2,648.6 L93.8,648.2 L94.4,647.9 L95.0,648.4 L95.6,648.4 L96.2,649.2 L96.8,648.4 L97.4,649.0 L98.0,648.7 L98.6,648.4 L99.2,649.0 L99.8,648.0 L100.4,648.7 L101.0,648.4 L101.6,648.7 L102.2,648.4 L102.8,648.7 L103.4,648.6 L104.0,649.2 L104.6,648.4 L105.2,648.4 L105.8,648.7 L106.4,648.7 L107.0,648.9 L107.6,648.8 L108.2,648.5 L108.8,648.5 L109.4,648.4 L110.0,648.3 L110.6,648.4 L111.2,648.5 L111.8,648.5 L112.4,648.7 L113.0,648.3 L113.6,648.8 L114.2,648.8 L114.8,648.5 L115.4,649.0 L116.0,648.7 L116.6,649.0 L117.2,648.8 L117.8,647.8 L118.4,649.0 L119.0,648.4 L119.6,648.8 L120.2,648.9 L120.8,649.0 L121.4,648.5 L122.0,648.7 L122.6,648.6 L123.2,648.2 L123.8,649.0 L124.4,649.2 L125.0,648.6 L125.6,648.3 L126.2,648.6 L126.8,648.3 L127.4,648.4 L128.0,648.6 L128.6,648.8 L129.2,648.6 L129.8,648.4 L130.4,648.5 L131.0,648.7 L131.6,648.6 L132.2,648.7 L132.8,648.5 L133.4,648.7 L134.0,648.3 L134.6,648.6 L135.2,648.6 L135.8,649.1 L136.4,649.2 L137.0,648.7 L137.6,648.8 L138.2,648.2 L138.8,648.9 L139.4,648.9 L140.0,648.5 L140.6,649.2 L141.2,648.7 L141.8,649.0 L142.4,649.4 L143.0,649.1 L143.6,648.7 L144.2,648.7 L144.8,648.8 L145.4,648.9 L146.0,648.7 L146.6,648.6 L147.2,648.7 L147.8,648.3 L148.4,648.5 L149.0,648.9 L149.6,648.9 L150.2,648.9 L150.8,648.7 L151.4,648.4 L152.0,648.3 L152.6,648.7 L153.2,648.9 L153.8,649.0 L154.4,649.1 L155.0,648.3 L155.6,648.8 L156.2,648.8 L156.8,648.2 L157.4,648.9 L158.0,648.7 L158.6,648.6 L159.2,649.2 L159.8,649.0 L160.4,647.9 L161.0,648.6 L161.6,649.2 L162.2,648.8 L162.8,648.7 L163.4,648.6 L164.0,648.7 L164.6,649.0 L165.2,648.7 L165.8,648.4 L166.4,648.8 L167.0,649.0 L167.6,649.0 L168.2,649.3 L168.8,648.4 L169.4,648.6 L170.0,648.7 L170.6,648.7 L171.2,648.4 L171.8,648.8 L172.4,649.0 L173.0,648.4 L173.6,649.3 L174.2,648.8 L174.8,648.4 L175.4,648.3 L176.0,648.7 L176.6,648.7 L177.2,648.7 L177.8,648.8 L178.4,648.7 L179.0,648.3 L179.6,648.6 L180.2,648.3 L180.8,648.6 L181.4,648.8 L182.0,648.8 L182.6,648.1 L183.2,648.8 L183.8,648.4 L184.4,648.9 L185.0,648.5 L185.6,648.8 L186.2,648.8 L186.8,648.9 L187.4,648.9 L188.0,648.6 L188.6,648.3 L189.2,648.6 L189.8,648.9 L190.4,648.6 L191.0,649.3 L191.6,648.7 L192.2,648.1 L192.8,649.3 L193.4,648.8 L194.0,648.4 L194.6,648.2 L195.2,648.4 L195.8,648.8 L196.4,648.3 L197.0,648.3 L197.6,648.7 L198.2,648.6 L198.8,648.9 L199.4,648.7 L200.0,648.3 L200.6,648.9 L201.2,648.4 L201.8,648.6 L202.4,648.6 L203.0,648.8 L203.6,648.5 L204.2,648.7 L204.8,648.7 L205.4,649.0 L206.0,648.6 L206.6,648.7 L207.2,648.4 L207.8,648.6 L208.4,648.7 L209.0,648.8 L209.6,648.8 L210.2,648.8 L210.8,648.5 L211.4,649.0 L212.0,649.0 L212.6,648.6 L213.2,648.3 L213.8,648.5 L214.4,648.7 L215.0,648.1 L215.6,648.5 L216.2,648.8 L216.8,648.6 L217.4,648.4 L218.0,648.7 L218.6,648.4 L219.2,648.7 L219.8,648.6 L220.4,648.5 L221.0,649.2 L221.6,648.3 L222.2,648.5 L222.8,648.5 L223.4,648.6 L224.0,648.7 L224.6,648.3 L225.2,648.6 L225.8,648.4 L226.4,649.0 L227.0,648.1 L227.6,648.6 L228.2,648.5 L228.8,648.9 L229.4,648.8 L230.0,648.5 L230.6,649.4 L231.2,648.3 L231.8,648.8 L232.4,648.8 L233.0,648.6 L233.6,648.1 L234.2,648.5 L234.8,648.3 L235.4,648.9 L236.0,648.7 L236.6,648.4 L237.2,648.9 L237.8,649.3 L238.4,648.8 L239.0,648.7 L239.6,648.6 L240.2,648.4 L240.8,648.4 L241.4,648.7 L242.0,648.4 L242.6,648.6 L243.2,648.6 L243.8,648.8 L244.4,648.4 L245.0,648.7 L245.6,648.3 L246.2,648.9 L246.8,648.3 L247.4,648.9 L248.0,648.5 L248.6,648.8 L249.2,648.8 L249.8,648.4 L250.4,649.0 L251.0,648.3 L251.6,648.0 L252.2,648.4 L252.8,648.9 L253.4,648.4 L254.0,648.6 L254.6,648.5 L255.2,648.6 L255.8,648.3 L256.4,648.1 L257.0,648.5 L257.6,648.2 L258.2,648.7 L258.8,647.9 L259.4,648.8 L260.0,648.8 L260.6,648.6 L261.2,648.3 L261.8,648.3 L262.4,648.9 L263.0,648.5 L263.6,648.4 L264.2,647.9 L264.8,648.6 L265.4,648.9 L266.0,648.9 L266.6,648.6 L267.2,648.4 L267.8,648.5 L268.4,648.5 L269.0,648.7 L269.6,648.5 L270.2,648.5 L270.8,647.9 L271.4,648.5 L272.0,648.8 L272.6,648.6 L273.2,648.6 L273.8,649.0 L274.4,648.5 L275.0,648.5 L275.6,648.5 L276.2,648.8 L276.8,648.6 L277.4,648.4 L278.0,648.3 L278.6,648.4 L279.2,648.8 L279.8,648.3 L280.4,648.1 L281.0,648.6 L281.6,649.2 L282.2,648.3 L282.8,648.2 L283.4,648.5 L284.0,648.6 L284.6,648.2 L285.2,648.3 L285.8,648.5 L286.4,648.5 L287.0,648.4 L287.6,648.2 L288.2,648.5 L288.8,648.8 L289.4,648.7 L290.0,648.5 L290.6,648.4 L291.2,648.6 L291.8,648.3 L292.4,648.7 L293.0,648.3 L293.6,648.1 L294.2,648.3 L294.8,648.5 L295.4,648.4 L296.0,649.0 L296.6,648.1 L297.2,648.7 L297.8,648.8 L298.4,648.6 L299.0,648.8 L299.6,648.5 L300.2,648.6 L300.8,648.6 L301.4,648.3 L302.0,648.4 L302.6,648.7 L303.2,648.6 L303.8,648.8 L304.4,648.3 L305.0,648.8 L305.6,648.7 L306.2,648.1 L306.8,648.6 L307.4,648.5 L308.0,648.4 L308.6,649.0 L309.2,648.5 L309.8,648.3 L310.4,648.5 L311.0,648.4 L311.6,648.8 L312.2,648.6 L312.8,648.6 L313.4,648.6 L314.0,648.9 L314.6,648.7 L315.2,648.5 L315.8,648.7 L316.4,648.4 L317.0,648.2 L317.6,648.5 L318.2,648.6 L318.8,648.4 L319.4,648.8 L320.0,648.7 L320.6,648.8 L321.2,648.8 L321.8,648.2 L322.4,648.8 L323.0,648.6 L323.6,648.7 L324.2,648.7 L324.8,648.7 L325.4,648.6 L326.0,648.5 L326.6,648.7 L327.2,648.5 L327.8,648.6 L328.4,648.7 L329.0,648.6 L329.6,648.2 L330.2,648.9 L330.8,648.6 L331.4,648.4 L332.0,648.5 L332.6,648.8 L333.2,648.9 L333.8,648.6 L334.4,648.3 L335.0,648.4 L335.6,648.6 L336.2,648.7 L336.8,648.7 L337.4,648.7 L338.0,649.0 L338.6,649.0 L339.2,648.6 L339.8,648.2 L340.4,648.6 L341.0,649.1 L341.6,648.9 L342.2,648.6 L342.8,648.9 L343.4,648.6 L344.0,648.8 L344.6,648.8 L345.2,649.0 L345.8,648.5 L346.4,648.6 L347.0,648.5 L347.6,648.5 L348.2,648.7 L348.8,648.4 L349.4,648.9 L350.0,648.5 L350.6,648.7 L351.2,648.8 L351.8,648.8 L352.4,648.5 L353.0,648.6 L353.6,648.4 L354.2,648.9 L354.8,648.6 L355.4,648.9 L356.0,648.5 L356.6,648.3 L357.2,648.9 L357.8,648.4 L358.4,648.9 L359.0,648.3 L359.6,648.6 L360.2,648.5 L360.8,648.9 L361.4,648.3 L362.0,648.7 L362.6,648.8 L363.2,648.4 L363.8,648.9 L364.4,648.7 L365.0,648.8 L365.6,648.9 L366.2,648.4 L366.8,648.3 L367.4,648.9 L368.0,648.3 L368.6,648.4 L369.2,648.8 L369.8,648.5 L370.4,648.2 L371.0,648.8 L371.6,648.8 L372.2,648.9 L372.8,648.2 L373.4,648.4 L374.0,648.9 L374.6,648.7 L375.2,648.5 L375.8,648.7 L376.4,648.4 L377.0,648.7 L377.6,648.4 L378.2,648.6 L378.8,648.6 L379.4,648.8 L380.0,648.6 L380.6,648.5 L381.2,649.1 L381.8,648.5 L382.4,648.4 L383.0,648.5 L383.6,648.6 L384.2,648.7 L384.8,648.9 L385.4,648.9 L386.0,648.8 L386.6,648.9 L387.2,648.7 L387.8,648.8 L388.4,648.7 L389.0,648.4 L389.6,648.6 L390.2,648.5 L390.8,649.1 L391.4,648.5 L392.0,648.9 L392.6,648.3 L393.2,649.0 L393.8,648.9 L394.4,648.5 L395.0,648.2 L395.6,649.0 L396.2,648.7 L396.8,648.9 L397.4,648.3 L398.0,648.2 L398.6,648.6 L399.2,648.4 L399.8,648.8 L400.4,648.9 L401.0,648.5 L401.6,648.8 L402.2,648.5 L402.8,648.7 L403.4,648.4 L404.0,648.7 L404.6,648.7 L405.2,648.4 L405.8,648.6 L406.4,648.3 L407.0,648.8 L407.6,648.9 L408.2,648.4 L408.8,648.5 L409.4,648.8 L410.0,648.9 L410.6,648.8 L411.2,648.7 L411.8,648.7 L412.4,648.9 L413.0,648.9 L413.6,648.5 L414.2,648.4 L414.8,648.3 L415.4,648.9 L416.0,648.9 L416.6,648.5 L417.2,648.7 L417.8,648.5 L418.4,648.5 L419.0,648.8 L419.6,648.7 L420.2,649.1 L420.8,649.0 L421.4,648.5 L422.0,648.2 L422.6,649.1 L423.2,649.0 L423.8,648.8 L424.4,648.5 L425.0,649.1 L425.6,648.7 L426.2,648.4 L426.8,649.2 L427.4,649.0 L428.0,648.5 L428.6,648.4 L429.2,648.9 L429.8,648.5 L430.4,648.4 L431.0,649.0 L431.6,648.7 L432.2,648.8 L432.8,648.7 L433.4,648.6 L434.0,648.9 L434.6,649.1 L435.2,649.0 L435.8,649.0 L436.4,648.7 L437.0,648.4 L437.6,648.8 L438.2,648.8 L438.8,648.8 L439.4,648.5 L440.0,648.7 L440.6,648.6 L441.2,648.8 L441.8,648.7 L442.4,648.7 L443.0,648.4 L443.6,648.6 L444.2,648.4 L444.8,648.5 L445.4,648.6 L446.0,649.1 L446.6,648.7 L447.2,648.9 L447.8,648.4 L448.4,648.6 L449.0,648.5 L449.6,648.7 L450.2,648.3 L450.8,649.1 L451.4,648.5 L452.0,648.7 L452.6,648.9 L453.2,648.8 L453.8,648.6 L454.4,648.6 L455.0,648.4 L455.6,648.8 L456.2,648.8 L456.8,648.4 L457.4,648.3 L458.0,648.9 L458.6,648.8" fill="none" stroke="#303a99" stroke-width="0.95" stroke-linejoin="round" stroke-linecap="butt"/>
<line x1="3.3" y1="346.75" x2="3.3" y2="652.9" stroke="#828282" stroke-width="1.3"/>
<line x1="2.3" y1="652.4" x2="459.0" y2="652.4" stroke="#5c5c5c" stroke-width="0.9"/>
<line x1="29.2" y1="652.4" x2="29.2" y2="654.7" stroke="#2a2a2a" stroke-width="1.15"/>
<text x="28.8" y="665.5" text-anchor="middle" class="tk">2</text>
<line x1="55.3" y1="652.4" x2="55.3" y2="654.7" stroke="#2a2a2a" stroke-width="1.15"/>
<text x="54.8" y="665.5" text-anchor="middle" class="tk">4</text>
<line x1="81.4" y1="652.4" x2="81.4" y2="654.7" stroke="#2a2a2a" stroke-width="1.15"/>
<text x="80.9" y="665.5" text-anchor="middle" class="tk">6</text>
<line x1="107.5" y1="652.4" x2="107.5" y2="654.7" stroke="#2a2a2a" stroke-width="1.15"/>
<text x="107.0" y="665.5" text-anchor="middle" class="tk">8</text>
<line x1="133.6" y1="652.4" x2="133.6" y2="654.7" stroke="#2a2a2a" stroke-width="1.15"/>
<text x="133.1" y="665.5" text-anchor="middle" class="tk">10</text>
<line x1="159.6" y1="652.4" x2="159.6" y2="654.7" stroke="#2a2a2a" stroke-width="1.15"/>
<text x="159.1" y="665.5" text-anchor="middle" class="tk">12</text>
<line x1="185.7" y1="652.4" x2="185.7" y2="654.7" stroke="#2a2a2a" stroke-width="1.15"/>
<text x="185.2" y="665.5" text-anchor="middle" class="tk">14</text>
<line x1="211.8" y1="652.4" x2="211.8" y2="654.7" stroke="#2a2a2a" stroke-width="1.15"/>
<text x="211.3" y="665.5" text-anchor="middle" class="tk">16</text>
<line x1="237.9" y1="652.4" x2="237.9" y2="654.7" stroke="#2a2a2a" stroke-width="1.15"/>
<text x="237.4" y="665.5" text-anchor="middle" class="tk">18</text>
<line x1="264.0" y1="652.4" x2="264.0" y2="654.7" stroke="#2a2a2a" stroke-width="1.15"/>
<text x="263.5" y="665.5" text-anchor="middle" class="tk">20</text>
<line x1="290.1" y1="652.4" x2="290.1" y2="654.7" stroke="#2a2a2a" stroke-width="1.15"/>
<text x="289.6" y="665.5" text-anchor="middle" class="tk">22</text>
<line x1="316.1" y1="652.4" x2="316.1" y2="654.7" stroke="#2a2a2a" stroke-width="1.15"/>
<text x="315.6" y="665.5" text-anchor="middle" class="tk">24</text>
<line x1="342.2" y1="652.4" x2="342.2" y2="654.7" stroke="#2a2a2a" stroke-width="1.15"/>
<text x="341.7" y="665.5" text-anchor="middle" class="tk">26</text>
<line x1="368.3" y1="652.4" x2="368.3" y2="654.7" stroke="#2a2a2a" stroke-width="1.15"/>
<text x="367.8" y="665.5" text-anchor="middle" class="tk">28</text>
<line x1="394.4" y1="652.4" x2="394.4" y2="654.7" stroke="#2a2a2a" stroke-width="1.15"/>
<text x="393.9" y="665.5" text-anchor="middle" class="tk">30</text>
<line x1="420.4" y1="652.4" x2="420.4" y2="654.7" stroke="#2a2a2a" stroke-width="1.15"/>
<text x="419.9" y="665.5" text-anchor="middle" class="tk">32</text>
<line x1="446.5" y1="652.4" x2="446.5" y2="654.7" stroke="#2a2a2a" stroke-width="1.15"/>
<text x="446.0" y="665.5" text-anchor="middle" class="tk">34</text>
</g>
<text x="41.6" y="50" class="lb" textLength="21.6" lengthAdjust="spacingAndGlyphs">C0</text>
<text x="47.6" y="174.3" class="lb" textLength="21.7" lengthAdjust="spacingAndGlyphs">C2</text>
<text transform="translate(140.1,274.4) rotate(-90)" class="lb" textLength="101.4" lengthAdjust="spacingAndGlyphs">C4; isobutyryl-</text>
<text transform="translate(167.6,296.4) rotate(-90)" class="lb ws" textLength="112.1" lengthAdjust="spacingAndGlyphs">D3-butyryl- (IS)</text>
<text transform="translate(243.5,292.9) rotate(-90)" class="lb ws" textLength="133.4" lengthAdjust="spacingAndGlyphs">D9-isovaleryl- (IS)</text>
<text x="356.6" y="62" class="hd" textLength="40.6" lengthAdjust="spacingAndGlyphs">IBDH</text>
<text x="46" y="403.9" class="lb" textLength="21.8" lengthAdjust="spacingAndGlyphs">C0</text>
<text x="62.2" y="478.7" class="lb" textLength="21.9" lengthAdjust="spacingAndGlyphs">C2</text>
<text x="76.2" y="632.3" class="lb" textLength="22.1" lengthAdjust="spacingAndGlyphs">C3</text>
<text transform="translate(161.75,525.6) rotate(-90)" class="lb" textLength="84.1" lengthAdjust="spacingAndGlyphs">C4; butyryl-</text>
<text transform="translate(196.25,620.9) rotate(-90)" class="lb ws" textLength="112.6" lengthAdjust="spacingAndGlyphs">D3-butyryl- (IS)</text>
<text x="248.7" y="455.75" class="lb" textLength="104.6" lengthAdjust="spacingAndGlyphs">C5; isovaleryl-</text>
<text x="271.2" y="618.5" class="lb ws" textLength="133.9" lengthAdjust="spacingAndGlyphs">D9-isovaleryl- (IS)</text>
<text x="347.2" y="378.75" class="hd" textLength="83.6" lengthAdjust="spacingAndGlyphs">SCAD+IVA</text>
<text x="212.9" y="684" class="ax" textLength="52.8" lengthAdjust="spacingAndGlyphs">Time, min</text>
<line x1="188.6" y1="620.8" x2="166.7" y2="636.2" stroke="#000" stroke-width="2.2"/><polygon points="160.3,640.7 165.1,632.2 169.9,639.1" fill="#000"/>
<line x1="269.2" y1="617.9" x2="247.6" y2="633.4" stroke="#000" stroke-width="2.2"/><polygon points="241.3,638.0 246.0,629.4 250.9,636.3" fill="#000"/>
</g>
</svg>
</body></html>
